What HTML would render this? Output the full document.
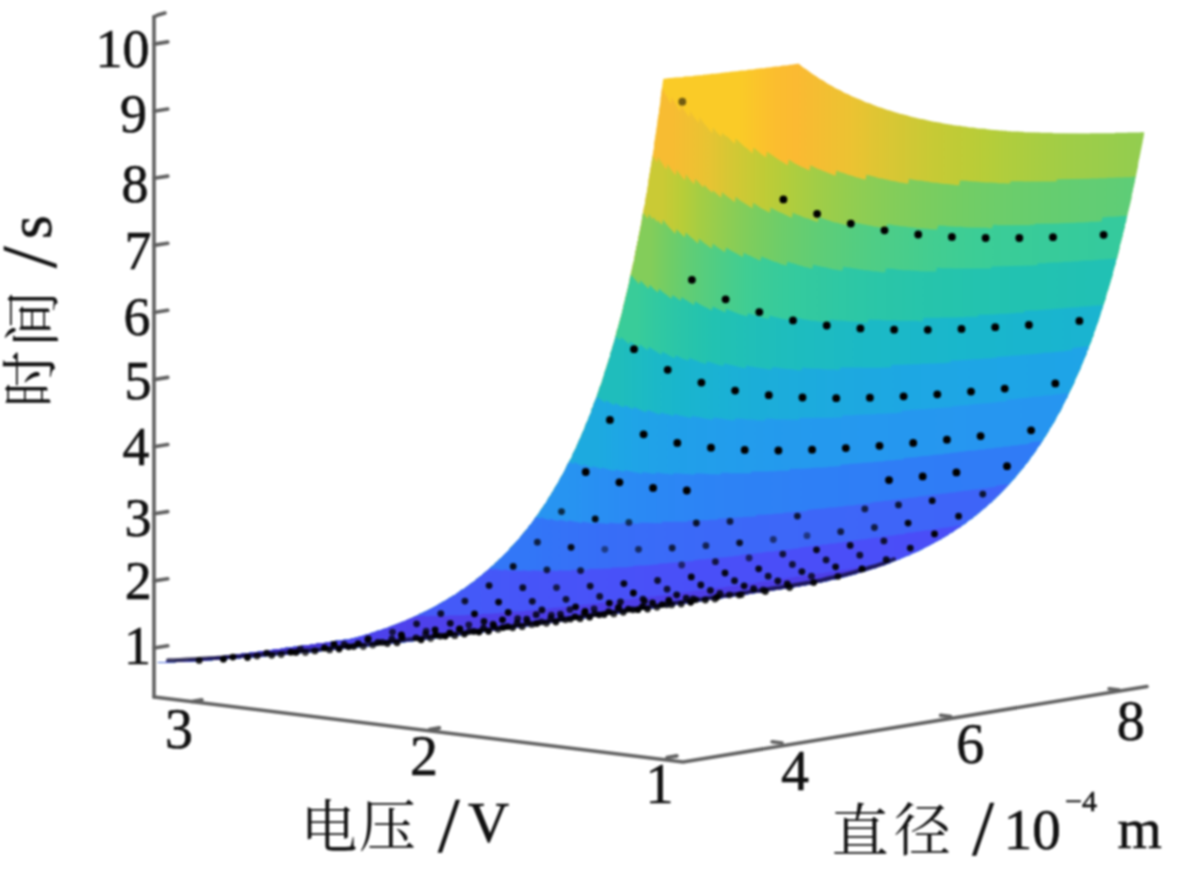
<!DOCTYPE html>
<html><head><meta charset="utf-8"><style>
html,body{margin:0;padding:0;background:#fff;}
svg{display:block;filter:blur(1.3px);}
.l{font-family:"Liberation Serif","Noto Serif CJK SC",serif;stroke:#111;stroke-width:0.6px;}
.c{font-family:"Liberation Serif","Noto Serif CJK SC",serif;}
</style></head><body>
<svg width="1200" height="881" viewBox="0 0 1200 881">
<rect width="1200" height="881" fill="#fff"/>
<g stroke="#606060" stroke-width="3.6" stroke-linecap="round" fill="none"><line x1="154.0" y1="697.0" x2="154.0" y2="16.6"/>
<polyline fill="none" points="154.0,697.0 683.0,762.0 1147.0,686.5"/>
<polyline fill="none" points="154,17 158,15 165,13"/>
<line x1="154.0" y1="648.0" x2="167.8" y2="645.8"/>
<line x1="154.0" y1="580.9" x2="167.8" y2="578.7"/>
<line x1="154.0" y1="513.8" x2="167.8" y2="511.6"/>
<line x1="154.0" y1="446.7" x2="167.8" y2="444.5"/>
<line x1="154.0" y1="379.6" x2="167.8" y2="377.4"/>
<line x1="154.0" y1="312.5" x2="167.8" y2="310.3"/>
<line x1="154.0" y1="245.4" x2="167.8" y2="243.2"/>
<line x1="154.0" y1="178.3" x2="167.8" y2="176.1"/>
<line x1="154.0" y1="111.2" x2="167.8" y2="109.0"/>
<line x1="154.0" y1="44.1" x2="167.8" y2="41.9"/>
<line x1="192.0" y1="701.5" x2="201.9" y2="699.9"/>
<line x1="429.5" y1="729.5" x2="439.4" y2="727.9"/>
<line x1="667.0" y1="757.5" x2="676.9" y2="755.9"/>
<line x1="782.0" y1="743.0" x2="772.1" y2="741.8"/>
<line x1="950.5" y1="716.5" x2="940.6" y2="715.3"/>
<line x1="1119.0" y1="690.0" x2="1109.1" y2="688.8"/></g>
<g stroke-width="0.6" stroke-linejoin="round">
<defs><linearGradient id="g0" gradientUnits="userSpaceOnUse" x1="681.5" y1="0" x2="1139.8" y2="0"><stop offset="0.000" stop-color="#facb27"/><stop offset="0.042" stop-color="#facb27"/><stop offset="0.083" stop-color="#facb27"/><stop offset="0.125" stop-color="#facb27"/><stop offset="0.167" stop-color="#fbc42b"/><stop offset="0.208" stop-color="#fbbd2f"/><stop offset="0.250" stop-color="#fbba32"/><stop offset="0.292" stop-color="#f5bd32"/><stop offset="0.333" stop-color="#f0c032"/><stop offset="0.375" stop-color="#ebc332"/><stop offset="0.417" stop-color="#e1c533"/><stop offset="0.458" stop-color="#d8c734"/><stop offset="0.500" stop-color="#d0c835"/><stop offset="0.542" stop-color="#c8ca35"/><stop offset="0.583" stop-color="#c2cb36"/><stop offset="0.625" stop-color="#bccc37"/><stop offset="0.667" stop-color="#b6cd39"/><stop offset="0.708" stop-color="#b0cd3d"/><stop offset="0.750" stop-color="#abcd40"/><stop offset="0.792" stop-color="#a6cd43"/><stop offset="0.833" stop-color="#a1cd46"/><stop offset="0.875" stop-color="#9dcd49"/><stop offset="0.917" stop-color="#9acd4b"/><stop offset="0.958" stop-color="#96cd4d"/><stop offset="1.000" stop-color="#93cd4f"/></linearGradient>
<linearGradient id="g1" gradientUnits="userSpaceOnUse" x1="672.3" y1="0" x2="1130.7" y2="0"><stop offset="0.000" stop-color="#f7bc32"/><stop offset="0.042" stop-color="#f0c032"/><stop offset="0.083" stop-color="#e6c433"/><stop offset="0.125" stop-color="#d6c734"/><stop offset="0.167" stop-color="#c9ca35"/><stop offset="0.208" stop-color="#bdcc37"/><stop offset="0.250" stop-color="#b2cd3c"/><stop offset="0.292" stop-color="#a7cd43"/><stop offset="0.333" stop-color="#9dcd49"/><stop offset="0.375" stop-color="#95cd4e"/><stop offset="0.417" stop-color="#8ecd53"/><stop offset="0.458" stop-color="#87cd57"/><stop offset="0.500" stop-color="#81cd5b"/><stop offset="0.542" stop-color="#7ccd5e"/><stop offset="0.583" stop-color="#77cd61"/><stop offset="0.625" stop-color="#73cd64"/><stop offset="0.667" stop-color="#70cd67"/><stop offset="0.708" stop-color="#6dcd6a"/><stop offset="0.750" stop-color="#6acd6c"/><stop offset="0.792" stop-color="#68cd6e"/><stop offset="0.833" stop-color="#65cd70"/><stop offset="0.875" stop-color="#63cd72"/><stop offset="0.917" stop-color="#62cd74"/><stop offset="0.958" stop-color="#60cd75"/><stop offset="1.000" stop-color="#5ecd77"/></linearGradient>
<linearGradient id="g2" gradientUnits="userSpaceOnUse" x1="662.8" y1="0" x2="1121.2" y2="0"><stop offset="0.000" stop-color="#caca35"/><stop offset="0.042" stop-color="#b8cd38"/><stop offset="0.083" stop-color="#a4cd44"/><stop offset="0.125" stop-color="#94cd4f"/><stop offset="0.167" stop-color="#85cd58"/><stop offset="0.208" stop-color="#79cd60"/><stop offset="0.250" stop-color="#6fcd68"/><stop offset="0.292" stop-color="#67cd6f"/><stop offset="0.333" stop-color="#60cd75"/><stop offset="0.375" stop-color="#5acd7b"/><stop offset="0.417" stop-color="#54cd80"/><stop offset="0.458" stop-color="#4fcd85"/><stop offset="0.500" stop-color="#4bcd89"/><stop offset="0.542" stop-color="#47cd8c"/><stop offset="0.583" stop-color="#43cd90"/><stop offset="0.625" stop-color="#40cd93"/><stop offset="0.667" stop-color="#3dcd95"/><stop offset="0.708" stop-color="#3bcd97"/><stop offset="0.750" stop-color="#3acc98"/><stop offset="0.792" stop-color="#39cc99"/><stop offset="0.833" stop-color="#38cb9a"/><stop offset="0.875" stop-color="#37cb9b"/><stop offset="0.917" stop-color="#36cb9c"/><stop offset="0.958" stop-color="#35ca9d"/><stop offset="1.000" stop-color="#35ca9d"/></linearGradient>
<linearGradient id="g3" gradientUnits="userSpaceOnUse" x1="651.3" y1="0" x2="1109.6" y2="0"><stop offset="0.000" stop-color="#83cd5a"/><stop offset="0.042" stop-color="#6fcd67"/><stop offset="0.083" stop-color="#60cd75"/><stop offset="0.125" stop-color="#54cd80"/><stop offset="0.167" stop-color="#49cd8a"/><stop offset="0.208" stop-color="#40cd93"/><stop offset="0.250" stop-color="#3acc98"/><stop offset="0.292" stop-color="#36cb9c"/><stop offset="0.333" stop-color="#33ca9f"/><stop offset="0.375" stop-color="#31c8a1"/><stop offset="0.417" stop-color="#2ec8a4"/><stop offset="0.458" stop-color="#2cc7a6"/><stop offset="0.500" stop-color="#2ac6a8"/><stop offset="0.542" stop-color="#29c5a9"/><stop offset="0.583" stop-color="#27c5ab"/><stop offset="0.625" stop-color="#26c4ac"/><stop offset="0.667" stop-color="#25c4ad"/><stop offset="0.708" stop-color="#23c3af"/><stop offset="0.750" stop-color="#23c3b0"/><stop offset="0.792" stop-color="#22c2b1"/><stop offset="0.833" stop-color="#22c2b1"/><stop offset="0.875" stop-color="#22c2b2"/><stop offset="0.917" stop-color="#22c1b3"/><stop offset="0.958" stop-color="#21c1b4"/><stop offset="1.000" stop-color="#21c1b4"/></linearGradient>
<linearGradient id="g4" gradientUnits="userSpaceOnUse" x1="637.2" y1="0" x2="1095.5" y2="0"><stop offset="0.000" stop-color="#39cc99"/><stop offset="0.042" stop-color="#31c9a1"/><stop offset="0.083" stop-color="#2bc6a7"/><stop offset="0.125" stop-color="#26c4ac"/><stop offset="0.167" stop-color="#22c2b1"/><stop offset="0.208" stop-color="#21c1b5"/><stop offset="0.250" stop-color="#20bfb8"/><stop offset="0.292" stop-color="#1fbebb"/><stop offset="0.333" stop-color="#1ebdbe"/><stop offset="0.375" stop-color="#1dbcc0"/><stop offset="0.417" stop-color="#1dbbc2"/><stop offset="0.458" stop-color="#1cbac4"/><stop offset="0.500" stop-color="#1bb9c6"/><stop offset="0.542" stop-color="#1bb9c7"/><stop offset="0.583" stop-color="#1bb8c8"/><stop offset="0.625" stop-color="#1ab7ca"/><stop offset="0.667" stop-color="#1ab7cb"/><stop offset="0.708" stop-color="#19b7cc"/><stop offset="0.750" stop-color="#19b6cc"/><stop offset="0.792" stop-color="#19b6cd"/><stop offset="0.833" stop-color="#19b5ce"/><stop offset="0.875" stop-color="#19b5ce"/><stop offset="0.917" stop-color="#19b5cf"/><stop offset="0.958" stop-color="#1ab4d0"/><stop offset="1.000" stop-color="#1ab4d0"/></linearGradient>
<linearGradient id="g5" gradientUnits="userSpaceOnUse" x1="620.0" y1="0" x2="1078.3" y2="0"><stop offset="0.000" stop-color="#1fbdbc"/><stop offset="0.042" stop-color="#1dbbc2"/><stop offset="0.083" stop-color="#1bb8c8"/><stop offset="0.125" stop-color="#19b6cc"/><stop offset="0.167" stop-color="#1ab4d0"/><stop offset="0.208" stop-color="#1ab2d3"/><stop offset="0.250" stop-color="#1bb0d6"/><stop offset="0.292" stop-color="#1baed8"/><stop offset="0.333" stop-color="#1cadda"/><stop offset="0.375" stop-color="#1cacdc"/><stop offset="0.417" stop-color="#1cabdd"/><stop offset="0.458" stop-color="#1daadf"/><stop offset="0.500" stop-color="#1da9e0"/><stop offset="0.542" stop-color="#1da8e1"/><stop offset="0.583" stop-color="#1da8e2"/><stop offset="0.625" stop-color="#1da7e3"/><stop offset="0.667" stop-color="#1ea7e4"/><stop offset="0.708" stop-color="#1ea6e4"/><stop offset="0.750" stop-color="#1ea6e5"/><stop offset="0.792" stop-color="#1ea5e5"/><stop offset="0.833" stop-color="#1ea5e6"/><stop offset="0.875" stop-color="#1ea5e6"/><stop offset="0.917" stop-color="#1ea4e6"/><stop offset="0.958" stop-color="#1ea4e7"/><stop offset="1.000" stop-color="#1fa4e7"/></linearGradient>
<linearGradient id="g6" gradientUnits="userSpaceOnUse" x1="596.7" y1="0" x2="1055.0" y2="0"><stop offset="0.000" stop-color="#1daadf"/><stop offset="0.042" stop-color="#1ea7e4"/><stop offset="0.083" stop-color="#1fa4e7"/><stop offset="0.125" stop-color="#20a2e8"/><stop offset="0.167" stop-color="#20a0e9"/><stop offset="0.208" stop-color="#219fea"/><stop offset="0.250" stop-color="#229eeb"/><stop offset="0.292" stop-color="#229dec"/><stop offset="0.333" stop-color="#239cec"/><stop offset="0.375" stop-color="#239bed"/><stop offset="0.417" stop-color="#249aed"/><stop offset="0.458" stop-color="#249aee"/><stop offset="0.500" stop-color="#2499ee"/><stop offset="0.542" stop-color="#2599ee"/><stop offset="0.583" stop-color="#2598ef"/><stop offset="0.625" stop-color="#2598ef"/><stop offset="0.667" stop-color="#2597ef"/><stop offset="0.708" stop-color="#2597ef"/><stop offset="0.750" stop-color="#2697ef"/><stop offset="0.792" stop-color="#2697f0"/><stop offset="0.833" stop-color="#2696f0"/><stop offset="0.875" stop-color="#2696f0"/><stop offset="0.917" stop-color="#2696f0"/><stop offset="0.958" stop-color="#2695f0"/><stop offset="1.000" stop-color="#2695f0"/></linearGradient>
<linearGradient id="g7" gradientUnits="userSpaceOnUse" x1="566.5" y1="0" x2="1024.9" y2="0"><stop offset="0.000" stop-color="#2794f1"/><stop offset="0.042" stop-color="#2891f2"/><stop offset="0.083" stop-color="#298ef3"/><stop offset="0.125" stop-color="#2a8bf4"/><stop offset="0.167" stop-color="#2a89f4"/><stop offset="0.208" stop-color="#2b87f4"/><stop offset="0.250" stop-color="#2c86f5"/><stop offset="0.292" stop-color="#2c84f5"/><stop offset="0.333" stop-color="#2d83f5"/><stop offset="0.375" stop-color="#2d82f5"/><stop offset="0.417" stop-color="#2d81f5"/><stop offset="0.458" stop-color="#2e81f5"/><stop offset="0.500" stop-color="#2e80f6"/><stop offset="0.542" stop-color="#2e7ff6"/><stop offset="0.583" stop-color="#2e7ff6"/><stop offset="0.625" stop-color="#2f7ef6"/><stop offset="0.667" stop-color="#2f7ef6"/><stop offset="0.708" stop-color="#2f7df6"/><stop offset="0.750" stop-color="#2f7df6"/><stop offset="0.792" stop-color="#2f7df6"/><stop offset="0.833" stop-color="#2f7cf6"/><stop offset="0.875" stop-color="#307cf6"/><stop offset="0.917" stop-color="#307cf6"/><stop offset="0.958" stop-color="#307cf6"/><stop offset="1.000" stop-color="#307bf6"/></linearGradient>
<linearGradient id="g8" gradientUnits="userSpaceOnUse" x1="526.8" y1="0" x2="985.2" y2="0"><stop offset="0.000" stop-color="#3277f7"/><stop offset="0.042" stop-color="#3374f7"/><stop offset="0.083" stop-color="#3572f7"/><stop offset="0.125" stop-color="#3670f7"/><stop offset="0.167" stop-color="#376ef7"/><stop offset="0.208" stop-color="#386df7"/><stop offset="0.250" stop-color="#396cf8"/><stop offset="0.292" stop-color="#3a6bf8"/><stop offset="0.333" stop-color="#3a6af8"/><stop offset="0.375" stop-color="#3b69f8"/><stop offset="0.417" stop-color="#3b68f8"/><stop offset="0.458" stop-color="#3c68f8"/><stop offset="0.500" stop-color="#3c67f8"/><stop offset="0.542" stop-color="#3d67f8"/><stop offset="0.583" stop-color="#3d67f8"/><stop offset="0.625" stop-color="#3d66f8"/><stop offset="0.667" stop-color="#3d66f8"/><stop offset="0.708" stop-color="#3e66f8"/><stop offset="0.750" stop-color="#3e65f8"/><stop offset="0.792" stop-color="#3e65f8"/><stop offset="0.833" stop-color="#3e65f8"/><stop offset="0.875" stop-color="#3e65f8"/><stop offset="0.917" stop-color="#3e64f8"/><stop offset="0.958" stop-color="#3e64f8"/><stop offset="1.000" stop-color="#3f64f8"/></linearGradient>
<linearGradient id="g9" gradientUnits="userSpaceOnUse" x1="467.6" y1="0" x2="925.9" y2="0"><stop offset="0.000" stop-color="#445af8"/><stop offset="0.042" stop-color="#4558f8"/><stop offset="0.083" stop-color="#4657f8"/><stop offset="0.125" stop-color="#4655f8"/><stop offset="0.167" stop-color="#4754f8"/><stop offset="0.208" stop-color="#4753f8"/><stop offset="0.250" stop-color="#4853f8"/><stop offset="0.292" stop-color="#4852f8"/><stop offset="0.333" stop-color="#4851f8"/><stop offset="0.375" stop-color="#4951f8"/><stop offset="0.417" stop-color="#4950f8"/><stop offset="0.458" stop-color="#4950f8"/><stop offset="0.500" stop-color="#494ff8"/><stop offset="0.542" stop-color="#494ff8"/><stop offset="0.583" stop-color="#4a4ff8"/><stop offset="0.625" stop-color="#4a4ff8"/><stop offset="0.667" stop-color="#4a4ef8"/><stop offset="0.708" stop-color="#4a4ef8"/><stop offset="0.750" stop-color="#4a4ef8"/><stop offset="0.792" stop-color="#4a4ef8"/><stop offset="0.833" stop-color="#4a4ef8"/><stop offset="0.875" stop-color="#4a4ef8"/><stop offset="0.917" stop-color="#4a4ef8"/><stop offset="0.958" stop-color="#4a4df8"/><stop offset="1.000" stop-color="#4a4df7"/></linearGradient>
<linearGradient id="g10" gradientUnits="userSpaceOnUse" x1="362.4" y1="0" x2="820.7" y2="0"><stop offset="0.000" stop-color="#4d43ee"/><stop offset="0.042" stop-color="#4d42ed"/><stop offset="0.083" stop-color="#4e42ed"/><stop offset="0.125" stop-color="#4e41ec"/><stop offset="0.167" stop-color="#4e41eb"/><stop offset="0.208" stop-color="#4e40eb"/><stop offset="0.250" stop-color="#4e40eb"/><stop offset="0.292" stop-color="#4e3fea"/><stop offset="0.333" stop-color="#4e3fea"/><stop offset="0.375" stop-color="#4e3fe9"/><stop offset="0.417" stop-color="#4d3fe9"/><stop offset="0.458" stop-color="#4d3fe9"/><stop offset="0.500" stop-color="#4d3fe9"/><stop offset="0.542" stop-color="#4d3ee8"/><stop offset="0.583" stop-color="#4d3ee8"/><stop offset="0.625" stop-color="#4d3ee8"/><stop offset="0.667" stop-color="#4d3ee8"/><stop offset="0.708" stop-color="#4d3ee8"/><stop offset="0.750" stop-color="#4d3ee8"/><stop offset="0.792" stop-color="#4d3ee8"/><stop offset="0.833" stop-color="#4d3ee8"/><stop offset="0.875" stop-color="#4d3ee7"/><stop offset="0.917" stop-color="#4d3ee7"/><stop offset="0.958" stop-color="#4d3ee7"/><stop offset="1.000" stop-color="#4d3ee7"/></linearGradient>
<linearGradient id="g11" gradientUnits="userSpaceOnUse" x1="225.5" y1="0" x2="683.8" y2="0"><stop offset="0.000" stop-color="#4733d4"/><stop offset="0.042" stop-color="#4732d3"/><stop offset="0.083" stop-color="#4632d3"/><stop offset="0.125" stop-color="#4632d2"/><stop offset="0.167" stop-color="#4631d2"/><stop offset="0.208" stop-color="#4631d1"/><stop offset="0.250" stop-color="#4631d1"/><stop offset="0.292" stop-color="#4531d1"/><stop offset="0.333" stop-color="#4531d0"/><stop offset="0.375" stop-color="#4531d0"/><stop offset="0.417" stop-color="#4531d0"/><stop offset="0.458" stop-color="#4530d0"/><stop offset="0.500" stop-color="#4530d0"/><stop offset="0.542" stop-color="#4530cf"/><stop offset="0.583" stop-color="#4530cf"/><stop offset="0.625" stop-color="#4530cf"/><stop offset="0.667" stop-color="#4530cf"/><stop offset="0.708" stop-color="#4530cf"/><stop offset="0.750" stop-color="#4530cf"/><stop offset="0.792" stop-color="#4530cf"/><stop offset="0.833" stop-color="#4530cf"/><stop offset="0.875" stop-color="#4530cf"/><stop offset="0.917" stop-color="#4530cf"/><stop offset="0.958" stop-color="#4530cf"/><stop offset="1.000" stop-color="#4530cf"/></linearGradient></defs>
<path fill="url(#g0)" fill-rule="evenodd" d="M1144.2 132.2L1140.2 132.2L1139.8 132.5L1127.5 132.5L1127.2 132.8L1115.2 132.8L1114.8 133.2L1090.2 133.2L1089.8 133.5L1052.8 133.2L1052.5 132.8L1040.5 132.8L1040.2 132.5L1023.8 132.2L1023.5 131.8L1019.5 131.8L1019.2 131.5L1011.2 131.5L1010.8 131.2L1007.2 131.2L1006.8 130.8L1002.8 130.8L1002.5 130.5L998.8 130.5L998.5 130.2L990.5 129.8L990.2 129.5L988.2 129.5L987.8 129.2L986.2 129.2L985.8 128.8L977.8 128.5L977.5 128.2L975.8 128.2L975.5 127.8L973.8 127.8L973.5 127.5L969.5 127.5L969.2 127.2L967.5 127.2L967.2 126.8L965.5 126.8L965.2 126.5L963.2 126.5L962.8 126.2L961.2 126.2L960.8 125.8L957.2 125.8L956.8 125.5L954.8 125.5L954.5 125.2L952.8 125.2L952.5 124.8L950.8 124.8L950.5 124.5L948.8 124.5L948.5 124.2L944.5 123.8L944.2 123.5L943.2 123.5L942.8 123.2L941.8 123.2L940.2 122.5L938.2 122.5L937.8 122.2L932.2 121.5L931.8 121.2L929.2 120.8L928.8 120.5L927.8 120.5L927.5 120.2L926.5 120.2L926.2 119.8L925.2 119.8L923.5 119.2L919.5 118.8L919.2 118.5L918.2 118.5L917.8 118.2L916.8 118.2L916.5 117.8L915.5 117.8L913.8 117.2L912.5 117.2L912.2 116.8L911.2 116.8L906.8 115.2L904.2 114.8L903.8 114.5L898.8 113.5L897.5 112.8L896.5 112.8L889.2 110.2L888.2 110.2L880.8 107.5L879.8 107.5L879.5 107.2L877.8 106.8L876.8 106.2L876.2 106.2L875.2 105.5L874.5 105.5L870.2 103.5L865.5 102.2L860.2 99.5L859.5 99.5L858.5 98.8L857.8 98.8L856.8 98.2L856.2 98.2L855.2 97.5L852.8 96.8L847.2 93.8L846.5 93.8L843.8 92.5L840.8 90.5L835.5 88.2L832.5 86.2L827.2 83.5L823.5 80.8L819.5 78.8L816.2 76.2L813.2 74.5L806.5 69.5L803.2 67.5L798.5 63.5L798.2 63.8L793.8 64.2L793.5 64.5L792.2 64.5L791.8 64.8L789.2 64.8L788.8 65.2L786.8 65.2L786.5 65.5L782.5 65.5L782.2 65.8L779.5 66.2L779.2 66.5L774.8 66.5L774.5 66.8L772.5 66.8L772.2 67.2L770.2 67.2L769.8 67.5L767.5 67.5L767.2 67.8L765.2 67.8L764.8 68.2L760.5 68.2L760.2 68.5L758.2 68.5L757.8 68.8L755.5 68.8L755.2 69.2L753.8 69.2L753.5 69.5L747.5 69.8L747.2 70.2L745.8 70.2L745.5 70.5L740.8 70.5L740.5 70.8L738.5 70.8L738.2 71.2L735.2 71.2L734.8 71.5L732.2 71.5L731.8 71.8L729.5 71.8L729.2 72.2L725.8 72.2L725.5 72.5L723.8 72.5L723.5 72.8L720.8 72.8L720.5 73.2L718.2 73.2L717.8 73.5L715.8 73.5L715.5 73.8L710.8 73.8L710.5 74.2L707.8 74.2L707.5 74.5L702.8 74.8L702.5 75.2L698.2 75.2L697.8 75.5L695.2 75.5L694.8 75.8L693.2 75.8L692.8 76.2L684.2 76.5L682.8 77.2L674.2 77.5L673.8 77.8L667.2 78.2L666.8 78.5L665.5 78.5L665.2 78.8L663.5 78.8L663.2 79.5L663.2 80.8L662.8 81.2L662.8 83.5L662.5 83.8L662.2 88.2L661.8 88.5L661.8 90.8L661.5 91.2L661.2 96.2L660.8 96.5L660.5 102.8L660.2 103.2L660.2 105.2L659.8 105.5L659.8 107.5L659.5 107.8L658.8 114.5L658.5 114.8L658.5 116.5L658.2 116.8L658.2 118.5L657.8 118.8L657.8 121.2L657.5 121.5L657.2 126.2L656.8 126.5L656.5 130.5L656.2 130.8L656.2 132.8L655.8 133.2L655.8 134.8L655.5 135.2L655.5 137.2L655.2 137.5L655.2 139.2L654.8 139.5L654.8 141.2L654.5 141.5L653.8 149.8L653.5 150.2L653.5 151.8L653.2 152.2L653.2 153.8L652.8 154.2L652.8 156.2L652.5 156.5L652.5 158.2L652.2 158.5L652.2 160.2L651.8 160.5L651.8 162.5L651.5 162.8L651.5 164.5L651.2 164.8L651.2 166.5L650.8 166.8L650.2 172.5L649.8 172.8L649.5 176.2L649.2 176.5L649.2 178.2L648.8 178.5L648.2 185.8L647.8 186.2L647.5 189.8L647.2 190.2L646.8 193.5L646.5 193.8L646.5 195.2L646.2 195.5L646.2 196.8L645.8 197.2L645.8 198.8L645.5 199.2L645.5 200.8L645.2 201.2L644.8 205.2L644.5 205.5L644.5 206.5L643.8 208.2L643.8 209.8L643.5 210.2L643.5 211.5L643.2 211.8L643.2 213.2L642.8 213.5L642.8 214.8L642.5 215.2L642.5 216.5L642.2 216.8L641.5 223.5L641.2 223.8L641.2 225.2L640.8 225.5L640.8 226.8L640.5 227.2L640.5 228.5L640.2 228.8L640.2 230.2L639.8 230.5L639.8 231.8L639.5 232.2L639.5 233.5L639.2 233.8L639.2 235.2L638.8 235.5L638.2 240.2L637.5 241.8L637.2 244.8L636.5 246.5L636.2 249.5L635.5 251.2L635.5 252.8L635.2 253.2L635.2 255.2L634.8 255.5L634.5 258.8L634.2 259.2L633.8 261.8L633.5 262.2L633.5 263.2L632.8 264.8L632.8 266.2L632.5 266.5L632.5 267.8L631.8 269.5L631.8 270.8L631.5 271.2L631.5 272.2L630.8 273.8L630.8 275.2L630.5 275.5L630.5 276.5L629.8 278.2L629.8 280.5L629.5 280.8L629.2 283.5L628.8 283.8L628.8 284.8L628.2 286.5L628.2 287.8L627.8 288.2L627.8 289.2L627.5 289.5L627.5 290.5L627.2 290.8L627.2 291.8L626.8 292.2L626.8 293.2L626.5 293.5L626.5 294.5L626.2 294.8L626.2 295.8L625.8 296.2L625.8 297.2L625.5 297.5L624.5 302.5L624.2 302.8L623.5 306.2L623.2 306.5L622.8 309.8L622.5 310.2L621.8 313.8L621.2 315.2L621.2 316.2L620.2 318.8L620.2 319.8L619.2 322.5L619.2 323.5L618.2 326.2L618.2 327.2L617.2 329.5L617.2 330.5L616.8 330.8L616.8 331.8L616.2 333.5L616.2 334.8L615.8 335.2L615.2 338.8L614.5 340.2L614.5 341.2L614.2 341.5L614.2 342.2L613.5 343.5L613.5 344.5L612.5 346.8L612.5 347.8L610.5 353.2L610.2 356.2L608.8 359.5L608.8 360.5L608.5 360.8L608.5 361.5L608.2 361.8L608.2 362.5L607.8 362.8L607.8 363.5L607.5 363.8L607.5 364.5L607.2 364.8L607.2 365.5L606.8 365.8L606.8 366.5L604.2 373.8L603.8 376.2L603.5 376.5L601.2 384.2L600.5 385.2L600.5 385.8L599.5 387.8L598.2 392.5L597.5 393.5L597.5 394.5L597.2 394.8L597.2 395.8L596.8 396.2L596.5 397.8L594.8 401.2L594.8 401.8L593.8 403.8L592.8 407.2L591.8 408.8L591.2 412.2L590.2 413.8L590.2 414.5L589.2 416.2L588.2 419.5L585.2 425.8L584.5 428.8L582.5 432.5L582.5 433.2L581.5 434.8L581.5 435.5L578.2 442.2L578.2 442.8L576.8 445.5L576.8 446.2L572.5 454.5L572.2 456.2L570.5 459.5L569.8 460.2L568.5 463.2L567.8 463.8L564.8 470.5L564.2 471.2L562.8 474.2L560.2 478.2L558.2 482.5L554.5 488.2L552.8 491.8L551.8 492.8L550.5 495.5L549.5 496.5L548.5 498.5L547.2 500.2L546.2 502.5L541.2 509.2L538.5 513.8L534.8 518.2L533.8 520.2L530.8 524.2L528.8 526.2L527.8 528.2L522.2 534.5L519.5 538.2L516.5 541.2L514.5 543.8L509.8 548.5L508.8 550.2L506.8 552.2L506.5 552.2L500.2 558.8L499.8 558.8L496.2 562.5L495.8 562.5L493.5 565.2L491.2 566.8L487.8 570.2L487.5 570.2L485.8 571.8L483.5 573.5L481.2 575.8L479.8 576.5L478.2 578.2L476.8 578.8L474.5 581.2L471.2 583.2L469.8 584.5L468.5 585.2L466.8 586.8L464.5 588.2L463.2 589.5L461.8 589.8L454.5 595.2L453.2 595.5L450.8 597.5L449.5 597.8L446.8 599.8L445.5 600.2L444.2 601.5L442.8 601.8L440.5 603.5L439.8 603.5L436.5 605.8L435.2 606.2L433.8 607.2L433.2 607.2L432.2 608.2L431.5 608.2L430.8 608.8L429.5 609.2L428.8 609.8L427.5 610.2L426.8 610.8L425.5 611.5L424.8 611.5L424.2 612.2L422.8 612.5L421.5 613.5L419.8 613.8L418.8 614.8L417.2 615.2L415.8 616.2L414.2 616.5L413.2 617.5L410.5 618.2L409.2 619.2L405.8 620.2L404.5 621.2L400.8 622.2L398.8 623.5L398.2 623.5L397.8 623.8L395.2 624.5L394.2 625.2L390.5 626.2L389.2 627.2L388.5 627.2L387.5 627.8L381.8 629.5L380.8 630.2L380.2 630.2L378.8 630.8L377.2 630.8L375.2 631.8L369.5 633.5L368.5 634.2L366.8 634.2L366.5 634.5L362.8 635.5L361.8 636.2L360.2 636.2L356.8 637.5L355.5 637.5L353.2 638.5L351.5 638.5L348.8 639.5L347.2 639.5L346.8 639.8L343.5 639.8L342.8 640.5L340.8 640.5L340.5 640.8L335.2 640.8L334.5 641.5L332.5 641.5L332.2 641.8L330.5 641.8L330.2 642.2L326.8 642.2L326.2 642.8L320.5 643.2L320.2 643.5L316.5 643.5L315.5 644.2L313.8 644.2L313.5 644.5L310.2 644.5L309.5 645.2L307.5 645.2L307.2 645.5L301.8 645.5L301.2 646.2L299.2 646.2L298.8 646.5L297.2 646.5L296.8 646.8L293.5 646.8L292.8 647.5L290.8 647.5L290.5 647.8L285.2 647.8L284.5 648.5L282.5 648.5L282.2 648.8L280.5 648.8L280.2 649.2L274.8 649.2L273.8 649.8L272.2 649.8L271.8 650.2L268.5 650.2L267.8 650.8L265.8 650.8L265.5 651.2L260.2 651.2L259.5 651.8L257.5 651.8L257.2 652.2L253.5 652.2L253.2 652.5L249.2 652.8L248.8 653.2L247.2 653.2L246.8 653.5L241.5 653.5L240.5 654.2L238.8 654.2L238.5 654.5L233.2 654.5L232.2 655.2L230.5 655.2L230.2 655.5L224.8 655.5L223.8 656.2L222.2 656.2L221.8 656.5L216.5 656.5L215.5 657.2L213.8 657.2L213.5 657.5L208.2 657.5L207.2 658.2L201.8 658.2L201.2 658.8L199.2 658.8L198.8 659.2L191.5 659.2L190.5 659.8L188.8 659.8L188.5 660.2L183.2 660.2L182.2 660.8L174.8 660.8L173.8 661.5L166.5 661.5L165.5 662.2L158.2 662.2L157.5 662.5L166.8 662.5L167.2 662.2L175.5 662.2L175.8 661.8L183.2 661.8L183.5 661.5L196.5 661.2L196.8 660.8L202.2 660.8L202.5 660.5L207.2 660.5L207.5 660.2L217.8 659.8L218.2 659.5L222.8 659.5L223.2 659.2L227.5 659.2L227.8 658.8L232.2 658.8L232.5 658.5L236.8 658.5L237.2 658.2L240.8 658.2L241.2 657.8L245.8 657.8L246.2 657.5L249.8 657.5L250.2 657.2L258.5 656.8L258.8 656.5L262.5 656.5L262.8 656.2L266.5 656.2L266.8 655.8L270.5 655.8L270.8 655.5L274.5 655.5L274.8 655.2L282.5 654.8L282.8 654.5L286.2 654.5L286.5 654.2L289.8 654.2L290.2 653.8L293.5 653.8L293.8 653.5L297.5 653.5L297.8 653.2L304.5 652.8L304.8 652.5L307.5 652.5L307.8 652.2L311.5 652.2L311.8 651.8L314.5 651.8L314.8 651.5L318.5 651.5L318.8 651.2L321.5 651.2L321.8 650.8L325.2 650.8L325.5 650.5L328.2 650.5L328.5 650.2L331.5 650.2L331.8 649.8L334.8 649.8L335.2 649.5L341.5 649.2L341.8 648.8L347.8 648.5L348.2 648.2L350.8 648.2L351.2 647.8L353.8 647.8L354.2 647.5L357.2 647.5L357.5 647.2L359.8 647.2L360.2 646.8L363.5 646.8L363.8 646.5L366.2 646.5L366.5 646.2L369.5 646.2L369.8 645.8L372.2 645.8L372.5 645.5L375.2 645.5L375.5 645.2L378.2 645.2L378.5 644.8L380.8 644.8L381.2 644.5L387.2 644.2L387.5 643.8L392.8 643.5L393.2 643.2L398.5 642.8L398.8 642.5L401.5 642.5L401.8 642.2L405.5 642.2L405.8 641.8L407.2 641.8L407.5 641.5L413.8 641.2L414.2 640.8L417.8 640.5L418.2 640.2L422.2 640.2L423.8 639.5L426.2 639.5L426.5 639.2L430.5 639.2L430.8 638.8L434.2 638.5L434.5 638.2L437.2 638.2L437.5 637.8L439.8 637.8L440.2 637.5L442.5 637.5L442.8 637.2L447.8 636.8L448.2 636.5L450.2 636.5L450.5 636.2L453.5 636.2L453.8 635.8L458.2 635.5L458.5 635.2L460.5 635.2L460.8 634.8L463.5 634.8L463.8 634.5L468.5 634.2L468.8 633.8L471.2 633.8L471.5 633.5L476.2 633.2L476.5 632.8L478.8 632.8L479.2 632.5L483.8 632.2L484.2 631.8L486.2 631.8L486.5 631.5L488.8 631.5L489.2 631.2L491.2 631.2L491.5 630.8L494.2 630.8L494.5 630.5L496.5 630.5L496.8 630.2L498.8 630.2L499.2 629.8L501.5 629.8L501.8 629.5L503.8 629.5L504.2 629.2L506.2 629.2L506.5 628.8L508.8 628.8L509.2 628.5L511.5 628.5L511.8 628.2L513.5 628.2L513.8 627.8L518.8 627.5L519.2 627.2L521.2 627.2L521.5 626.8L523.5 626.8L523.8 626.5L526.2 626.5L526.5 626.2L528.5 626.2L528.8 625.8L530.8 625.8L531.2 625.5L533.2 625.5L533.5 625.2L535.5 625.2L535.8 624.8L538.2 624.8L538.5 624.5L540.5 624.5L540.8 624.2L543.2 624.2L543.5 623.8L547.5 623.5L547.8 623.2L550.2 623.2L550.5 622.8L552.5 622.8L552.8 622.5L554.8 622.5L555.2 622.2L557.5 622.2L557.8 621.8L559.8 621.8L560.2 621.5L564.2 621.2L564.5 620.8L566.8 620.8L567.2 620.5L569.2 620.5L569.5 620.2L571.5 620.2L571.8 619.8L574.2 619.8L574.5 619.5L576.5 619.5L576.8 619.2L578.5 619.2L578.8 618.8L583.5 618.5L583.8 618.2L587.8 617.8L588.2 617.5L590.5 617.5L590.8 617.2L592.5 617.2L592.8 616.8L594.8 616.8L595.2 616.5L597.2 616.5L597.5 616.2L599.5 616.2L599.8 615.8L601.8 615.8L602.2 615.5L604.2 615.5L604.5 615.2L606.5 615.2L606.8 614.8L608.8 614.8L609.2 614.5L611.2 614.5L611.5 614.2L613.5 614.2L613.8 613.8L615.8 613.8L616.2 613.5L618.2 613.5L618.5 613.2L620.5 613.2L620.8 612.8L622.8 612.8L623.2 612.5L625.2 612.5L625.5 612.2L632.2 611.5L632.5 611.2L636.5 610.8L636.8 610.5L639.2 610.5L639.5 610.2L641.2 610.2L641.5 609.8L648.2 609.2L648.5 608.8L650.2 608.8L650.5 608.5L652.5 608.5L652.8 608.2L657.2 607.8L657.5 607.5L659.2 607.5L659.5 607.2L664.2 606.8L664.5 606.5L668.5 606.2L668.8 605.8L670.8 605.8L671.2 605.5L672.8 605.5L673.2 605.2L675.2 605.2L675.5 604.8L682.2 604.2L682.5 603.8L684.2 603.8L684.5 603.5L689.2 603.2L689.5 602.8L690.8 602.8L691.2 602.5L693.2 602.5L693.5 602.2L695.5 602.2L695.8 601.8L697.8 601.8L698.2 601.5L704.8 600.8L705.2 600.5L706.8 600.5L707.2 600.2L708.8 600.2L709.2 599.8L711.2 599.8L711.5 599.5L713.8 599.5L714.2 599.2L718.2 598.8L718.5 598.5L720.2 598.5L720.5 598.2L722.5 598.2L722.8 597.8L724.5 597.8L724.8 597.5L729.2 597.2L729.5 596.8L731.2 596.8L731.5 596.5L733.5 596.5L733.8 596.2L740.5 595.5L740.8 595.2L742.5 595.2L742.8 594.8L747.2 594.5L747.5 594.2L751.5 593.8L751.8 593.5L753.5 593.5L753.8 593.2L760.5 592.5L760.8 592.2L762.5 592.2L762.8 591.8L764.5 591.8L764.8 591.5L766.8 591.5L767.2 591.2L771.5 590.8L771.8 590.5L773.5 590.5L773.8 590.2L780.5 589.5L780.8 589.2L782.2 589.2L782.5 588.8L784.5 588.8L784.8 588.5L786.5 588.5L786.8 588.2L788.2 588.2L788.5 587.8L791.2 587.8L791.5 587.5L793.2 587.5L793.5 587.2L794.8 587.2L795.2 586.8L796.8 586.8L797.2 586.5L800.8 586.2L801.2 585.8L804.5 585.5L804.8 585.2L806.5 585.2L806.8 584.8L808.2 584.8L808.5 584.5L810.2 584.5L810.5 584.2L811.8 584.2L812.2 583.8L813.8 583.8L814.2 583.5L815.5 583.5L817.2 582.8L822.2 582.2L823.5 581.5L827.2 581.2L828.2 580.5L829.8 580.5L831.2 579.8L832.8 579.8L834.2 579.2L835.5 579.2L836.8 578.5L838.5 578.5L838.8 578.2L841.2 577.8L842.5 577.2L844.2 577.2L844.5 576.8L845.2 576.8L846.5 576.2L847.8 576.2L850.2 575.2L851.8 575.2L853.8 574.2L855.5 574.2L858.8 572.8L860.2 572.8L864.5 571.2L865.8 571.2L866.2 570.8L871.8 569.2L873.8 568.2L875.5 568.2L875.8 567.8L877.5 567.5L878.5 566.8L884.2 565.2L885.2 564.5L885.8 564.5L888.2 563.5L889.5 563.5L890.2 562.8L890.8 562.8L891.8 561.8L892.5 561.8L892.8 561.5L896.5 560.5L897.5 559.8L899.2 559.5L900.5 558.5L903.2 557.8L905.2 556.5L908.8 555.5L910.8 554.2L912.5 553.8L913.8 552.8L915.5 552.5L916.5 551.5L918.2 551.2L918.8 550.5L920.2 550.2L920.8 549.5L922.2 549.2L923.5 548.2L924.8 547.8L925.5 547.2L926.8 546.8L927.5 546.2L929.5 545.5L931.2 544.2L932.5 543.8L933.8 542.8L934.5 542.8L935.5 541.8L936.2 541.8L936.8 541.2L938.2 540.8L939.8 539.5L941.2 539.2L942.5 537.8L943.8 537.5L946.5 535.5L947.8 535.2L950.2 533.2L951.5 532.8L957.8 528.2L959.2 527.8L960.2 527.2L961.5 525.8L965.8 523.2L968.2 520.8L972.5 518.2L973.8 516.5L976.2 515.2L977.8 513.5L979.2 512.8L980.5 511.2L981.8 510.5L983.5 508.8L985.8 507.2L987.2 505.5L987.5 505.5L989.2 503.8L991.5 502.2L993.8 499.5L994.2 499.5L997.8 495.8L998.5 495.5L998.5 495.2L1010.8 482.5L1012.5 480.2L1015.5 477.2L1015.5 476.8L1017.5 474.8L1018.2 473.5L1023.8 467.2L1024.8 465.2L1026.8 463.2L1029.8 459.2L1030.5 457.8L1035.5 451.5L1037.5 447.8L1042.8 440.5L1044.2 437.8L1045.8 435.8L1047.2 433.2L1048.5 431.5L1049.8 428.5L1051.5 426.5L1051.8 425.5L1054.5 421.5L1057.5 415.2L1060.2 411.2L1062.5 406.5L1062.5 405.8L1063.2 404.5L1063.8 403.8L1066.2 398.8L1066.8 398.2L1067.8 396.2L1068.2 394.5L1074.2 382.8L1074.8 380.2L1080.8 367.8L1081.5 364.8L1082.5 363.2L1082.5 362.5L1083.5 360.8L1083.5 360.2L1086.5 353.8L1086.8 351.5L1088.2 349.2L1088.5 347.2L1090.2 343.8L1090.2 343.2L1091.2 341.2L1092.2 337.8L1093.2 336.2L1093.2 335.2L1093.5 334.8L1093.5 333.8L1093.8 333.5L1094.2 331.8L1094.8 330.8L1096.2 326.2L1096.8 325.2L1096.8 324.5L1097.8 322.5L1099.2 317.8L1099.8 316.8L1100.5 313.2L1102.5 307.8L1102.8 305.8L1103.5 304.8L1103.5 304.2L1105.5 298.8L1106.5 293.8L1108.5 288.5L1108.5 287.5L1108.8 287.2L1108.8 286.5L1109.5 285.2L1109.5 284.2L1110.5 281.8L1110.5 280.8L1111.5 278.5L1111.5 277.5L1112.2 276.2L1113.5 269.5L1113.8 269.2L1114.2 267.2L1115.2 264.8L1116.2 259.8L1117.2 257.5L1117.5 255.2L1118.2 253.8L1118.2 252.8L1118.5 252.5L1118.5 251.5L1119.2 249.8L1119.5 246.5L1119.8 246.2L1119.8 245.2L1120.8 242.5L1120.8 241.5L1121.2 241.2L1121.2 240.2L1121.5 239.8L1121.5 238.8L1121.8 238.5L1121.8 237.5L1122.2 237.2L1123.2 232.2L1123.5 231.8L1124.2 228.5L1124.5 228.2L1124.8 224.8L1126.2 221.2L1126.2 219.2L1126.5 218.8L1126.5 217.8L1127.2 216.2L1127.2 214.8L1127.5 214.5L1127.5 213.5L1127.8 213.2L1127.8 212.2L1128.2 211.8L1128.2 210.8L1128.5 210.5L1128.5 209.5L1128.8 209.2L1128.8 208.2L1129.2 207.8L1129.2 206.8L1129.5 206.5L1129.5 205.5L1130.2 203.8L1130.2 202.5L1130.5 202.2L1130.5 201.2L1131.2 199.5L1131.8 193.8L1132.2 193.5L1132.2 192.5L1132.8 190.8L1133.2 187.8L1133.5 187.5L1133.8 184.8L1134.2 184.5L1134.2 183.5L1134.8 181.8L1135.2 178.5L1135.5 178.2L1135.5 177.2L1136.2 175.5L1136.2 174.2L1136.8 172.5L1136.8 171.2L1137.2 170.8L1137.2 169.5L1137.8 167.8L1138.5 161.5L1138.8 161.2L1138.8 159.8L1139.5 158.2L1139.5 156.8L1139.8 156.5L1139.8 155.2L1140.2 154.8L1140.2 153.5L1140.5 153.2L1140.5 151.8L1140.8 151.5L1140.8 150.2L1141.2 149.8L1141.2 148.5L1141.5 148.2L1141.5 146.8L1141.8 146.5L1141.8 145.2L1142.2 144.8L1142.2 143.5L1142.5 143.2L1142.5 141.8L1142.8 141.5L1142.8 139.8L1143.2 139.5L1143.2 138.2L1143.5 137.8Z"/>
<path fill="url(#g1)" fill-rule="evenodd" d="M1135.8 176.8L1131.8 176.8L1131.5 177.2L1123.5 177.2L1123.2 177.5L1115.2 177.5L1114.8 177.8L1106.8 177.8L1106.5 178.2L1098.5 178.2L1098.2 178.5L1090.2 178.5L1089.8 178.8L1056.8 179.2L1056.5 181.2L1056.2 181.5L1048.2 181.5L1047.8 181.8L1047.5 181.5L1022.8 181.5L1022.5 181.2L1010.5 181.2L1010.2 183.2L1009.8 183.5L1005.5 183.5L1005.2 183.2L997.2 183.2L996.8 182.8L993.2 182.8L992.8 182.5L984.8 182.5L984.5 182.2L980.5 182.2L980.2 181.8L976.5 181.8L976.2 181.5L972.2 181.5L971.8 181.2L968.2 181.2L967.8 180.8L960.2 180.5L959.8 181.2L959.8 182.5L959.5 182.8L959.5 184.2L958.8 185.5L958.5 185.2L954.8 185.2L954.5 184.8L950.5 184.5L950.2 184.2L942.2 183.8L941.8 183.5L940.2 183.5L939.8 183.2L938.2 183.2L937.8 182.8L933.8 182.8L933.5 182.5L931.8 182.5L931.5 182.2L929.8 182.2L929.5 181.8L927.8 181.8L927.5 181.5L925.5 181.5L925.2 181.2L923.5 181.2L923.2 180.8L921.5 180.8L921.2 180.5L917.2 180.5L916.8 180.2L913.2 179.8L912.8 179.5L910.2 179.2L909.8 178.8L909.2 178.8L908.8 179.5L908.5 182.5L907.8 183.8L907.5 183.5L905.8 183.5L905.5 183.2L903.8 183.2L903.5 182.8L901.8 182.8L901.5 182.5L899.5 182.5L899.2 182.2L898.2 182.2L897.8 181.8L896.8 181.8L895.2 181.2L891.2 180.8L890.8 180.5L889.8 180.5L889.5 180.2L888.5 180.2L888.2 179.8L887.2 179.8L885.5 179.2L884.2 179.2L882.5 178.5L878.8 178.2L876.5 177.2L875.5 177.2L874.2 176.5L873.2 176.5L872.8 176.2L871.8 176.2L871.5 175.8L870.5 175.8L868.8 175.2L867.5 175.2L867.2 174.8L866.5 174.8L866.2 175.5L865.8 178.5L865.2 179.8L864.8 179.5L861.2 178.8L858.8 177.8L857.8 177.8L857.5 177.5L856.8 177.5L850.5 175.2L849.5 175.2L842.2 172.5L841.2 172.5L836.5 170.5L836.2 171.2L836.2 172.5L835.8 172.8L835.8 174.5L835.2 175.8L834.2 175.2L833.5 175.2L832.5 174.5L831.8 174.5L830.8 173.8L830.2 173.8L829.2 173.2L828.5 173.2L827.5 172.5L826.8 172.5L825.8 171.8L825.2 171.8L824.2 171.2L823.5 171.2L822.5 170.5L821.8 170.5L820.8 169.8L818.5 169.2L810.5 165.2L810.2 165.8L810.2 167.2L809.8 167.5L809.8 169.2L809.2 170.5L802.8 167.2L802.2 167.2L794.8 163.5L788.8 159.5L788.5 160.2L788.5 161.8L788.2 162.2L788.2 163.8L787.5 165.2L781.8 161.5L780.2 160.8L767.2 151.8L766.8 151.8L766.8 152.5L766.5 152.8L766.5 155.2L766.2 155.5L766.2 156.8L765.8 157.2L761.8 154.5L753.8 147.8L753.2 148.2L752.8 151.8L752.2 153.2L747.5 148.8L744.2 146.5L735.8 138.5L735.5 138.8L735.2 142.5L734.5 143.8L726.5 135.8L726.5 136.5L726.2 136.8L722.2 132.8L721.8 133.5L721.8 135.2L721.2 136.8L715.8 131.2L713.2 127.5L712.8 127.8L712.5 131.5L711.8 133.2L708.2 128.2L703.8 123.2L699.8 117.5L699.5 117.5L699.2 121.2L698.5 122.8L694.2 117.2L690.5 111.5L690.2 111.8L689.8 115.5L689.2 117.2L684.2 110.2L681.2 104.5L680.8 104.8L680.8 106.8L680.5 107.2L680.5 109.5L679.8 111.2L679.2 110.5L675.8 103.8L675.2 103.2L671.8 97.2L671.5 97.5L671.2 101.8L670.5 103.5L669.8 102.8L666.5 95.8L665.8 95.2L662.2 87.5L662.2 88.2L661.8 88.5L661.8 90.8L661.5 91.2L661.5 93.2L661.2 93.5L661.2 96.2L660.8 96.5L660.5 102.8L660.2 103.2L660.2 105.2L659.8 105.5L659.8 107.5L659.5 107.8L658.8 114.5L658.5 114.8L658.5 116.5L658.2 116.8L658.2 118.5L657.8 118.8L657.5 123.8L657.2 124.2L657.2 126.2L656.8 126.5L656.8 128.2L656.5 128.5L656.5 130.5L656.2 130.8L656.2 132.8L655.8 133.2L655.8 134.8L655.5 135.2L655.5 137.2L655.2 137.5L655.2 139.2L654.8 139.5L654.8 141.2L654.5 141.5L653.8 149.8L653.5 150.2L653.5 151.8L653.2 152.2L653.2 153.8L652.8 154.2L652.8 156.2L652.5 156.5L652.5 158.2L652.2 158.5L652.2 160.2L651.8 160.5L651.8 162.5L651.5 162.8L651.5 164.5L651.2 164.8L651.2 166.5L650.8 166.8L650.2 172.5L649.8 172.8L649.5 176.2L649.2 176.5L649.2 178.2L648.8 178.5L648.2 185.8L647.8 186.2L647.5 189.8L647.2 190.2L646.8 193.5L646.5 193.8L646.5 195.2L646.2 195.5L646.2 196.8L645.8 197.2L645.8 198.8L645.5 199.2L645.5 200.8L645.2 201.2L644.8 205.2L644.5 205.5L644.5 206.5L643.8 208.2L643.8 209.8L643.5 210.2L643.5 211.5L643.2 211.8L643.2 213.2L642.8 213.5L642.8 214.8L642.5 215.2L642.5 216.5L642.2 216.8L641.5 223.5L641.2 223.8L641.2 225.2L640.8 225.5L640.8 226.8L640.5 227.2L640.5 228.5L640.2 228.8L640.2 230.2L639.8 230.5L639.8 231.8L639.5 232.2L639.5 233.5L639.2 233.8L639.2 235.2L638.8 235.5L638.2 240.2L637.5 241.8L637.2 244.8L636.5 246.5L636.2 249.5L635.5 251.2L635.5 252.8L635.2 253.2L635.2 255.2L634.8 255.5L634.5 258.8L634.2 259.2L633.8 261.8L633.5 262.2L633.5 263.2L632.8 264.8L632.8 266.2L632.5 266.5L632.5 267.8L631.8 269.5L631.8 270.8L631.5 271.2L631.5 272.2L630.8 273.8L630.8 275.2L630.5 275.5L630.5 276.5L629.8 278.2L629.8 280.5L629.5 280.8L629.2 283.5L628.8 283.8L628.8 284.8L628.2 286.5L628.2 287.8L627.8 288.2L627.8 289.2L627.5 289.5L627.5 290.5L627.2 290.8L627.2 291.8L626.8 292.2L626.8 293.2L626.5 293.5L626.5 294.5L626.2 294.8L626.2 295.8L625.8 296.2L625.8 297.2L625.5 297.5L624.5 302.5L624.2 302.8L623.5 306.2L623.2 306.5L622.8 309.8L622.5 310.2L621.8 313.8L621.2 315.2L621.2 316.2L620.2 318.8L620.2 319.8L619.2 322.5L619.2 323.5L618.2 326.2L618.2 327.2L617.2 329.5L617.2 330.5L616.8 330.8L616.8 331.8L616.2 333.5L616.2 334.8L615.8 335.2L615.2 338.8L614.5 340.2L614.5 341.2L614.2 341.5L614.2 342.2L613.5 343.5L613.5 344.5L612.5 346.8L612.5 347.8L610.5 353.2L610.2 356.2L608.8 359.5L608.8 360.5L608.5 360.8L608.5 361.5L608.2 361.8L608.2 362.5L607.8 362.8L607.8 363.5L607.5 363.8L607.5 364.5L607.2 364.8L607.2 365.5L606.8 365.8L606.8 366.5L604.2 373.8L603.8 376.2L603.5 376.5L601.2 384.2L600.5 385.2L600.5 385.8L599.5 387.8L598.2 392.5L597.5 393.5L597.5 394.5L597.2 394.8L597.2 395.8L596.8 396.2L596.5 397.8L594.8 401.2L594.8 401.8L593.8 403.8L592.8 407.2L591.8 408.8L591.2 412.2L590.2 413.8L590.2 414.5L589.2 416.2L588.2 419.5L585.2 425.8L584.5 428.8L582.5 432.5L582.5 433.2L581.5 434.8L581.5 435.5L578.2 442.2L578.2 442.8L576.8 445.5L576.8 446.2L572.5 454.5L572.2 456.2L570.5 459.5L569.8 460.2L568.5 463.2L567.8 463.8L564.8 470.5L564.2 471.2L562.8 474.2L560.2 478.2L558.2 482.5L554.5 488.2L552.8 491.8L551.8 492.8L550.5 495.5L549.5 496.5L548.5 498.5L547.2 500.2L546.2 502.5L541.2 509.2L538.5 513.8L534.8 518.2L533.8 520.2L530.8 524.2L528.8 526.2L527.8 528.2L522.2 534.5L519.5 538.2L516.5 541.2L514.5 543.8L509.8 548.5L508.8 550.2L506.8 552.2L506.5 552.2L500.2 558.8L499.8 558.8L496.2 562.5L495.8 562.5L493.5 565.2L491.2 566.8L487.8 570.2L487.5 570.2L485.8 571.8L483.5 573.5L481.2 575.8L479.8 576.5L478.2 578.2L476.8 578.8L474.5 581.2L471.2 583.2L469.8 584.5L468.5 585.2L466.8 586.8L464.5 588.2L463.2 589.5L461.8 589.8L454.5 595.2L453.2 595.5L450.8 597.5L449.5 597.8L446.8 599.8L445.5 600.2L444.2 601.5L442.8 601.8L440.5 603.5L439.8 603.5L436.5 605.8L435.2 606.2L433.8 607.2L433.2 607.2L432.2 608.2L431.5 608.2L430.8 608.8L429.5 609.2L428.8 609.8L427.5 610.2L426.8 610.8L425.5 611.5L424.8 611.5L424.2 612.2L422.8 612.5L421.5 613.5L419.8 613.8L418.8 614.8L417.2 615.2L415.8 616.2L414.2 616.5L413.2 617.5L410.5 618.2L409.2 619.2L405.8 620.2L404.5 621.2L400.8 622.2L398.8 623.5L398.2 623.5L397.8 623.8L395.2 624.5L394.2 625.2L390.5 626.2L389.2 627.2L388.5 627.2L387.5 627.8L381.8 629.5L380.8 630.2L380.2 630.2L378.8 630.8L377.2 630.8L375.2 631.8L369.5 633.5L368.5 634.2L366.8 634.2L366.5 634.5L362.8 635.5L361.8 636.2L360.2 636.2L356.8 637.5L355.5 637.5L353.2 638.5L351.5 638.5L348.8 639.5L347.2 639.5L346.8 639.8L343.5 639.8L342.8 640.5L340.8 640.5L340.5 640.8L335.2 640.8L334.5 641.5L332.5 641.5L332.2 641.8L330.5 641.8L330.2 642.2L326.8 642.2L326.2 642.8L320.5 643.2L320.2 643.5L316.5 643.5L315.5 644.2L313.8 644.2L313.5 644.5L310.2 644.5L309.5 645.2L307.5 645.2L307.2 645.5L301.8 645.5L301.2 646.2L299.2 646.2L298.8 646.5L297.2 646.5L296.8 646.8L293.5 646.8L292.8 647.5L290.8 647.5L290.5 647.8L285.2 647.8L284.5 648.5L282.5 648.5L282.2 648.8L280.5 648.8L280.2 649.2L274.8 649.2L273.8 649.8L272.2 649.8L271.8 650.2L268.5 650.2L267.8 650.8L265.8 650.8L265.5 651.2L260.2 651.2L259.5 651.8L257.5 651.8L257.2 652.2L253.5 652.2L253.2 652.5L249.2 652.8L248.8 653.2L247.2 653.2L246.8 653.5L241.5 653.5L240.5 654.2L238.8 654.2L238.5 654.5L233.2 654.5L232.2 655.2L230.5 655.2L230.2 655.5L224.8 655.5L223.8 656.2L222.2 656.2L221.8 656.5L216.5 656.5L215.5 657.2L213.8 657.2L213.5 657.5L208.2 657.5L207.2 658.2L201.8 658.2L201.2 658.8L199.2 658.8L198.8 659.2L191.5 659.2L190.5 659.8L188.8 659.8L188.5 660.2L183.2 660.2L182.2 660.8L174.8 660.8L173.8 661.5L166.5 661.5L165.5 662.2L158.2 662.2L157.5 662.5L166.8 662.5L167.2 662.2L175.5 662.2L175.8 661.8L183.2 661.8L183.5 661.5L196.5 661.2L196.8 660.8L202.2 660.8L202.5 660.5L207.2 660.5L207.5 660.2L212.5 660.2L212.8 659.8L217.8 659.8L218.2 659.5L222.8 659.5L223.2 659.2L227.5 659.2L227.8 658.8L236.8 658.5L237.2 658.2L240.8 658.2L241.2 657.8L245.8 657.8L246.2 657.5L249.8 657.5L250.2 657.2L254.2 657.2L254.5 656.8L258.5 656.8L258.8 656.5L262.5 656.5L262.8 656.2L266.5 656.2L266.8 655.8L270.5 655.8L270.8 655.5L274.5 655.5L274.8 655.2L282.5 654.8L282.8 654.5L286.2 654.5L286.5 654.2L289.8 654.2L290.2 653.8L293.5 653.8L293.8 653.5L297.5 653.5L297.8 653.2L300.5 653.2L300.8 652.8L304.5 652.8L304.8 652.5L307.5 652.5L307.8 652.2L311.5 652.2L311.8 651.8L314.5 651.8L314.8 651.5L318.5 651.5L318.8 651.2L321.5 651.2L321.8 650.8L325.2 650.8L325.5 650.5L328.2 650.5L328.5 650.2L331.5 650.2L331.8 649.8L334.8 649.8L335.2 649.5L341.5 649.2L341.8 648.8L344.5 648.8L344.8 648.5L347.8 648.5L348.2 648.2L350.8 648.2L351.2 647.8L353.8 647.8L354.2 647.5L357.2 647.5L357.5 647.2L359.8 647.2L360.2 646.8L363.5 646.8L363.8 646.5L366.2 646.5L366.5 646.2L369.5 646.2L369.8 645.8L375.2 645.5L375.5 645.2L378.2 645.2L378.5 644.8L380.8 644.8L381.2 644.5L387.2 644.2L387.5 643.8L392.8 643.5L393.2 643.2L395.5 643.2L395.8 642.8L398.5 642.8L398.8 642.5L401.5 642.5L401.8 642.2L405.5 642.2L405.8 641.8L409.8 641.5L410.2 641.2L413.8 641.2L414.2 640.8L417.8 640.5L418.2 640.2L422.2 640.2L423.8 639.5L426.2 639.5L426.5 639.2L430.5 639.2L430.8 638.8L434.2 638.5L434.5 638.2L437.2 638.2L437.5 637.8L439.8 637.8L440.2 637.5L442.5 637.5L442.8 637.2L447.8 636.8L448.2 636.5L450.2 636.5L450.5 636.2L453.5 636.2L453.8 635.8L458.2 635.5L458.5 635.2L460.5 635.2L460.8 634.8L463.5 634.8L463.8 634.5L468.5 634.2L468.8 633.8L471.2 633.8L471.5 633.5L476.2 633.2L476.5 632.8L478.8 632.8L479.2 632.5L483.8 632.2L484.2 631.8L486.2 631.8L486.5 631.5L488.8 631.5L489.2 631.2L491.2 631.2L491.5 630.8L494.2 630.8L494.5 630.5L496.5 630.5L496.8 630.2L498.8 630.2L499.2 629.8L501.5 629.8L501.8 629.5L503.8 629.5L504.2 629.2L506.2 629.2L506.5 628.8L508.8 628.8L509.2 628.5L511.5 628.5L511.8 628.2L513.5 628.2L513.8 627.8L518.8 627.5L519.2 627.2L521.2 627.2L521.5 626.8L523.5 626.8L523.8 626.5L526.2 626.5L526.5 626.2L528.5 626.2L528.8 625.8L530.8 625.8L531.2 625.5L533.2 625.5L533.5 625.2L535.5 625.2L535.8 624.8L538.2 624.8L538.5 624.5L540.5 624.5L540.8 624.2L543.2 624.2L543.5 623.8L547.5 623.5L547.8 623.2L550.2 623.2L550.5 622.8L552.5 622.8L552.8 622.5L554.8 622.5L555.2 622.2L557.5 622.2L557.8 621.8L559.8 621.8L560.2 621.5L564.2 621.2L564.5 620.8L566.8 620.8L567.2 620.5L569.2 620.5L569.5 620.2L571.5 620.2L571.8 619.8L574.2 619.8L574.5 619.5L576.5 619.5L576.8 619.2L578.5 619.2L578.8 618.8L583.5 618.5L583.8 618.2L587.8 617.8L588.2 617.5L590.5 617.5L590.8 617.2L592.5 617.2L592.8 616.8L594.8 616.8L595.2 616.5L597.2 616.5L597.5 616.2L599.5 616.2L599.8 615.8L601.8 615.8L602.2 615.5L604.2 615.5L604.5 615.2L606.5 615.2L606.8 614.8L608.8 614.8L609.2 614.5L611.2 614.5L611.5 614.2L613.5 614.2L613.8 613.8L615.8 613.8L616.2 613.5L618.2 613.5L618.5 613.2L620.5 613.2L620.8 612.8L622.8 612.8L623.2 612.5L625.2 612.5L625.5 612.2L632.2 611.5L632.5 611.2L636.5 610.8L636.8 610.5L639.2 610.5L639.5 610.2L641.2 610.2L641.5 609.8L648.2 609.2L648.5 608.8L650.2 608.8L650.5 608.5L652.5 608.5L652.8 608.2L657.2 607.8L657.5 607.5L659.2 607.5L659.5 607.2L664.2 606.8L664.5 606.5L668.5 606.2L668.8 605.8L670.8 605.8L671.2 605.5L672.8 605.5L673.2 605.2L675.2 605.2L675.5 604.8L682.2 604.2L682.5 603.8L684.2 603.8L684.5 603.5L689.2 603.2L689.5 602.8L690.8 602.8L691.2 602.5L693.2 602.5L693.5 602.2L695.5 602.2L695.8 601.8L697.8 601.8L698.2 601.5L704.8 600.8L705.2 600.5L706.8 600.5L707.2 600.2L708.8 600.2L709.2 599.8L711.2 599.8L711.5 599.5L713.8 599.5L714.2 599.2L718.2 598.8L718.5 598.5L720.2 598.5L720.5 598.2L722.5 598.2L722.8 597.8L724.5 597.8L724.8 597.5L729.2 597.2L729.5 596.8L731.2 596.8L731.5 596.5L733.5 596.5L733.8 596.2L740.5 595.5L740.8 595.2L742.5 595.2L742.8 594.8L747.2 594.5L747.5 594.2L751.5 593.8L751.8 593.5L753.5 593.5L753.8 593.2L760.5 592.5L760.8 592.2L762.5 592.2L762.8 591.8L764.5 591.8L764.8 591.5L766.8 591.5L767.2 591.2L771.5 590.8L771.8 590.5L773.5 590.5L773.8 590.2L780.5 589.5L780.8 589.2L782.2 589.2L782.5 588.8L784.5 588.8L784.8 588.5L786.5 588.5L786.8 588.2L788.2 588.2L788.5 587.8L791.2 587.8L791.5 587.5L793.2 587.5L793.5 587.2L794.8 587.2L795.2 586.8L796.8 586.8L797.2 586.5L800.8 586.2L801.2 585.8L804.5 585.5L804.8 585.2L806.5 585.2L806.8 584.8L808.2 584.8L808.5 584.5L810.2 584.5L810.5 584.2L811.8 584.2L812.2 583.8L813.8 583.8L814.2 583.5L815.5 583.5L817.2 582.8L822.2 582.2L823.5 581.5L827.2 581.2L828.2 580.5L829.8 580.5L831.2 579.8L832.8 579.8L833.2 579.5L835.5 579.2L836.8 578.5L838.5 578.5L838.8 578.2L841.2 577.8L842.5 577.2L844.2 577.2L844.5 576.8L845.2 576.8L846.5 576.2L847.8 576.2L850.2 575.2L851.8 575.2L853.8 574.2L855.5 574.2L855.8 573.8L856.5 573.8L858.8 572.8L860.2 572.8L864.5 571.2L865.8 571.2L866.2 570.8L871.8 569.2L873.8 568.2L875.5 568.2L875.8 567.8L877.5 567.5L878.5 566.8L884.2 565.2L885.2 564.5L885.8 564.5L888.2 563.5L889.5 563.5L890.2 562.8L890.8 562.8L891.8 561.8L892.5 561.8L892.8 561.5L896.5 560.5L897.5 559.8L899.2 559.5L900.5 558.5L903.2 557.8L905.2 556.5L908.8 555.5L910.8 554.2L912.5 553.8L913.8 552.8L915.5 552.5L916.5 551.5L918.2 551.2L918.8 550.5L920.2 550.2L920.8 549.5L922.2 549.2L923.5 548.2L924.8 547.8L925.5 547.2L926.8 546.8L927.5 546.2L929.5 545.5L931.2 544.2L932.5 543.8L933.8 542.8L934.5 542.8L935.5 541.8L936.2 541.8L936.8 541.2L938.2 540.8L939.8 539.5L941.2 539.2L942.5 537.8L943.8 537.5L946.5 535.5L947.8 535.2L950.2 533.2L951.5 532.8L957.8 528.2L959.2 527.8L961.5 525.8L965.8 523.2L968.2 520.8L972.5 518.2L973.8 516.5L976.2 515.2L977.8 513.5L979.2 512.8L980.5 511.2L981.8 510.5L983.5 508.8L985.8 507.2L987.2 505.5L987.5 505.5L989.2 503.8L991.5 502.2L993.8 499.5L994.2 499.5L997.8 495.8L998.5 495.5L998.5 495.2L1010.8 482.5L1012.5 480.2L1015.5 477.2L1015.5 476.8L1017.5 474.8L1018.2 473.5L1023.8 467.2L1024.8 465.2L1026.8 463.2L1029.8 459.2L1030.5 457.8L1035.5 451.5L1037.5 447.8L1040.2 444.5L1041.2 442.5L1042.8 440.5L1044.2 437.8L1045.8 435.8L1047.2 433.2L1048.5 431.5L1049.8 428.5L1051.5 426.5L1051.8 425.5L1054.5 421.5L1057.5 415.2L1060.2 411.2L1062.5 406.5L1062.5 405.8L1063.2 404.5L1063.8 403.8L1066.2 398.8L1066.8 398.2L1067.8 396.2L1068.2 394.5L1074.2 382.8L1074.8 380.2L1080.8 367.8L1081.5 364.8L1082.5 363.2L1082.5 362.5L1083.5 360.8L1083.5 360.2L1086.5 353.8L1086.8 351.5L1088.2 349.2L1088.5 347.2L1090.2 343.8L1090.2 343.2L1091.2 341.2L1092.2 337.8L1093.2 336.2L1093.2 335.2L1093.5 334.8L1093.5 333.8L1093.8 333.5L1094.2 331.8L1094.8 330.8L1096.2 326.2L1096.8 325.2L1096.8 324.5L1097.8 322.5L1099.2 317.8L1099.8 316.8L1100.5 313.2L1102.5 307.8L1102.8 305.8L1103.5 304.8L1103.5 304.2L1105.5 298.8L1106.5 293.8L1108.5 288.5L1108.5 287.5L1108.8 287.2L1108.8 286.5L1109.5 285.2L1109.5 284.2L1110.5 281.8L1110.5 280.8L1111.5 278.5L1111.5 277.5L1112.2 276.2L1113.5 269.5L1113.8 269.2L1114.2 267.2L1115.2 264.8L1116.2 259.8L1116.5 259.5L1116.5 258.8L1117.2 257.5L1117.2 256.5L1117.5 256.2L1117.5 255.2L1118.2 253.8L1118.2 252.8L1118.5 252.5L1118.5 251.5L1119.2 249.8L1119.5 246.5L1119.8 246.2L1119.8 245.2L1120.8 242.5L1120.8 241.5L1121.2 241.2L1121.2 240.2L1121.5 239.8L1121.5 238.8L1121.8 238.5L1121.8 237.5L1122.2 237.2L1123.2 232.2L1123.5 231.8L1124.2 228.5L1124.5 228.2L1124.8 224.8L1126.2 221.2L1126.2 219.2L1126.5 218.8L1126.5 217.8L1127.2 216.2L1127.2 214.8L1127.5 214.5L1127.5 213.5L1127.8 213.2L1127.8 212.2L1128.2 211.8L1128.2 210.8L1128.5 210.5L1128.5 209.5L1128.8 209.2L1128.8 208.2L1129.2 207.8L1129.2 206.8L1129.5 206.5L1129.5 205.5L1130.2 203.8L1130.2 202.5L1130.5 202.2L1130.5 201.2L1131.2 199.5L1131.8 193.8L1132.2 193.5L1132.2 192.5L1132.8 190.8L1133.2 187.8L1133.8 186.2L1133.8 184.8L1134.2 184.5L1134.2 183.5L1134.8 181.8L1135.2 178.5Z"/>
<path fill="url(#g2)" fill-rule="evenodd" d="M1127.2 215.8L1119.2 216.2L1118.8 216.5L1115.2 216.5L1114.8 216.8L1106.8 216.8L1106.5 217.2L1102.5 217.2L1102.2 218.8L1101.8 219.2L1101.8 220.2L1101.2 221.5L1097.5 221.5L1097.2 221.8L1089.2 221.8L1088.8 222.2L1084.8 222.2L1084.5 222.5L1076.5 222.5L1076.2 222.8L1059.8 223.2L1059.5 223.5L1034.8 223.8L1034.8 224.5L1034.5 224.8L1030.5 224.8L1030.2 225.2L996.8 225.2L996.5 224.8L993.2 224.8L992.5 226.2L992.5 227.2L991.8 228.2L987.8 228.2L987.5 227.8L966.8 227.5L966.5 227.2L962.8 227.2L962.5 226.8L954.5 226.8L954.2 226.5L950.2 226.5L949.8 226.2L946.2 226.2L945.8 225.8L938.2 225.5L937.8 227.2L937.5 227.5L937.5 228.5L936.8 229.8L936.5 229.5L932.8 229.5L932.5 229.2L928.5 229.2L928.2 228.8L924.5 228.8L924.2 228.5L916.2 228.2L915.8 227.8L911.8 227.5L911.5 227.2L907.8 227.2L907.5 226.8L903.5 226.5L903.2 226.2L899.5 226.2L899.2 225.8L895.2 225.5L894.8 225.2L893.2 225.2L892.8 224.8L891.2 224.8L890.8 224.5L889.2 224.5L888.8 224.2L887.2 224.2L886.8 225.8L886.5 226.2L886.5 227.2L885.8 228.5L885.5 228.2L883.8 228.2L883.5 227.8L881.8 227.8L881.5 227.5L879.8 227.5L879.5 227.2L877.5 227.2L877.2 226.8L873.5 226.5L871.8 225.8L870.5 225.8L870.2 225.5L867.2 225.2L866.8 224.8L865.2 224.8L864.8 224.5L862.2 224.2L860.5 223.5L856.8 223.2L856.5 222.8L853.8 222.5L853.5 222.2L852.5 222.2L852.2 221.8L851.2 221.8L849.5 221.2L848.8 221.2L848.5 221.8L848.2 224.5L847.5 225.8L847.2 225.5L846.5 225.5L845.2 224.8L844.2 224.8L842.8 224.2L841.8 224.2L841.5 223.8L840.5 223.8L840.2 223.5L839.2 223.5L837.5 222.8L834.8 222.5L834.5 222.2L833.8 222.2L828.5 220.2L827.5 220.2L827.2 219.8L826.5 219.8L820.2 217.5L819.2 217.5L818.8 217.2L818.5 217.2L818.5 217.8L818.2 218.2L818.2 220.5L817.5 222.2L815.2 221.2L813.2 220.8L808.8 218.8L804.8 217.8L803.8 217.2L803.2 217.2L802.2 216.5L801.5 216.5L800.5 215.8L799.8 215.8L798.8 215.2L796.5 214.5L792.8 212.5L792.5 213.2L792.5 214.5L792.2 214.8L792.2 216.5L791.5 217.8L780.8 212.5L780.2 212.5L772.8 208.8L770.8 207.5L770.5 208.2L770.5 209.5L770.2 209.8L770.2 211.5L769.5 212.8L768.2 211.8L766.5 211.2L765.8 210.5L761.2 208.2L753.2 202.8L753.2 203.5L752.8 203.8L752.8 206.2L752.5 206.5L752.5 207.8L752.2 208.2L739.8 200.2L735.8 196.8L735.5 197.2L735.2 200.8L734.5 202.2L729.2 197.8L728.8 197.8L722.2 192.2L721.8 192.5L721.5 196.2L720.8 197.5L712.8 190.2L712.5 192.5L712.2 192.8L709.8 190.5L709.5 190.5L704.2 184.8L703.2 187.5L699.8 183.8L699.8 183.5L695.2 178.8L695.2 179.5L694.8 179.8L694.8 182.2L694.5 182.5L694.5 183.8L694.2 184.2L689.2 178.8L686.2 174.5L685.8 174.8L685.5 178.5L684.8 180.2L680.8 175.5L676.8 169.8L676.5 169.8L676.2 173.5L675.5 175.2L670.5 168.8L667.5 164.2L667.2 164.2L666.8 167.8L666.2 169.5L664.8 167.8L664.5 166.8L663.2 165.2L662.8 164.2L660.2 160.5L658.5 157.5L657.8 157.2L657.5 160.8L656.8 162.5L656.2 161.8L652.8 155.5L652.8 156.2L652.5 156.5L652.5 158.2L652.2 158.5L652.2 160.2L651.8 160.5L651.5 164.5L651.2 164.8L651.2 166.5L650.8 166.8L650.8 168.5L650.5 168.8L650.5 170.5L650.2 170.8L650.2 172.5L649.8 172.8L649.5 176.2L649.2 176.5L649.2 178.2L648.8 178.5L648.5 183.5L648.2 183.8L648.2 185.8L647.8 186.2L647.5 189.8L647.2 190.2L646.8 193.5L646.5 193.8L646.5 195.2L646.2 195.5L646.2 196.8L645.8 197.2L645.8 198.8L645.5 199.2L645.5 200.8L645.2 201.2L644.8 205.2L644.5 205.5L644.5 206.5L643.8 208.2L643.8 209.8L643.5 210.2L643.5 211.5L643.2 211.8L643.2 213.2L642.8 213.5L642.8 214.8L642.5 215.2L642.5 216.5L642.2 216.8L641.5 223.5L641.2 223.8L641.2 225.2L640.8 225.5L640.8 226.8L640.5 227.2L640.5 228.5L640.2 228.8L640.2 230.2L639.8 230.5L639.8 231.8L639.5 232.2L639.5 233.5L639.2 233.8L639.2 235.2L638.8 235.5L638.2 240.2L637.5 241.8L637.2 244.8L636.5 246.5L636.2 249.5L635.5 251.2L635.5 252.8L635.2 253.2L635.2 255.2L634.8 255.5L634.5 258.8L634.2 259.2L633.8 261.8L633.5 262.2L633.5 263.2L632.8 264.8L632.8 266.2L632.5 266.5L632.5 267.8L631.8 269.5L631.8 270.8L631.5 271.2L631.5 272.2L630.8 273.8L630.8 275.2L630.5 275.5L630.5 276.5L629.8 278.2L629.8 280.5L629.5 280.8L629.2 283.5L628.8 283.8L628.8 284.8L628.2 286.5L628.2 287.8L627.8 288.2L627.8 289.2L627.5 289.5L627.5 290.5L627.2 290.8L627.2 291.8L626.8 292.2L626.8 293.2L626.5 293.5L626.5 294.5L626.2 294.8L626.2 295.8L625.8 296.2L625.8 297.2L625.5 297.5L624.5 302.5L624.2 302.8L623.5 306.2L623.2 306.5L622.8 309.8L622.5 310.2L621.8 313.8L621.2 315.2L621.2 316.2L620.2 318.8L620.2 319.8L619.2 322.5L619.2 323.5L618.2 326.2L618.2 327.2L617.2 329.5L617.2 330.5L616.8 330.8L616.8 331.8L616.2 333.5L616.2 334.8L615.8 335.2L615.2 338.8L614.5 340.2L614.5 341.2L614.2 341.5L614.2 342.2L613.5 343.5L613.5 344.5L612.5 346.8L612.5 347.8L610.5 353.2L610.2 356.2L608.8 359.5L608.8 360.5L608.5 360.8L608.5 361.5L608.2 361.8L608.2 362.5L607.8 362.8L607.8 363.5L607.5 363.8L607.5 364.5L607.2 364.8L607.2 365.5L606.8 365.8L606.8 366.5L604.2 373.8L603.8 376.2L603.5 376.5L601.2 384.2L600.5 385.2L600.5 385.8L599.5 387.8L598.2 392.5L597.5 393.5L597.5 394.5L597.2 394.8L597.2 395.8L596.8 396.2L596.5 397.8L594.8 401.2L594.8 401.8L593.8 403.8L592.8 407.2L591.8 408.8L591.2 412.2L590.2 413.8L590.2 414.5L589.2 416.2L588.2 419.5L585.2 425.8L584.5 428.8L582.5 432.5L582.5 433.2L581.5 434.8L581.5 435.5L578.2 442.2L578.2 442.8L576.8 445.5L576.8 446.2L572.5 454.5L572.2 456.2L570.5 459.5L569.8 460.2L568.5 463.2L567.8 463.8L565.8 467.8L565.8 468.5L564.8 470.5L564.2 471.2L562.8 474.2L560.2 478.2L558.2 482.5L554.5 488.2L552.8 491.8L551.8 492.8L550.5 495.5L548.8 497.5L548.5 498.5L547.2 500.2L546.2 502.5L544.2 504.8L543.2 506.8L540.5 510.2L538.5 513.8L534.8 518.2L534.5 519.2L530.8 524.2L528.8 526.2L527.8 528.2L522.2 534.5L519.5 538.2L514.5 543.5L514.5 543.8L509.8 548.5L508.8 550.2L506.8 552.2L506.5 552.2L500.2 558.8L499.8 558.8L496.2 562.5L495.8 562.5L493.5 565.2L491.2 566.8L487.8 570.2L487.5 570.2L485.8 571.8L483.5 573.5L481.2 575.8L479.8 576.5L478.2 578.2L476.8 578.8L474.5 581.2L471.2 583.2L469.8 584.5L468.5 585.2L466.8 586.8L464.5 588.2L463.2 589.5L461.8 589.8L454.5 595.2L453.2 595.5L450.8 597.5L449.5 597.8L446.8 599.8L445.5 600.2L444.2 601.5L442.8 601.8L440.5 603.5L439.8 603.5L436.5 605.8L435.2 606.2L433.8 607.2L433.2 607.2L432.2 608.2L431.5 608.2L430.8 608.8L429.5 609.2L428.8 609.8L427.5 610.2L426.8 610.8L425.5 611.5L424.8 611.5L424.2 612.2L422.8 612.5L421.5 613.5L419.8 613.8L418.8 614.8L417.2 615.2L415.8 616.2L414.2 616.5L413.2 617.5L410.5 618.2L409.8 618.8L407.5 619.5L406.5 620.2L405.8 620.2L404.5 621.2L400.8 622.2L398.8 623.5L398.2 623.5L397.8 623.8L395.2 624.5L394.2 625.2L390.5 626.2L389.8 626.8L388.5 627.2L387.5 627.8L381.8 629.5L380.8 630.2L380.2 630.2L378.8 630.8L377.2 630.8L375.2 631.8L369.5 633.5L368.5 634.2L366.8 634.2L366.5 634.5L362.8 635.5L361.8 636.2L360.2 636.2L356.8 637.5L355.5 637.5L353.2 638.5L351.5 638.5L348.8 639.5L347.2 639.5L346.8 639.8L343.5 639.8L342.8 640.5L340.8 640.5L340.5 640.8L335.2 640.8L334.5 641.5L332.5 641.5L332.2 641.8L330.5 641.8L330.2 642.2L326.8 642.2L326.2 642.8L324.2 642.8L323.8 643.2L316.5 643.5L315.5 644.2L313.8 644.2L313.5 644.5L310.2 644.5L309.5 645.2L307.5 645.2L307.2 645.5L301.8 645.5L301.2 646.2L299.2 646.2L298.8 646.5L297.2 646.5L296.8 646.8L293.5 646.8L292.8 647.5L290.8 647.5L290.5 647.8L285.2 647.8L284.5 648.5L282.5 648.5L282.2 648.8L280.5 648.8L280.2 649.2L274.8 649.2L273.8 649.8L272.2 649.8L271.8 650.2L268.5 650.2L267.8 650.8L265.8 650.8L265.5 651.2L260.2 651.2L259.5 651.8L257.5 651.8L257.2 652.2L253.5 652.2L253.2 652.5L249.2 652.8L248.8 653.2L247.2 653.2L246.8 653.5L241.5 653.5L240.5 654.2L238.8 654.2L238.5 654.5L233.2 654.5L232.2 655.2L230.5 655.2L230.2 655.5L224.8 655.5L223.8 656.2L222.2 656.2L221.8 656.5L216.5 656.5L215.5 657.2L213.8 657.2L213.5 657.5L208.2 657.5L207.2 658.2L201.8 658.2L201.2 658.8L199.2 658.8L198.8 659.2L191.5 659.2L190.5 659.8L188.8 659.8L188.5 660.2L183.2 660.2L182.2 660.8L174.8 660.8L173.8 661.5L166.5 661.5L165.5 662.2L158.2 662.2L157.5 662.5L166.8 662.5L167.2 662.2L175.5 662.2L175.8 661.8L183.2 661.8L183.5 661.5L196.5 661.2L196.8 660.8L202.2 660.8L202.5 660.5L207.2 660.5L207.5 660.2L212.5 660.2L212.8 659.8L217.8 659.8L218.2 659.5L222.8 659.5L223.2 659.2L227.5 659.2L227.8 658.8L236.8 658.5L237.2 658.2L240.8 658.2L241.2 657.8L245.8 657.8L246.2 657.5L249.8 657.5L250.2 657.2L254.2 657.2L254.5 656.8L258.5 656.8L258.8 656.5L262.5 656.5L262.8 656.2L266.5 656.2L266.8 655.8L270.5 655.8L270.8 655.5L274.5 655.5L274.8 655.2L282.5 654.8L282.8 654.5L286.2 654.5L286.5 654.2L289.8 654.2L290.2 653.8L293.5 653.8L293.8 653.5L297.5 653.5L297.8 653.2L300.5 653.2L300.8 652.8L304.5 652.8L304.8 652.5L307.5 652.5L307.8 652.2L311.5 652.2L311.8 651.8L314.5 651.8L314.8 651.5L318.5 651.5L318.8 651.2L321.5 651.2L321.8 650.8L325.2 650.8L325.5 650.5L328.2 650.5L328.5 650.2L331.5 650.2L331.8 649.8L334.8 649.8L335.2 649.5L341.5 649.2L341.8 648.8L344.5 648.8L344.8 648.5L347.8 648.5L348.2 648.2L350.8 648.2L351.2 647.8L353.8 647.8L354.2 647.5L357.2 647.5L357.5 647.2L359.8 647.2L360.2 646.8L363.5 646.8L363.8 646.5L366.2 646.5L366.5 646.2L369.5 646.2L369.8 645.8L375.2 645.5L375.5 645.2L378.2 645.2L378.5 644.8L380.8 644.8L381.2 644.5L387.2 644.2L387.5 643.8L392.8 643.5L393.2 643.2L395.5 643.2L395.8 642.8L398.5 642.8L398.8 642.5L401.5 642.5L401.8 642.2L405.5 642.2L405.8 641.8L409.8 641.5L410.2 641.2L413.8 641.2L414.2 640.8L417.8 640.5L418.2 640.2L422.2 640.2L423.8 639.5L426.2 639.5L426.5 639.2L430.5 639.2L430.8 638.8L434.2 638.5L434.5 638.2L437.2 638.2L437.5 637.8L439.8 637.8L440.2 637.5L442.5 637.5L442.8 637.2L447.8 636.8L448.2 636.5L450.2 636.5L450.5 636.2L453.5 636.2L453.8 635.8L458.2 635.5L458.5 635.2L460.5 635.2L460.8 634.8L463.5 634.8L463.8 634.5L468.5 634.2L468.8 633.8L471.2 633.8L471.5 633.5L476.2 633.2L476.5 632.8L478.8 632.8L479.2 632.5L483.8 632.2L484.2 631.8L486.2 631.8L486.5 631.5L488.8 631.5L489.2 631.2L491.2 631.2L491.5 630.8L494.2 630.8L494.5 630.5L496.5 630.5L496.8 630.2L498.8 630.2L499.2 629.8L501.5 629.8L501.8 629.5L503.8 629.5L504.2 629.2L506.2 629.2L506.5 628.8L508.8 628.8L509.2 628.5L511.5 628.5L511.8 628.2L513.5 628.2L513.8 627.8L518.8 627.5L519.2 627.2L521.2 627.2L521.5 626.8L523.5 626.8L523.8 626.5L526.2 626.5L526.5 626.2L528.5 626.2L528.8 625.8L530.8 625.8L531.2 625.5L533.2 625.5L533.5 625.2L535.5 625.2L535.8 624.8L538.2 624.8L538.5 624.5L540.5 624.5L540.8 624.2L543.2 624.2L543.5 623.8L547.5 623.5L547.8 623.2L550.2 623.2L550.5 622.8L552.5 622.8L552.8 622.5L554.8 622.5L555.2 622.2L557.5 622.2L557.8 621.8L559.8 621.8L560.2 621.5L564.2 621.2L564.5 620.8L566.8 620.8L567.2 620.5L569.2 620.5L569.5 620.2L571.5 620.2L571.8 619.8L574.2 619.8L574.5 619.5L576.5 619.5L576.8 619.2L578.5 619.2L578.8 618.8L583.5 618.5L583.8 618.2L587.8 617.8L588.2 617.5L590.5 617.5L590.8 617.2L592.5 617.2L592.8 616.8L594.8 616.8L595.2 616.5L597.2 616.5L597.5 616.2L599.5 616.2L599.8 615.8L601.8 615.8L602.2 615.5L604.2 615.5L604.5 615.2L606.5 615.2L606.8 614.8L608.8 614.8L609.2 614.5L611.2 614.5L611.5 614.2L613.5 614.2L613.8 613.8L615.8 613.8L616.2 613.5L618.2 613.5L618.5 613.2L620.5 613.2L620.8 612.8L622.8 612.8L623.2 612.5L625.2 612.5L625.5 612.2L632.2 611.5L632.5 611.2L636.5 610.8L636.8 610.5L639.2 610.5L639.5 610.2L641.2 610.2L641.5 609.8L648.2 609.2L648.5 608.8L650.2 608.8L650.5 608.5L652.5 608.5L652.8 608.2L657.2 607.8L657.5 607.5L659.2 607.5L659.5 607.2L664.2 606.8L664.5 606.5L668.5 606.2L668.8 605.8L670.8 605.8L671.2 605.5L672.8 605.5L673.2 605.2L675.2 605.2L675.5 604.8L682.2 604.2L682.5 603.8L684.2 603.8L684.5 603.5L689.2 603.2L689.5 602.8L690.8 602.8L691.2 602.5L693.2 602.5L693.5 602.2L695.5 602.2L695.8 601.8L697.8 601.8L698.2 601.5L704.8 600.8L705.2 600.5L706.8 600.5L707.2 600.2L708.8 600.2L709.2 599.8L711.2 599.8L711.5 599.5L713.8 599.5L714.2 599.2L718.2 598.8L718.5 598.5L720.2 598.5L720.5 598.2L722.5 598.2L722.8 597.8L724.5 597.8L724.8 597.5L729.2 597.2L729.5 596.8L731.2 596.8L731.5 596.5L733.5 596.5L733.8 596.2L740.5 595.5L740.8 595.2L742.5 595.2L742.8 594.8L747.2 594.5L747.5 594.2L751.5 593.8L751.8 593.5L753.5 593.5L753.8 593.2L760.5 592.5L760.8 592.2L762.5 592.2L762.8 591.8L764.5 591.8L764.8 591.5L766.8 591.5L767.2 591.2L771.5 590.8L771.8 590.5L773.5 590.5L773.8 590.2L780.5 589.5L780.8 589.2L782.2 589.2L782.5 588.8L784.5 588.8L784.8 588.5L786.5 588.5L786.8 588.2L788.2 588.2L788.5 587.8L791.2 587.8L791.5 587.5L793.2 587.5L793.5 587.2L794.8 587.2L795.2 586.8L796.8 586.8L797.2 586.5L800.8 586.2L801.2 585.8L804.5 585.5L804.8 585.2L806.5 585.2L806.8 584.8L808.2 584.8L808.5 584.5L810.2 584.5L810.5 584.2L811.8 584.2L812.2 583.8L813.8 583.8L814.2 583.5L815.5 583.5L817.2 582.8L822.2 582.2L823.5 581.5L827.2 581.2L828.2 580.5L829.8 580.5L831.2 579.8L832.8 579.8L833.2 579.5L835.5 579.2L836.8 578.5L838.5 578.5L838.8 578.2L841.2 577.8L842.5 577.2L844.2 577.2L844.5 576.8L845.2 576.8L846.5 576.2L847.8 576.2L850.2 575.2L851.8 575.2L853.8 574.2L855.5 574.2L855.8 573.8L856.5 573.8L858.8 572.8L860.2 572.8L864.5 571.2L865.8 571.2L866.2 570.8L871.8 569.2L873.8 568.2L875.5 568.2L875.8 567.8L877.5 567.5L878.5 566.8L884.2 565.2L885.2 564.5L885.8 564.5L888.2 563.5L889.5 563.5L890.2 562.8L890.8 562.8L891.8 561.8L892.5 561.8L892.8 561.5L896.5 560.5L897.5 559.8L899.2 559.5L900.5 558.5L903.2 557.8L905.2 556.5L908.8 555.5L910.8 554.2L912.5 553.8L913.8 552.8L915.5 552.5L916.5 551.5L918.2 551.2L918.8 550.5L920.2 550.2L920.8 549.5L922.2 549.2L923.5 548.2L924.8 547.8L925.5 547.2L926.8 546.8L927.5 546.2L929.5 545.5L931.2 544.2L932.5 543.8L933.8 542.8L934.5 542.8L935.5 541.8L936.2 541.8L936.8 541.2L938.2 540.8L939.8 539.5L941.2 539.2L942.5 537.8L943.8 537.5L946.5 535.5L947.8 535.2L950.2 533.2L951.5 532.8L957.8 528.2L959.2 527.8L961.5 525.8L965.8 523.2L968.2 520.8L972.5 518.2L973.8 516.5L976.2 515.2L977.8 513.5L979.2 512.8L980.5 511.2L981.8 510.5L983.5 508.8L985.8 507.2L987.2 505.5L987.5 505.5L989.2 503.8L991.5 502.2L993.8 499.5L994.2 499.5L997.8 495.8L998.5 495.5L998.5 495.2L1010.8 482.5L1012.5 480.2L1015.5 477.2L1015.5 476.8L1017.5 474.8L1018.2 473.5L1023.8 467.2L1024.8 465.2L1026.8 463.2L1029.8 459.2L1030.5 457.8L1035.5 451.5L1037.5 447.8L1040.2 444.5L1041.2 442.5L1042.8 440.5L1044.2 437.8L1045.8 435.8L1047.2 433.2L1048.5 431.5L1049.8 428.5L1051.5 426.5L1051.8 425.5L1054.5 421.5L1057.5 415.2L1060.2 411.2L1062.5 406.5L1062.5 405.8L1063.8 403.8L1066.2 398.8L1066.8 398.2L1067.8 396.2L1068.2 394.5L1074.2 382.8L1074.8 380.2L1080.8 367.8L1081.5 364.8L1082.5 363.2L1082.5 362.5L1083.5 360.8L1083.5 360.2L1086.5 353.8L1086.8 351.5L1088.2 349.2L1088.5 347.2L1090.2 343.8L1090.2 343.2L1091.2 341.2L1092.2 337.8L1093.2 336.2L1093.2 335.2L1093.5 334.8L1093.5 333.8L1093.8 333.5L1094.2 331.8L1094.8 330.8L1096.2 326.2L1096.8 325.2L1096.8 324.5L1097.8 322.5L1099.2 317.8L1099.8 316.8L1100.5 313.2L1102.5 307.8L1102.8 305.8L1103.5 304.8L1103.5 304.2L1105.5 298.8L1106.5 293.8L1108.5 288.5L1108.5 287.5L1109.5 285.2L1109.5 284.2L1109.8 283.8L1109.8 283.2L1110.5 281.8L1110.5 280.8L1111.5 278.5L1111.5 277.5L1112.2 276.2L1113.5 269.5L1113.8 269.2L1114.2 267.2L1115.2 264.8L1116.2 259.8L1117.2 257.5L1117.5 255.2L1118.2 253.8L1118.2 252.8L1118.5 252.5L1118.5 251.5L1119.2 249.8L1119.5 246.5L1119.8 246.2L1120.2 243.8L1120.8 242.5L1120.8 241.5L1121.2 241.2L1121.2 240.2L1121.5 239.8L1121.5 238.8L1121.8 238.5L1121.8 237.5L1122.2 237.2L1123.2 232.2L1123.8 230.8L1123.8 229.8L1124.5 228.2L1124.5 226.8L1124.8 226.5L1124.8 224.8L1126.2 221.2L1126.2 219.2L1126.5 218.8L1126.5 217.8L1126.8 217.5Z"/>
<path fill="url(#g3)" fill-rule="evenodd" d="M1116.8 258.5L1112.8 258.5L1112.5 258.8L1104.5 259.2L1104.2 259.5L1100.5 259.5L1100.2 259.8L1096.2 259.8L1095.8 260.2L1092.2 260.2L1091.8 260.5L1083.8 260.5L1083.5 260.8L1079.5 260.8L1079.2 261.2L1071.2 261.5L1070.8 261.8L1062.8 261.8L1062.5 262.2L1058.8 262.2L1058.5 262.5L1050.5 262.5L1050.2 262.8L1046.2 262.8L1045.8 263.2L1037.8 263.2L1037.8 263.8L1037.2 265.2L1033.2 265.2L1032.8 265.5L991.5 266.5L991.2 268.2L990.8 268.5L953.2 268.5L952.8 268.2L940.8 268.2L940.5 267.8L936.8 267.8L936.5 268.5L936.5 270.2L935.8 271.8L935.5 271.5L919.2 271.2L918.8 270.8L914.8 270.8L914.5 270.5L910.8 270.5L910.5 270.2L902.5 270.2L902.2 269.8L898.2 269.8L897.8 269.5L896.2 269.5L895.8 269.2L894.2 269.2L893.8 268.8L886.2 268.5L885.8 268.8L885.5 271.2L884.8 272.5L884.5 272.2L880.5 272.2L880.2 271.8L878.5 271.8L878.2 271.5L876.5 271.5L876.2 271.2L872.2 271.2L871.8 270.8L870.2 270.8L869.8 270.5L868.2 270.5L867.8 270.2L863.8 270.2L863.5 269.8L861.8 269.8L861.5 269.5L859.8 269.5L859.5 269.2L857.8 269.2L857.5 268.8L855.5 268.8L855.2 268.5L853.5 268.5L853.2 268.2L851.5 268.2L851.2 267.8L849.5 267.8L849.2 267.5L847.2 267.5L846.8 267.2L845.2 267.2L844.8 266.8L843.5 266.8L843.2 267.2L842.8 269.5L842.2 270.8L841.8 270.5L840.2 270.5L839.8 270.2L837.8 270.2L837.5 269.8L833.8 269.5L833.5 269.2L830.8 268.8L830.5 268.5L829.5 268.5L829.2 268.2L828.2 268.2L827.8 267.8L826.8 267.8L825.2 267.2L821.2 266.8L820.8 266.5L817.2 265.8L813.2 264.5L813.2 265.2L812.8 265.5L812.8 267.2L812.2 268.8L810.5 268.2L809.2 268.2L808.8 267.8L803.8 266.8L801.5 265.8L800.5 265.8L800.2 265.5L799.5 265.5L793.2 263.2L792.2 263.2L787.5 261.5L787.2 262.2L786.8 264.5L786.2 265.8L783.8 264.8L781.8 264.5L777.5 262.5L773.5 261.5L772.5 260.8L771.8 260.8L770.8 260.2L770.2 260.2L769.2 259.5L768.5 259.5L767.5 258.8L765.2 258.2L761.5 256.2L761.2 257.8L760.8 258.2L760.8 259.5L760.2 260.8L749.5 255.5L748.8 255.5L746.8 254.5L743.8 252.5L743.5 254.2L743.2 254.5L743.2 255.8L742.5 257.2L741.2 256.2L739.5 255.5L738.8 254.8L731.2 250.8L726.2 247.5L725.8 249.2L725.5 249.5L725.5 250.8L724.8 252.2L716.8 246.8L713.2 243.8L712.5 244.2L712.2 247.2L711.5 248.5L703.5 242.5L699.2 238.8L698.8 239.2L698.5 242.2L697.8 243.5L692.8 238.8L690.2 236.8L685.8 232.5L685.5 232.8L685.2 235.8L684.5 237.2L676.5 229.2L676.2 229.5L675.8 232.5L675.2 233.8L667.5 225.5L667.5 225.2L665.8 223.5L663.2 219.8L662.8 220.2L662.8 221.5L662.5 221.8L662.5 223.5L661.8 224.8L657.8 220.2L657.8 219.8L657.5 220.5L657.5 221.8L657.2 222.2L653.5 217.2L653.2 217.2L653.2 218.2L652.5 219.2L648.8 214.2L648.5 214.2L648.2 217.5L647.5 218.8L643.2 212.8L642.8 213.5L642.8 214.8L642.5 215.2L642.5 216.5L642.2 216.8L641.5 223.5L641.2 223.8L641.2 225.2L640.8 225.5L640.8 226.8L640.5 227.2L640.5 228.5L640.2 228.8L640.2 230.2L639.8 230.5L639.8 231.8L639.5 232.2L639.5 233.5L639.2 233.8L639.2 235.2L638.8 235.5L638.2 240.2L637.5 241.8L637.2 244.8L636.5 246.5L636.2 249.5L635.5 251.2L635.5 252.8L635.2 253.2L635.2 255.2L634.8 255.5L634.5 258.8L634.2 259.2L633.8 261.8L633.5 262.2L633.5 263.2L632.8 264.8L632.8 266.2L632.5 266.5L632.5 267.8L631.8 269.5L631.8 270.8L631.5 271.2L631.5 272.2L630.8 273.8L630.8 275.2L630.5 275.5L630.5 276.5L629.8 278.2L629.8 280.5L629.2 282.2L629.2 283.5L628.8 283.8L628.8 284.8L628.2 286.5L628.2 287.8L627.8 288.2L627.8 289.2L627.5 289.5L627.5 290.5L627.2 290.8L627.2 291.8L626.8 292.2L626.8 293.2L626.5 293.5L626.5 294.5L626.2 294.8L626.2 295.8L625.8 296.2L625.8 297.2L625.5 297.5L624.5 302.5L624.2 302.8L623.5 306.2L623.2 306.5L622.8 309.8L622.5 310.2L621.8 313.8L621.2 315.2L621.2 316.2L620.2 318.8L620.2 319.8L619.2 322.5L619.2 323.5L618.2 326.2L618.2 327.2L617.2 329.5L617.2 330.5L616.8 330.8L616.8 331.8L616.2 333.5L616.2 334.8L615.8 335.2L615.2 338.8L614.8 339.2L614.5 341.2L613.5 343.5L613.5 344.5L612.5 346.8L612.5 347.8L610.5 353.2L610.2 356.2L608.8 359.5L608.8 360.5L608.5 360.8L608.5 361.5L608.2 361.8L608.2 362.5L607.8 362.8L607.8 363.5L607.5 363.8L607.5 364.5L607.2 364.8L607.2 365.5L606.8 365.8L606.8 366.5L604.2 373.8L603.8 376.2L603.5 376.5L601.2 384.2L600.5 385.2L600.5 385.8L599.5 387.8L598.2 392.5L597.5 393.5L597.5 394.5L597.2 394.8L597.2 395.8L596.8 396.2L596.5 397.8L594.8 401.2L594.8 401.8L593.8 403.8L592.8 407.2L591.8 408.8L591.2 412.2L590.2 413.8L590.2 414.5L589.2 416.2L588.2 419.5L585.2 425.8L584.5 428.8L582.5 432.5L582.5 433.2L581.5 434.8L581.5 435.5L578.2 442.2L578.2 442.8L576.8 445.5L576.8 446.2L572.5 454.5L572.2 456.2L570.5 459.5L569.8 460.2L568.5 463.2L567.8 463.8L564.8 470.5L564.2 471.2L562.8 474.2L560.2 478.2L558.2 482.5L554.5 488.2L552.8 491.8L551.8 492.8L550.5 495.5L548.8 497.5L548.5 498.5L547.2 500.2L546.2 502.5L541.2 509.2L538.5 513.8L534.8 518.2L533.8 520.2L530.8 524.2L528.8 526.2L527.8 528.2L522.2 534.5L519.5 538.2L516.5 541.2L514.5 543.8L509.8 548.5L508.8 550.2L506.8 552.2L506.5 552.2L500.2 558.8L499.8 558.8L496.2 562.5L495.8 562.5L493.5 565.2L491.2 566.8L487.8 570.2L487.5 570.2L485.8 571.8L483.5 573.5L481.2 575.8L479.8 576.5L478.2 578.2L476.8 578.8L474.5 581.2L471.2 583.2L469.8 584.5L468.5 585.2L466.8 586.8L464.5 588.2L463.2 589.5L461.8 589.8L454.5 595.2L453.2 595.5L452.2 596.2L450.8 597.5L449.5 597.8L446.8 599.8L445.5 600.2L444.2 601.5L442.8 601.8L440.5 603.5L439.8 603.5L436.5 605.8L435.2 606.2L433.8 607.2L433.2 607.2L432.2 608.2L431.5 608.2L430.8 608.8L429.5 609.2L428.8 609.8L427.5 610.2L426.8 610.8L425.5 611.5L424.8 611.5L424.2 612.2L422.8 612.5L421.5 613.5L419.8 613.8L418.8 614.8L417.2 615.2L415.8 616.2L414.2 616.5L413.2 617.5L410.5 618.2L409.8 618.8L407.5 619.5L406.5 620.2L405.8 620.2L404.5 621.2L400.8 622.2L398.8 623.5L398.2 623.5L397.8 623.8L395.2 624.5L394.2 625.2L390.5 626.2L389.2 627.2L388.5 627.2L387.5 627.8L381.8 629.5L380.8 630.2L380.2 630.2L378.8 630.8L377.2 630.8L375.2 631.8L369.5 633.5L368.5 634.2L366.8 634.2L366.5 634.5L362.8 635.5L361.8 636.2L360.2 636.2L356.8 637.5L355.5 637.5L353.2 638.5L351.5 638.5L348.8 639.5L347.2 639.5L346.8 639.8L343.5 639.8L342.8 640.5L340.8 640.5L340.5 640.8L335.2 640.8L334.5 641.5L332.5 641.5L332.2 641.8L330.5 641.8L330.2 642.2L326.8 642.2L326.2 642.8L320.5 643.2L320.2 643.5L316.5 643.5L315.5 644.2L313.8 644.2L313.5 644.5L310.2 644.5L309.5 645.2L307.5 645.2L307.2 645.5L301.8 645.5L301.2 646.2L299.2 646.2L298.8 646.5L297.2 646.5L296.8 646.8L293.5 646.8L292.8 647.5L290.8 647.5L290.5 647.8L285.2 647.8L284.5 648.5L282.5 648.5L282.2 648.8L280.5 648.8L280.2 649.2L274.8 649.2L273.8 649.8L272.2 649.8L271.8 650.2L268.5 650.2L267.8 650.8L265.8 650.8L265.5 651.2L260.2 651.2L259.5 651.8L257.5 651.8L257.2 652.2L253.5 652.2L253.2 652.5L249.2 652.8L248.8 653.2L247.2 653.2L246.8 653.5L241.5 653.5L240.5 654.2L238.8 654.2L238.5 654.5L233.2 654.5L232.2 655.2L230.5 655.2L230.2 655.5L224.8 655.5L223.8 656.2L222.2 656.2L221.8 656.5L216.5 656.5L215.5 657.2L213.8 657.2L213.5 657.5L208.2 657.5L207.2 658.2L201.8 658.2L201.2 658.8L199.2 658.8L198.8 659.2L191.5 659.2L190.5 659.8L188.8 659.8L188.5 660.2L183.2 660.2L182.2 660.8L174.8 660.8L173.8 661.5L166.5 661.5L165.5 662.2L158.2 662.2L157.5 662.5L166.8 662.5L167.2 662.2L175.5 662.2L175.8 661.8L183.2 661.8L183.5 661.5L196.5 661.2L196.8 660.8L202.2 660.8L202.5 660.5L207.2 660.5L207.5 660.2L212.5 660.2L212.8 659.8L217.8 659.8L218.2 659.5L222.8 659.5L223.2 659.2L227.5 659.2L227.8 658.8L236.8 658.5L237.2 658.2L240.8 658.2L241.2 657.8L245.8 657.8L246.2 657.5L249.8 657.5L250.2 657.2L254.2 657.2L254.5 656.8L258.5 656.8L258.8 656.5L262.5 656.5L262.8 656.2L266.5 656.2L266.8 655.8L270.5 655.8L270.8 655.5L274.5 655.5L274.8 655.2L282.5 654.8L282.8 654.5L286.2 654.5L286.5 654.2L289.8 654.2L290.2 653.8L293.5 653.8L293.8 653.5L297.5 653.5L297.8 653.2L300.5 653.2L300.8 652.8L304.5 652.8L304.8 652.5L307.5 652.5L307.8 652.2L311.5 652.2L311.8 651.8L314.5 651.8L314.8 651.5L318.5 651.5L318.8 651.2L321.5 651.2L321.8 650.8L325.2 650.8L325.5 650.5L328.2 650.5L328.5 650.2L331.5 650.2L331.8 649.8L334.8 649.8L335.2 649.5L341.5 649.2L341.8 648.8L344.5 648.8L344.8 648.5L347.8 648.5L348.2 648.2L350.8 648.2L351.2 647.8L353.8 647.8L354.2 647.5L357.2 647.5L357.5 647.2L359.8 647.2L360.2 646.8L363.5 646.8L363.8 646.5L366.2 646.5L366.5 646.2L369.5 646.2L369.8 645.8L372.2 645.8L372.5 645.5L378.2 645.2L378.5 644.8L380.8 644.8L381.2 644.5L387.2 644.2L387.5 643.8L392.8 643.5L393.2 643.2L398.5 642.8L398.8 642.5L401.5 642.5L401.8 642.2L405.5 642.2L405.8 641.8L407.2 641.8L407.5 641.5L413.8 641.2L414.2 640.8L417.8 640.5L418.2 640.2L422.2 640.2L423.8 639.5L426.2 639.5L426.5 639.2L430.5 639.2L430.8 638.8L434.2 638.5L434.5 638.2L437.2 638.2L437.5 637.8L439.8 637.8L440.2 637.5L442.5 637.5L442.8 637.2L447.8 636.8L448.2 636.5L450.2 636.5L450.5 636.2L453.5 636.2L453.8 635.8L458.2 635.5L458.5 635.2L460.5 635.2L460.8 634.8L463.5 634.8L463.8 634.5L468.5 634.2L468.8 633.8L471.2 633.8L471.5 633.5L476.2 633.2L476.5 632.8L478.8 632.8L479.2 632.5L483.8 632.2L484.2 631.8L486.2 631.8L486.5 631.5L488.8 631.5L489.2 631.2L491.2 631.2L491.5 630.8L494.2 630.8L494.5 630.5L496.5 630.5L496.8 630.2L498.8 630.2L499.2 629.8L501.5 629.8L501.8 629.5L503.8 629.5L504.2 629.2L506.2 629.2L506.5 628.8L508.8 628.8L509.2 628.5L511.5 628.5L511.8 628.2L513.5 628.2L513.8 627.8L518.8 627.5L519.2 627.2L521.2 627.2L521.5 626.8L523.5 626.8L523.8 626.5L526.2 626.5L526.5 626.2L528.5 626.2L528.8 625.8L530.8 625.8L531.2 625.5L533.2 625.5L533.5 625.2L535.5 625.2L535.8 624.8L538.2 624.8L538.5 624.5L540.5 624.5L540.8 624.2L543.2 624.2L543.5 623.8L547.5 623.5L547.8 623.2L550.2 623.2L550.5 622.8L552.5 622.8L552.8 622.5L554.8 622.5L555.2 622.2L557.5 622.2L557.8 621.8L559.8 621.8L560.2 621.5L564.2 621.2L564.5 620.8L566.8 620.8L567.2 620.5L569.2 620.5L569.5 620.2L571.5 620.2L571.8 619.8L574.2 619.8L574.5 619.5L576.5 619.5L576.8 619.2L578.5 619.2L578.8 618.8L583.5 618.5L583.8 618.2L587.8 617.8L588.2 617.5L590.5 617.5L590.8 617.2L592.5 617.2L592.8 616.8L594.8 616.8L595.2 616.5L597.2 616.5L597.5 616.2L599.5 616.2L599.8 615.8L601.8 615.8L602.2 615.5L604.2 615.5L604.5 615.2L606.5 615.2L606.8 614.8L608.8 614.8L609.2 614.5L611.2 614.5L611.5 614.2L613.5 614.2L613.8 613.8L615.8 613.8L616.2 613.5L618.2 613.5L618.5 613.2L620.5 613.2L620.8 612.8L622.8 612.8L623.2 612.5L625.2 612.5L625.5 612.2L632.2 611.5L632.5 611.2L636.5 610.8L636.8 610.5L639.2 610.5L639.5 610.2L641.2 610.2L641.5 609.8L648.2 609.2L648.5 608.8L650.2 608.8L650.5 608.5L652.5 608.5L652.8 608.2L657.2 607.8L657.5 607.5L659.2 607.5L659.5 607.2L664.2 606.8L664.5 606.5L668.5 606.2L668.8 605.8L670.8 605.8L671.2 605.5L672.8 605.5L673.2 605.2L675.2 605.2L675.5 604.8L682.2 604.2L682.5 603.8L684.2 603.8L684.5 603.5L689.2 603.2L689.5 602.8L690.8 602.8L691.2 602.5L693.2 602.5L693.5 602.2L695.5 602.2L695.8 601.8L697.8 601.8L698.2 601.5L704.8 600.8L705.2 600.5L706.8 600.5L707.2 600.2L708.8 600.2L709.2 599.8L711.2 599.8L711.5 599.5L713.8 599.5L714.2 599.2L718.2 598.8L718.5 598.5L720.2 598.5L720.5 598.2L722.5 598.2L722.8 597.8L724.5 597.8L724.8 597.5L729.2 597.2L729.5 596.8L731.2 596.8L731.5 596.5L733.5 596.5L733.8 596.2L740.5 595.5L740.8 595.2L742.5 595.2L742.8 594.8L747.2 594.5L747.5 594.2L751.5 593.8L751.8 593.5L753.5 593.5L753.8 593.2L760.5 592.5L760.8 592.2L762.5 592.2L762.8 591.8L764.5 591.8L764.8 591.5L766.8 591.5L767.2 591.2L771.5 590.8L771.8 590.5L773.5 590.5L773.8 590.2L780.5 589.5L780.8 589.2L782.2 589.2L782.5 588.8L784.5 588.8L784.8 588.5L786.5 588.5L786.8 588.2L788.2 588.2L788.5 587.8L791.2 587.8L791.5 587.5L793.2 587.5L793.5 587.2L794.8 587.2L795.2 586.8L796.8 586.8L797.2 586.5L800.8 586.2L801.2 585.8L804.5 585.5L804.8 585.2L806.5 585.2L806.8 584.8L808.2 584.8L808.5 584.5L810.2 584.5L810.5 584.2L811.8 584.2L812.2 583.8L813.8 583.8L814.2 583.5L815.5 583.5L817.2 582.8L822.2 582.2L823.5 581.5L827.2 581.2L828.2 580.5L829.8 580.5L831.2 579.8L832.8 579.8L834.2 579.2L835.5 579.2L836.8 578.5L838.5 578.5L838.8 578.2L841.2 577.8L842.5 577.2L844.2 577.2L844.5 576.8L845.2 576.8L846.5 576.2L847.8 576.2L850.2 575.2L851.8 575.2L853.8 574.2L855.5 574.2L858.8 572.8L860.2 572.8L864.5 571.2L865.8 571.2L866.2 570.8L871.8 569.2L873.8 568.2L875.5 568.2L875.8 567.8L877.5 567.5L878.5 566.8L884.2 565.2L885.2 564.5L885.8 564.5L888.2 563.5L889.5 563.5L890.2 562.8L890.8 562.8L891.8 561.8L896.5 560.5L897.5 559.8L899.2 559.5L900.5 558.5L903.2 557.8L905.2 556.5L908.8 555.5L910.8 554.2L912.5 553.8L913.8 552.8L915.5 552.5L916.5 551.5L918.2 551.2L918.8 550.5L920.2 550.2L920.8 549.5L922.2 549.2L923.5 548.2L924.8 547.8L925.5 547.2L926.8 546.8L927.5 546.2L929.5 545.5L931.2 544.2L932.5 543.8L933.2 543.2L934.5 542.8L935.5 541.8L936.2 541.8L936.8 541.2L938.2 540.8L939.8 539.5L941.2 539.2L942.5 537.8L943.8 537.5L946.5 535.5L947.8 535.2L949.2 533.8L950.8 532.8L951.5 532.8L953.5 531.5L954.8 530.2L957.8 528.2L959.2 527.8L961.5 525.8L965.8 523.2L968.2 520.8L972.5 518.2L973.8 516.5L976.2 515.2L977.8 513.5L979.2 512.8L980.5 511.2L981.8 510.5L983.5 508.8L985.8 507.2L987.2 505.5L987.5 505.5L989.2 503.8L991.5 502.2L993.8 499.5L994.2 499.5L997.8 495.8L998.2 495.8L998.5 495.2L1010.8 482.5L1012.5 480.2L1015.5 477.2L1015.5 476.8L1017.5 474.8L1018.2 473.5L1023.8 467.2L1024.8 465.2L1026.8 463.2L1029.8 459.2L1030.5 457.8L1035.5 451.5L1037.5 447.8L1040.2 444.5L1041.2 442.5L1042.2 441.5L1044.2 437.8L1045.8 435.8L1047.2 433.2L1048.5 431.5L1049.8 428.5L1051.5 426.5L1051.8 425.5L1054.5 421.5L1057.5 415.2L1060.2 411.2L1062.5 406.5L1062.5 405.8L1063.2 404.5L1063.8 403.8L1066.2 398.8L1066.8 398.2L1067.8 396.2L1068.2 394.5L1074.2 382.8L1074.8 380.2L1080.8 367.8L1081.5 364.8L1082.5 363.2L1082.5 362.5L1083.5 360.8L1083.5 360.2L1086.5 353.8L1086.8 351.5L1088.2 349.2L1088.5 347.2L1090.2 343.8L1090.2 343.2L1091.2 341.2L1092.2 337.8L1093.2 336.2L1093.2 335.2L1093.5 334.8L1093.5 333.8L1093.8 333.5L1094.2 331.8L1094.8 330.8L1096.2 326.2L1096.8 325.2L1096.8 324.5L1097.8 322.5L1099.2 317.8L1099.8 316.8L1100.5 313.2L1102.5 307.8L1102.8 305.8L1103.5 304.8L1103.5 304.2L1105.5 298.8L1106.5 293.8L1108.5 288.5L1108.5 287.5L1108.8 287.2L1108.8 286.5L1109.5 285.2L1109.5 284.2L1110.5 281.8L1110.5 280.8L1111.5 278.5L1111.5 277.5L1112.2 276.2L1113.5 269.5L1114.2 268.2L1114.2 267.2L1115.2 264.8L1116.2 259.8Z"/>
<path fill="url(#g4)" fill-rule="evenodd" d="M1103.5 304.8L1101.5 304.8L1101.2 305.2L1099.5 305.2L1099.2 305.5L1095.5 305.5L1095.2 305.8L1091.2 305.8L1090.8 306.2L1087.2 306.2L1086.8 306.5L1082.8 306.5L1082.5 306.8L1078.8 306.8L1078.5 307.2L1074.5 307.2L1074.2 307.5L1070.5 307.5L1070.2 307.8L1066.2 307.8L1065.8 308.2L1062.2 308.2L1061.8 308.5L1057.8 308.5L1057.5 308.8L1053.8 308.8L1053.5 309.2L1049.5 309.2L1049.2 309.5L1045.5 309.5L1045.2 309.8L1037.2 310.2L1036.8 310.5L1028.8 310.5L1028.5 310.8L1024.5 310.8L1024.5 311.5L1023.8 312.8L1015.8 312.8L1015.5 313.2L1011.5 313.2L1011.2 313.5L1007.5 313.5L1007.2 313.8L999.2 313.8L998.8 314.2L994.8 314.2L994.5 314.5L978.2 314.8L978.2 315.5L977.5 316.8L965.5 316.8L965.2 317.2L957.2 317.2L956.8 317.5L940.5 317.5L940.2 317.8L923.8 317.8L923.2 319.2L923.2 320.2L922.5 321.2L918.2 321.2L917.8 320.8L897.5 320.8L897.2 320.5L884.8 320.5L884.5 320.2L880.8 320.2L880.5 319.8L872.5 319.8L872.2 319.5L868.5 319.5L867.8 320.8L867.8 321.8L867.2 322.8L866.8 322.5L863.2 322.5L862.8 322.2L858.8 322.2L858.5 321.8L854.8 321.8L854.5 321.5L850.5 321.5L850.2 321.2L846.5 321.2L846.2 320.8L842.2 320.8L841.8 320.5L838.2 320.5L837.8 320.2L833.8 320.2L833.5 319.8L830.2 319.5L829.5 320.8L829.5 321.8L828.8 322.8L828.5 322.5L824.8 322.5L824.5 322.2L822.8 322.2L822.5 321.8L820.5 321.8L820.2 321.5L818.5 321.5L818.2 321.2L816.5 321.2L816.2 320.8L812.2 320.8L811.8 320.5L810.2 320.5L809.8 320.2L808.2 320.2L807.8 319.8L806.2 319.8L805.8 319.5L803.8 319.5L803.5 319.2L802.5 319.2L802.2 318.8L801.2 318.8L799.5 318.2L797.8 318.2L797.5 317.8L795.8 317.8L795.5 318.2L795.2 320.2L794.5 321.2L794.2 320.8L792.5 320.8L792.2 320.5L790.5 320.5L788.8 319.8L787.5 319.8L785.8 319.2L784.2 319.2L783.8 318.8L782.2 318.8L780.5 318.2L779.2 318.2L778.8 317.8L773.8 316.8L770.2 315.5L769.5 315.8L769.2 318.2L768.5 319.2L768.2 318.8L764.5 318.2L762.2 317.2L761.2 317.2L759.8 316.5L756.2 315.8L755.8 315.5L755.2 315.5L753.8 314.8L752.8 314.8L748.5 313.2L747.8 313.5L747.5 315.5L746.8 316.5L744.5 315.5L743.5 315.5L743.2 315.2L737.5 313.5L736.5 312.8L735.8 312.8L734.8 312.2L734.2 312.2L733.2 311.5L732.5 311.5L731.5 310.8L730.8 310.8L726.2 308.8L725.8 309.5L725.8 311.2L725.2 312.5L712.8 306.5L712.5 306.8L712.2 309.2L711.5 310.5L710.2 309.5L708.5 308.8L707.8 308.2L702.5 305.8L701.8 305.2L700.2 304.5L695.2 301.2L694.8 301.5L694.5 303.8L693.8 305.2L690.2 302.5L689.2 302.2L687.5 300.8L684.5 299.2L682.2 297.2L681.5 297.2L681.2 299.5L680.5 300.8L675.8 297.2L672.8 295.2L672.2 295.2L671.8 297.5L671.2 298.8L664.8 293.5L663.2 292.5L659.2 288.8L658.8 288.8L658.5 291.2L657.8 292.5L654.5 289.5L654.2 289.5L649.8 284.8L649.5 285.2L649.2 287.5L648.5 288.8L640.5 280.5L640.2 280.5L639.8 282.8L639.2 284.2L630.8 274.8L630.5 276.5L630.2 276.8L630.2 277.8L629.8 278.2L629.8 280.5L629.5 280.8L629.2 283.5L628.8 283.8L628.8 284.8L628.2 286.5L628.2 287.8L627.8 288.2L627.8 289.2L627.5 289.5L627.5 290.5L627.2 290.8L627.2 291.8L626.8 292.2L626.8 293.2L626.5 293.5L626.5 294.5L626.2 294.8L626.2 295.8L625.8 296.2L625.8 297.2L625.5 297.5L624.5 302.5L624.2 302.8L623.5 306.2L623.2 306.5L622.8 309.8L622.5 310.2L621.8 313.8L621.2 315.2L621.2 316.2L620.2 318.8L620.2 319.8L619.2 322.5L619.2 323.5L618.2 326.2L618.2 327.2L617.2 329.5L617.2 330.5L616.8 330.8L616.8 331.8L616.2 333.5L616.2 334.8L615.8 335.2L615.2 338.8L614.5 340.2L614.5 341.2L614.2 341.5L614.2 342.2L613.5 343.5L613.5 344.5L612.5 346.8L612.5 347.8L610.5 353.2L610.2 356.2L608.8 359.5L608.8 360.5L608.5 360.8L608.5 361.5L608.2 361.8L608.2 362.5L607.8 362.8L607.8 363.5L607.5 363.8L607.5 364.5L607.2 364.8L607.2 365.5L606.8 365.8L606.8 366.5L604.2 373.8L603.8 376.2L603.5 376.5L601.2 384.2L599.5 387.8L598.2 392.5L597.5 393.5L597.5 394.5L597.2 394.8L597.2 395.8L596.8 396.2L596.5 397.8L594.8 401.2L594.8 401.8L593.8 403.8L592.8 407.2L591.8 408.8L591.2 412.2L590.2 413.8L590.2 414.5L589.2 416.2L588.2 419.5L585.2 425.8L584.5 428.8L582.5 432.5L582.5 433.2L581.5 434.8L581.5 435.5L578.2 442.2L578.2 442.8L576.8 445.5L576.8 446.2L572.5 454.5L572.2 456.2L570.5 459.5L569.8 460.2L568.5 463.2L567.8 463.8L564.8 470.5L564.2 471.2L562.8 474.2L560.2 478.2L558.2 482.5L554.5 488.2L552.8 491.8L551.8 492.8L550.5 495.5L548.8 497.5L548.5 498.5L547.2 500.2L546.2 502.5L544.2 504.8L543.2 506.8L540.5 510.2L538.5 513.8L534.8 518.2L534.5 519.2L530.8 524.2L528.8 526.2L527.8 528.2L522.2 534.5L519.5 538.2L514.5 543.5L514.5 543.8L509.8 548.5L508.8 550.2L506.8 552.2L506.5 552.2L500.2 558.8L499.8 558.8L496.2 562.5L495.8 562.5L493.5 565.2L491.2 566.8L487.8 570.2L487.5 570.2L485.8 571.8L483.5 573.5L481.2 575.8L479.8 576.5L478.2 578.2L476.8 578.8L474.5 581.2L471.2 583.2L469.8 584.5L468.5 585.2L466.8 586.8L464.5 588.2L463.2 589.5L461.8 589.8L454.5 595.2L453.2 595.5L452.2 596.2L450.8 597.5L449.5 597.8L446.8 599.8L445.5 600.2L444.2 601.5L442.8 601.8L440.5 603.5L439.8 603.5L436.5 605.8L435.2 606.2L433.8 607.2L433.2 607.2L432.2 608.2L431.5 608.2L430.8 608.8L429.5 609.2L428.8 609.8L427.5 610.2L426.8 610.8L425.5 611.5L424.8 611.5L424.2 612.2L422.8 612.5L421.5 613.5L419.8 613.8L418.8 614.8L417.2 615.2L415.8 616.2L414.2 616.5L413.2 617.5L410.5 618.2L409.2 619.2L405.8 620.2L404.5 621.2L400.8 622.2L398.8 623.5L398.2 623.5L397.8 623.8L395.2 624.5L394.2 625.2L390.5 626.2L389.8 626.8L388.5 627.2L387.5 627.8L381.8 629.5L380.8 630.2L380.2 630.2L378.8 630.8L377.2 630.8L375.2 631.8L369.5 633.5L368.5 634.2L366.8 634.2L366.5 634.5L362.8 635.5L361.8 636.2L360.2 636.2L359.8 636.5L359.2 636.5L356.8 637.5L355.5 637.5L353.2 638.5L351.5 638.5L350.2 639.2L347.2 639.5L346.8 639.8L343.5 639.8L342.8 640.5L340.8 640.5L340.5 640.8L335.2 640.8L334.5 641.5L332.5 641.5L332.2 641.8L330.5 641.8L330.2 642.2L326.8 642.2L326.2 642.8L320.5 643.2L320.2 643.5L316.5 643.5L315.5 644.2L313.8 644.2L313.5 644.5L310.2 644.5L309.5 645.2L307.5 645.2L307.2 645.5L301.8 645.5L301.2 646.2L299.2 646.2L298.8 646.5L297.2 646.5L296.8 646.8L293.5 646.8L292.8 647.5L290.8 647.5L290.5 647.8L285.2 647.8L284.5 648.5L282.5 648.5L282.2 648.8L280.5 648.8L280.2 649.2L274.8 649.2L273.8 649.8L272.2 649.8L271.8 650.2L268.5 650.2L267.8 650.8L265.8 650.8L265.5 651.2L260.2 651.2L259.5 651.8L257.5 651.8L257.2 652.2L253.5 652.2L253.2 652.5L249.2 652.8L248.8 653.2L247.2 653.2L246.8 653.5L241.5 653.5L240.5 654.2L238.8 654.2L238.5 654.5L233.2 654.5L232.2 655.2L230.5 655.2L230.2 655.5L224.8 655.5L223.8 656.2L222.2 656.2L221.8 656.5L216.5 656.5L215.5 657.2L213.8 657.2L213.5 657.5L208.2 657.5L207.2 658.2L201.8 658.2L201.2 658.8L199.2 658.8L198.8 659.2L191.5 659.2L190.5 659.8L188.8 659.8L188.5 660.2L183.2 660.2L182.2 660.8L174.8 660.8L173.8 661.5L166.5 661.5L165.5 662.2L158.2 662.2L157.5 662.5L166.8 662.5L167.2 662.2L183.2 661.8L183.5 661.5L196.5 661.2L196.8 660.8L202.2 660.8L202.5 660.5L207.2 660.5L207.5 660.2L212.5 660.2L212.8 659.8L222.8 659.5L223.2 659.2L227.5 659.2L227.8 658.8L236.8 658.5L237.2 658.2L240.8 658.2L241.2 657.8L245.8 657.8L246.2 657.5L249.8 657.5L250.2 657.2L254.2 657.2L254.5 656.8L258.5 656.8L258.8 656.5L262.5 656.5L262.8 656.2L266.5 656.2L266.8 655.8L270.5 655.8L270.8 655.5L274.5 655.5L274.8 655.2L282.5 654.8L282.8 654.5L286.2 654.5L286.5 654.2L289.8 654.2L290.2 653.8L293.5 653.8L293.8 653.5L297.5 653.5L297.8 653.2L300.5 653.2L300.8 652.8L304.5 652.8L304.8 652.5L307.5 652.5L307.8 652.2L311.5 652.2L311.8 651.8L314.5 651.8L314.8 651.5L318.5 651.5L318.8 651.2L321.5 651.2L321.8 650.8L325.2 650.8L325.5 650.5L328.2 650.5L328.5 650.2L331.5 650.2L331.8 649.8L334.8 649.8L335.2 649.5L341.5 649.2L341.8 648.8L347.8 648.5L348.2 648.2L350.8 648.2L351.2 647.8L353.8 647.8L354.2 647.5L357.2 647.5L357.5 647.2L359.8 647.2L360.2 646.8L363.5 646.8L363.8 646.5L366.2 646.5L366.5 646.2L369.5 646.2L369.8 645.8L372.2 645.8L372.5 645.5L375.2 645.5L375.5 645.2L378.2 645.2L378.5 644.8L380.8 644.8L381.2 644.5L387.2 644.2L387.5 643.8L392.8 643.5L393.2 643.2L398.5 642.8L398.8 642.5L401.5 642.5L401.8 642.2L405.5 642.2L405.8 641.8L407.2 641.8L407.5 641.5L413.8 641.2L414.2 640.8L417.8 640.5L418.2 640.2L422.2 640.2L423.8 639.5L426.2 639.5L426.5 639.2L430.5 639.2L430.8 638.8L434.2 638.5L434.5 638.2L437.2 638.2L437.5 637.8L439.8 637.8L440.2 637.5L442.5 637.5L442.8 637.2L447.8 636.8L448.2 636.5L450.2 636.5L450.5 636.2L453.5 636.2L453.8 635.8L458.2 635.5L458.5 635.2L460.5 635.2L460.8 634.8L463.5 634.8L463.8 634.5L465.8 634.5L466.2 634.2L468.5 634.2L468.8 633.8L471.2 633.8L471.5 633.5L473.5 633.5L473.8 633.2L478.8 632.8L479.2 632.5L483.8 632.2L484.2 631.8L486.2 631.8L486.5 631.5L488.8 631.5L489.2 631.2L491.2 631.2L491.5 630.8L494.2 630.8L494.5 630.5L496.5 630.5L496.8 630.2L498.8 630.2L499.2 629.8L501.5 629.8L501.8 629.5L503.8 629.5L504.2 629.2L506.2 629.2L506.5 628.8L511.5 628.5L511.8 628.2L513.5 628.2L513.8 627.8L516.2 627.8L516.5 627.5L518.8 627.5L519.2 627.2L521.2 627.2L521.5 626.8L523.5 626.8L523.8 626.5L526.2 626.5L526.5 626.2L528.5 626.2L528.8 625.8L530.8 625.8L531.2 625.5L533.2 625.5L533.5 625.2L535.5 625.2L535.8 624.8L538.2 624.8L538.5 624.5L540.5 624.5L540.8 624.2L543.2 624.2L543.5 623.8L547.5 623.5L547.8 623.2L550.2 623.2L550.5 622.8L552.5 622.8L552.8 622.5L554.8 622.5L555.2 622.2L557.5 622.2L557.8 621.8L559.8 621.8L560.2 621.5L561.8 621.5L562.2 621.2L566.8 620.8L567.2 620.5L569.2 620.5L569.5 620.2L571.5 620.2L571.8 619.8L574.2 619.8L574.5 619.5L576.5 619.5L576.8 619.2L578.5 619.2L578.8 618.8L583.5 618.5L583.8 618.2L585.5 618.2L585.8 617.8L590.5 617.5L590.8 617.2L592.5 617.2L592.8 616.8L594.8 616.8L595.2 616.5L597.2 616.5L597.5 616.2L599.5 616.2L599.8 615.8L601.8 615.8L602.2 615.5L604.2 615.5L604.5 615.2L606.5 615.2L606.8 614.8L608.8 614.8L609.2 614.5L611.2 614.5L611.5 614.2L613.5 614.2L613.8 613.8L615.8 613.8L616.2 613.5L618.2 613.5L618.5 613.2L620.5 613.2L620.8 612.8L622.8 612.8L623.2 612.5L625.2 612.5L625.5 612.2L632.2 611.5L632.5 611.2L634.2 611.2L634.5 610.8L639.2 610.5L639.5 610.2L641.2 610.2L641.5 609.8L648.2 609.2L648.5 608.8L650.2 608.8L650.5 608.5L652.5 608.5L652.8 608.2L657.2 607.8L657.5 607.5L659.2 607.5L659.5 607.2L664.2 606.8L664.5 606.5L668.5 606.2L668.8 605.8L670.8 605.8L671.2 605.5L672.8 605.5L673.2 605.2L675.2 605.2L675.5 604.8L682.2 604.2L682.5 603.8L684.2 603.8L684.5 603.5L689.2 603.2L689.5 602.8L690.8 602.8L691.2 602.5L693.2 602.5L693.5 602.2L695.5 602.2L695.8 601.8L697.8 601.8L698.2 601.5L704.8 600.8L705.2 600.5L706.8 600.5L707.2 600.2L708.8 600.2L709.2 599.8L711.2 599.8L711.5 599.5L713.8 599.5L714.2 599.2L718.2 598.8L718.5 598.5L720.2 598.5L720.5 598.2L722.5 598.2L722.8 597.8L724.5 597.8L724.8 597.5L729.2 597.2L729.5 596.8L731.2 596.8L731.5 596.5L733.5 596.5L733.8 596.2L740.5 595.5L740.8 595.2L742.5 595.2L742.8 594.8L747.2 594.5L747.5 594.2L751.5 593.8L751.8 593.5L753.5 593.5L753.8 593.2L760.5 592.5L760.8 592.2L762.5 592.2L762.8 591.8L764.5 591.8L764.8 591.5L766.8 591.5L767.2 591.2L771.5 590.8L771.8 590.5L773.5 590.5L773.8 590.2L780.5 589.5L780.8 589.2L786.5 588.5L786.8 588.2L788.2 588.2L788.5 587.8L793.2 587.5L793.5 587.2L794.8 587.2L795.2 586.8L796.8 586.8L797.2 586.5L800.8 586.2L801.2 585.8L804.5 585.5L804.8 585.2L806.5 585.2L806.8 584.8L808.2 584.8L808.5 584.5L810.2 584.5L810.5 584.2L811.8 584.2L812.2 583.8L813.8 583.8L814.2 583.5L815.5 583.5L817.2 582.8L822.2 582.2L823.5 581.5L827.2 581.2L828.2 580.5L829.8 580.5L831.2 579.8L832.8 579.8L834.2 579.2L835.5 579.2L836.8 578.5L838.5 578.5L838.8 578.2L841.2 577.8L842.5 577.2L844.2 577.2L844.5 576.8L845.2 576.8L846.5 576.2L847.8 576.2L850.2 575.2L851.8 575.2L853.8 574.2L855.5 574.2L858.8 572.8L860.2 572.8L864.5 571.2L865.8 571.2L866.2 570.8L871.8 569.2L873.8 568.2L875.5 568.2L875.8 567.8L877.5 567.5L878.5 566.8L884.2 565.2L885.2 564.5L885.8 564.5L888.2 563.5L889.5 563.5L890.2 562.8L890.8 562.8L891.8 561.8L896.5 560.5L897.5 559.8L899.2 559.5L900.5 558.5L903.2 557.8L905.2 556.5L908.8 555.5L910.8 554.2L912.5 553.8L913.8 552.8L915.5 552.5L916.5 551.5L918.2 551.2L918.8 550.5L920.2 550.2L920.8 549.5L922.2 549.2L923.5 548.2L924.8 547.8L925.5 547.2L926.8 546.8L927.5 546.2L929.5 545.5L931.2 544.2L932.5 543.8L933.2 543.2L934.5 542.8L935.5 541.8L936.2 541.8L936.8 541.2L938.2 540.8L939.8 539.5L941.2 539.2L942.5 537.8L943.8 537.5L946.5 535.5L947.8 535.2L949.2 533.8L950.8 532.8L951.5 532.8L957.8 528.2L959.2 527.8L960.2 527.2L961.5 525.8L965.8 523.2L968.2 520.8L972.5 518.2L973.8 516.5L976.2 515.2L977.8 513.5L979.2 512.8L980.5 511.2L981.8 510.5L983.5 508.8L985.8 507.2L987.2 505.5L987.5 505.5L989.2 503.8L991.5 502.2L991.8 501.5L997.8 495.8L998.2 495.8L998.5 495.2L1005.2 488.5L1005.2 488.2L1010.8 482.5L1012.5 480.2L1017.5 474.8L1018.2 473.5L1023.8 467.2L1024.8 465.2L1026.8 463.2L1029.8 459.2L1030.5 457.8L1035.5 451.5L1037.5 447.8L1042.8 440.5L1044.2 437.8L1045.8 435.8L1047.2 433.2L1048.5 431.5L1049.8 428.5L1051.5 426.5L1051.8 425.5L1054.5 421.5L1057.5 415.2L1060.2 411.2L1062.5 406.5L1062.5 405.8L1063.2 404.5L1063.8 403.8L1066.2 398.8L1066.8 398.2L1067.8 396.2L1068.2 394.5L1074.2 382.8L1074.8 380.2L1080.8 367.8L1081.5 364.8L1082.5 363.2L1082.5 362.5L1083.5 360.8L1083.5 360.2L1086.5 353.8L1086.8 351.5L1088.2 349.2L1088.5 347.2L1090.2 343.8L1090.2 343.2L1091.2 341.2L1092.2 337.8L1093.2 336.2L1093.5 333.8L1093.8 333.5L1094.2 331.8L1094.8 330.8L1094.8 330.2L1095.2 329.8L1096.2 326.2L1096.8 325.2L1097.2 323.5L1097.8 322.5L1099.2 317.8L1099.8 316.8L1100.5 313.2L1102.5 307.8L1102.8 305.8Z"/>
<path fill="url(#g5)" fill-rule="evenodd" d="M1089.2 346.2L1087.5 346.2L1087.2 346.5L1085.5 346.5L1085.2 346.8L1081.2 346.8L1080.8 347.2L1077.2 347.2L1076.8 347.5L1072.8 347.8L1071.5 350.5L1067.8 350.5L1067.5 350.8L1065.5 350.8L1065.2 351.2L1063.5 351.2L1063.2 351.5L1059.5 351.5L1059.2 351.8L1055.2 351.8L1054.8 352.2L1051.2 352.2L1050.8 352.5L1042.8 352.8L1042.5 353.2L1040.5 353.2L1040.2 353.5L1038.5 353.5L1038.2 353.8L1034.5 353.8L1034.2 354.2L1030.2 354.2L1029.8 354.5L1026.2 354.5L1025.8 354.8L1021.8 354.8L1021.5 355.2L1017.8 355.2L1017.5 355.5L1013.5 355.5L1013.2 355.8L1009.5 355.8L1009.2 356.2L1005.2 356.2L1004.8 356.5L1001.2 356.5L1000.8 356.8L996.8 356.8L996.8 357.5L996.5 357.8L992.5 357.8L992.2 358.2L984.2 358.5L983.8 358.8L980.2 358.8L979.8 359.2L971.8 359.2L971.5 359.5L967.5 359.5L967.2 359.8L959.2 360.2L958.8 360.5L950.8 360.5L950.5 361.8L949.8 362.8L945.8 362.8L945.5 363.2L937.5 363.2L937.2 363.5L929.2 363.5L928.8 363.8L920.8 363.8L920.5 364.2L912.5 364.2L912.2 364.5L904.2 364.5L903.8 364.8L891.8 364.8L890.5 367.5L882.5 367.5L882.2 367.8L861.5 367.8L861.2 367.5L844.8 367.5L844.5 367.2L840.8 367.2L839.5 369.8L835.5 369.8L835.2 369.5L827.2 369.5L826.8 369.2L822.8 369.2L822.5 368.8L818.8 368.8L818.5 368.5L810.5 368.5L810.2 368.2L806.2 368.2L805.8 367.8L802.5 367.5L802.2 367.8L801.8 369.5L801.2 370.5L800.8 370.2L796.8 370.2L796.5 369.8L794.8 369.8L794.5 369.5L792.8 369.5L792.5 369.2L784.5 368.8L784.2 368.5L780.2 368.2L779.8 367.8L778.2 367.8L777.8 367.5L776.2 367.5L775.8 367.2L772.2 367.2L771.2 369.8L770.8 369.5L766.8 369.2L766.5 368.8L764.8 368.8L764.5 368.5L762.8 368.5L762.5 368.2L760.8 368.2L760.5 367.8L758.5 367.8L758.2 367.5L756.5 367.5L756.2 367.2L754.5 367.2L754.2 366.8L752.5 366.8L752.2 366.5L750.2 366.5L749.8 366.2L748.8 366.2L747.2 365.5L746.5 365.5L746.2 365.8L745.8 367.5L745.2 368.5L743.5 367.8L742.2 367.8L741.8 367.5L740.8 367.5L740.5 367.2L739.5 367.2L739.2 366.8L738.2 366.8L737.8 366.5L736.8 366.5L735.2 365.8L733.8 365.8L733.5 365.5L728.5 364.5L724.8 363.2L724.2 363.5L723.8 365.2L723.2 366.2L722.8 365.8L719.2 365.2L716.8 364.2L715.8 364.2L715.5 363.8L714.8 363.8L708.5 361.5L707.5 361.5L707.2 361.2L706.8 361.2L706.5 361.8L706.5 362.8L705.8 364.2L703.5 363.2L701.5 362.8L700.5 362.2L699.8 362.2L698.8 361.5L698.2 361.5L697.2 360.8L696.5 360.8L695.5 360.2L694.8 360.2L693.8 359.5L693.2 359.5L689.5 357.8L689.2 358.2L688.8 359.8L688.2 360.8L684.5 359.2L683.8 359.2L675.8 355.2L675.5 355.5L675.2 357.2L674.5 358.2L668.5 355.2L667.8 354.5L665.5 353.5L662.5 351.5L661.8 352.8L661.8 353.8L661.2 354.8L648.8 346.8L648.5 347.5L648.5 348.8L647.8 350.2L643.8 347.5L640.2 344.5L639.5 344.5L639.2 346.5L638.5 347.5L633.2 343.2L632.8 343.2L631.2 341.5L630.2 341.2L629.8 343.2L629.2 344.2L621.2 337.2L620.8 337.2L620.5 339.2L619.8 340.2L615.8 336.2L615.5 336.5L615.2 338.8L614.5 340.2L614.5 341.2L613.5 343.5L613.5 344.5L612.5 346.8L612.5 347.8L610.5 353.2L610.2 356.2L609.8 356.5L609.8 357.2L608.8 359.5L608.8 360.5L608.5 360.8L608.5 361.5L608.2 361.8L608.2 362.5L607.8 362.8L607.8 363.5L607.5 363.8L607.5 364.5L607.2 364.8L607.2 365.5L606.8 365.8L606.8 366.5L604.2 373.8L603.8 376.2L603.5 376.5L601.2 384.2L600.5 385.2L600.5 385.8L599.5 387.8L598.2 392.5L597.5 393.5L597.5 394.5L597.2 394.8L597.2 395.8L596.8 396.2L596.5 397.8L594.8 401.2L594.8 401.8L593.8 403.8L592.8 407.2L591.8 408.8L591.2 412.2L590.2 413.8L590.2 414.5L589.2 416.2L588.2 419.5L585.2 425.8L584.5 428.8L582.5 432.5L582.5 433.2L581.5 434.8L581.5 435.5L578.2 442.2L578.2 442.8L576.8 445.5L576.8 446.2L572.5 454.5L572.2 456.2L570.5 459.5L569.8 460.2L568.5 463.2L567.8 463.8L565.8 467.8L565.8 468.5L564.8 470.5L564.2 471.2L562.8 474.2L560.2 478.2L558.2 482.5L554.5 488.2L552.8 491.8L551.8 492.8L550.5 495.5L548.8 497.5L548.5 498.5L547.2 500.2L546.2 502.5L544.2 504.8L543.2 506.8L540.5 510.2L538.5 513.8L534.8 518.2L534.5 519.2L530.8 524.2L528.8 526.2L527.8 528.2L522.2 534.5L519.5 538.2L514.5 543.5L514.5 543.8L509.8 548.5L508.8 550.2L506.8 552.2L506.5 552.2L500.2 558.8L499.8 558.8L496.2 562.5L495.8 562.5L493.5 565.2L491.2 566.8L487.8 570.2L487.5 570.2L485.8 571.8L483.5 573.5L481.2 575.8L479.8 576.5L478.2 578.2L476.8 578.8L474.5 581.2L471.2 583.2L469.8 584.5L468.5 585.2L466.8 586.8L464.5 588.2L463.2 589.5L461.8 589.8L454.5 595.2L453.2 595.5L452.2 596.2L450.8 597.5L449.5 597.8L446.8 599.8L445.5 600.2L444.2 601.5L442.8 601.8L440.5 603.5L439.8 603.5L436.5 605.8L435.2 606.2L433.8 607.2L433.2 607.2L432.2 608.2L431.5 608.2L430.8 608.8L429.5 609.2L428.8 609.8L427.5 610.2L426.8 610.8L425.5 611.5L424.8 611.5L424.2 612.2L422.8 612.5L421.5 613.5L419.8 613.8L418.8 614.8L417.2 615.2L415.8 616.2L414.2 616.5L413.2 617.5L410.5 618.2L409.8 618.8L407.5 619.5L406.5 620.2L405.8 620.2L404.5 621.2L400.8 622.2L398.8 623.5L398.2 623.5L397.8 623.8L395.2 624.5L394.2 625.2L390.5 626.2L389.8 626.8L388.5 627.2L387.5 627.8L381.8 629.5L380.8 630.2L380.2 630.2L378.8 630.8L377.2 630.8L375.2 631.8L369.5 633.5L368.5 634.2L366.8 634.2L366.5 634.5L362.8 635.5L361.8 636.2L360.2 636.2L359.8 636.5L359.2 636.5L356.8 637.5L355.5 637.5L353.2 638.5L351.5 638.5L350.2 639.2L347.2 639.5L346.8 639.8L343.5 639.8L342.8 640.5L340.8 640.5L340.5 640.8L335.2 640.8L334.5 641.5L332.5 641.5L332.2 641.8L330.5 641.8L330.2 642.2L326.8 642.2L326.2 642.8L320.5 643.2L320.2 643.5L316.5 643.5L315.5 644.2L313.8 644.2L313.5 644.5L310.2 644.5L309.5 645.2L307.5 645.2L307.2 645.5L301.8 645.5L301.2 646.2L299.2 646.2L298.8 646.5L297.2 646.5L296.8 646.8L293.5 646.8L292.8 647.5L290.8 647.5L290.5 647.8L285.2 647.8L284.5 648.5L282.5 648.5L282.2 648.8L280.5 648.8L280.2 649.2L274.8 649.2L273.8 649.8L272.2 649.8L271.8 650.2L268.5 650.2L267.8 650.8L265.8 650.8L265.5 651.2L260.2 651.2L259.5 651.8L257.5 651.8L257.2 652.2L253.5 652.2L253.2 652.5L249.2 652.8L248.8 653.2L247.2 653.2L246.8 653.5L241.5 653.5L240.5 654.2L238.8 654.2L238.5 654.5L233.2 654.5L232.2 655.2L230.5 655.2L230.2 655.5L224.8 655.5L223.8 656.2L222.2 656.2L221.8 656.5L216.5 656.5L215.5 657.2L213.8 657.2L213.5 657.5L208.2 657.5L207.2 658.2L201.8 658.2L201.2 658.8L199.2 658.8L198.8 659.2L191.5 659.2L190.5 659.8L188.8 659.8L188.5 660.2L183.2 660.2L182.2 660.8L174.8 660.8L173.8 661.5L166.5 661.5L165.5 662.2L158.2 662.2L157.5 662.5L166.8 662.5L167.2 662.2L183.2 661.8L183.5 661.5L196.5 661.2L196.8 660.8L202.2 660.8L202.5 660.5L207.2 660.5L207.5 660.2L212.5 660.2L212.8 659.8L222.8 659.5L223.2 659.2L227.5 659.2L227.8 658.8L236.8 658.5L237.2 658.2L240.8 658.2L241.2 657.8L245.8 657.8L246.2 657.5L249.8 657.5L250.2 657.2L254.2 657.2L254.5 656.8L258.5 656.8L258.8 656.5L262.5 656.5L262.8 656.2L266.5 656.2L266.8 655.8L270.5 655.8L270.8 655.5L274.5 655.5L274.8 655.2L282.5 654.8L282.8 654.5L286.2 654.5L286.5 654.2L289.8 654.2L290.2 653.8L293.5 653.8L293.8 653.5L297.5 653.5L297.8 653.2L300.5 653.2L300.8 652.8L304.5 652.8L304.8 652.5L307.5 652.5L307.8 652.2L311.5 652.2L311.8 651.8L314.5 651.8L314.8 651.5L318.5 651.5L318.8 651.2L321.5 651.2L321.8 650.8L325.2 650.8L325.5 650.5L328.2 650.5L328.5 650.2L331.5 650.2L331.8 649.8L334.8 649.8L335.2 649.5L341.5 649.2L341.8 648.8L347.8 648.5L348.2 648.2L350.8 648.2L351.2 647.8L353.8 647.8L354.2 647.5L357.2 647.5L357.5 647.2L359.8 647.2L360.2 646.8L363.5 646.8L363.8 646.5L366.2 646.5L366.5 646.2L369.5 646.2L369.8 645.8L372.2 645.8L372.5 645.5L375.2 645.5L375.5 645.2L378.2 645.2L378.5 644.8L380.8 644.8L381.2 644.5L387.2 644.2L387.5 643.8L392.8 643.5L393.2 643.2L398.5 642.8L398.8 642.5L401.5 642.5L401.8 642.2L405.5 642.2L405.8 641.8L407.2 641.8L407.5 641.5L413.8 641.2L414.2 640.8L417.8 640.5L418.2 640.2L422.2 640.2L423.8 639.5L426.2 639.5L426.5 639.2L430.5 639.2L430.8 638.8L434.2 638.5L434.5 638.2L437.2 638.2L437.5 637.8L439.8 637.8L440.2 637.5L442.5 637.5L442.8 637.2L447.8 636.8L448.2 636.5L450.2 636.5L450.5 636.2L453.5 636.2L453.8 635.8L458.2 635.5L458.5 635.2L460.5 635.2L460.8 634.8L463.5 634.8L463.8 634.5L465.8 634.5L466.2 634.2L468.5 634.2L468.8 633.8L471.2 633.8L471.5 633.5L473.5 633.5L473.8 633.2L478.8 632.8L479.2 632.5L483.8 632.2L484.2 631.8L486.2 631.8L486.5 631.5L488.8 631.5L489.2 631.2L491.2 631.2L491.5 630.8L494.2 630.8L494.5 630.5L496.5 630.5L496.8 630.2L498.8 630.2L499.2 629.8L501.5 629.8L501.8 629.5L503.8 629.5L504.2 629.2L506.2 629.2L506.5 628.8L511.5 628.5L511.8 628.2L513.5 628.2L513.8 627.8L516.2 627.8L516.5 627.5L518.8 627.5L519.2 627.2L521.2 627.2L521.5 626.8L523.5 626.8L523.8 626.5L526.2 626.5L526.5 626.2L528.5 626.2L528.8 625.8L530.8 625.8L531.2 625.5L533.2 625.5L533.5 625.2L535.5 625.2L535.8 624.8L538.2 624.8L538.5 624.5L540.5 624.5L540.8 624.2L543.2 624.2L543.5 623.8L547.5 623.5L547.8 623.2L550.2 623.2L550.5 622.8L552.5 622.8L552.8 622.5L554.8 622.5L555.2 622.2L557.5 622.2L557.8 621.8L559.8 621.8L560.2 621.5L561.8 621.5L562.2 621.2L566.8 620.8L567.2 620.5L569.2 620.5L569.5 620.2L571.5 620.2L571.8 619.8L574.2 619.8L574.5 619.5L576.5 619.5L576.8 619.2L578.5 619.2L578.8 618.8L583.5 618.5L583.8 618.2L585.5 618.2L585.8 617.8L590.5 617.5L590.8 617.2L592.5 617.2L592.8 616.8L594.8 616.8L595.2 616.5L597.2 616.5L597.5 616.2L599.5 616.2L599.8 615.8L601.8 615.8L602.2 615.5L604.2 615.5L604.5 615.2L606.5 615.2L606.8 614.8L608.8 614.8L609.2 614.5L611.2 614.5L611.5 614.2L613.5 614.2L613.8 613.8L615.8 613.8L616.2 613.5L618.2 613.5L618.5 613.2L620.5 613.2L620.8 612.8L622.8 612.8L623.2 612.5L625.2 612.5L625.5 612.2L632.2 611.5L632.5 611.2L634.2 611.2L634.5 610.8L639.2 610.5L639.5 610.2L641.2 610.2L641.5 609.8L648.2 609.2L648.5 608.8L650.2 608.8L650.5 608.5L652.5 608.5L652.8 608.2L657.2 607.8L657.5 607.5L659.2 607.5L659.5 607.2L664.2 606.8L664.5 606.5L668.5 606.2L668.8 605.8L670.8 605.8L671.2 605.5L672.8 605.5L673.2 605.2L675.2 605.2L675.5 604.8L682.2 604.2L682.5 603.8L684.2 603.8L684.5 603.5L689.2 603.2L689.5 602.8L690.8 602.8L691.2 602.5L693.2 602.5L693.5 602.2L695.5 602.2L695.8 601.8L697.8 601.8L698.2 601.5L704.8 600.8L705.2 600.5L706.8 600.5L707.2 600.2L708.8 600.2L709.2 599.8L711.2 599.8L711.5 599.5L713.8 599.5L714.2 599.2L718.2 598.8L718.5 598.5L720.2 598.5L720.5 598.2L722.5 598.2L722.8 597.8L724.5 597.8L724.8 597.5L729.2 597.2L729.5 596.8L731.2 596.8L731.5 596.5L733.5 596.5L733.8 596.2L740.5 595.5L740.8 595.2L742.5 595.2L742.8 594.8L747.2 594.5L747.5 594.2L751.5 593.8L751.8 593.5L753.5 593.5L753.8 593.2L760.5 592.5L760.8 592.2L762.5 592.2L762.8 591.8L764.5 591.8L764.8 591.5L766.8 591.5L767.2 591.2L771.5 590.8L771.8 590.5L773.5 590.5L773.8 590.2L780.5 589.5L780.8 589.2L786.5 588.5L786.8 588.2L788.2 588.2L788.5 587.8L793.2 587.5L793.5 587.2L794.8 587.2L795.2 586.8L796.8 586.8L797.2 586.5L800.8 586.2L801.2 585.8L804.5 585.5L804.8 585.2L806.5 585.2L806.8 584.8L808.2 584.8L808.5 584.5L810.2 584.5L810.5 584.2L811.8 584.2L812.2 583.8L813.8 583.8L814.2 583.5L815.5 583.5L817.2 582.8L822.2 582.2L823.5 581.5L827.2 581.2L828.2 580.5L829.8 580.5L831.2 579.8L832.8 579.8L834.2 579.2L835.5 579.2L836.8 578.5L838.5 578.5L838.8 578.2L841.2 577.8L842.5 577.2L844.2 577.2L844.5 576.8L845.2 576.8L846.5 576.2L847.8 576.2L850.2 575.2L851.8 575.2L853.8 574.2L855.5 574.2L858.8 572.8L860.2 572.8L864.5 571.2L865.8 571.2L866.2 570.8L871.8 569.2L873.8 568.2L875.5 568.2L875.8 567.8L877.5 567.5L878.5 566.8L884.2 565.2L885.2 564.5L885.8 564.5L888.2 563.5L889.5 563.5L890.2 562.8L890.8 562.8L891.8 561.8L896.5 560.5L897.5 559.8L899.2 559.5L900.5 558.5L903.2 557.8L905.2 556.5L908.8 555.5L910.8 554.2L912.5 553.8L913.8 552.8L915.5 552.5L916.5 551.5L918.2 551.2L918.8 550.5L920.2 550.2L920.8 549.5L922.2 549.2L923.5 548.2L924.8 547.8L925.5 547.2L926.8 546.8L927.5 546.2L929.5 545.5L931.2 544.2L932.5 543.8L933.2 543.2L934.5 542.8L935.5 541.8L936.2 541.8L936.8 541.2L938.2 540.8L939.8 539.5L941.2 539.2L942.5 537.8L943.8 537.5L946.5 535.5L947.8 535.2L949.2 533.8L950.8 532.8L951.5 532.8L957.8 528.2L959.2 527.8L960.2 527.2L961.5 525.8L965.8 523.2L968.2 520.8L972.5 518.2L973.8 516.5L976.2 515.2L977.8 513.5L979.2 512.8L980.5 511.2L981.8 510.5L983.5 508.8L985.8 507.2L987.2 505.5L987.5 505.5L989.2 503.8L991.5 502.2L993.8 499.5L994.2 499.5L997.8 495.8L998.2 495.8L998.5 495.2L1010.8 482.5L1012.5 480.2L1015.5 477.2L1015.5 476.8L1017.5 474.8L1018.2 473.5L1023.8 467.2L1024.8 465.2L1026.8 463.2L1029.8 459.2L1030.5 457.8L1035.5 451.5L1037.5 447.8L1040.2 444.5L1041.2 442.5L1042.8 440.5L1044.2 437.8L1045.8 435.8L1047.2 433.2L1048.5 431.5L1049.8 428.5L1051.5 426.5L1051.8 425.5L1054.5 421.5L1057.5 415.2L1060.2 411.2L1062.5 406.5L1062.5 405.8L1063.2 404.5L1063.8 403.8L1066.2 398.8L1066.8 398.2L1067.8 396.2L1068.2 394.5L1074.2 382.8L1074.8 380.2L1080.8 367.8L1081.5 364.8L1082.5 363.2L1082.5 362.5L1083.5 360.8L1083.5 360.2L1086.5 353.8L1086.8 351.5L1088.2 349.2L1088.2 348.2Z"/>
<path fill="url(#g6)" fill-rule="evenodd" d="M1068.8 393.2L1065.5 393.2L1065.2 393.5L1063.2 393.5L1062.8 393.8L1061.2 393.8L1060.8 394.2L1057.2 394.2L1056.8 394.5L1054.8 394.5L1054.5 394.8L1052.8 394.8L1052.5 395.2L1044.5 395.5L1044.2 395.8L1042.5 395.8L1042.2 396.2L1040.5 396.2L1040.2 396.5L1032.2 396.8L1031.8 397.2L1029.8 397.2L1029.5 397.5L1027.8 397.5L1027.5 397.8L1019.5 398.2L1019.2 398.5L1017.5 398.5L1017.2 398.8L1015.5 398.8L1015.2 399.2L1007.2 399.5L1006.2 401.5L998.2 401.8L997.8 402.2L995.8 402.2L995.5 402.5L993.8 402.5L993.5 402.8L989.8 402.8L989.5 403.2L985.5 403.2L985.2 403.5L981.5 403.5L981.2 403.8L973.2 404.2L972.8 404.5L970.8 404.5L970.5 404.8L968.8 404.8L968.5 405.2L964.8 405.2L964.5 405.5L960.5 405.5L960.2 405.8L956.5 405.8L956.2 406.2L952.2 406.2L951.5 407.2L943.5 407.5L943.2 407.8L935.2 408.2L934.8 408.5L926.8 408.8L926.5 409.2L918.5 409.2L918.2 409.5L914.5 409.5L914.2 409.8L910.2 409.8L909.8 410.2L906.2 410.2L905.8 410.5L901.8 410.5L901.5 411.8L900.8 412.8L896.8 412.8L896.5 413.2L888.5 413.2L888.2 413.5L884.5 413.5L884.2 413.8L876.2 413.8L875.8 414.2L871.8 414.2L871.5 414.5L863.5 414.5L863.2 414.8L855.2 414.8L854.8 415.2L842.8 415.2L841.5 417.5L833.5 417.5L833.2 417.8L799.8 417.8L798.8 419.8L790.5 419.8L790.2 419.5L773.8 419.2L773.5 418.8L765.8 418.5L764.5 420.8L764.2 420.5L760.5 420.5L760.2 420.2L756.2 420.2L755.8 419.8L752.2 419.8L751.8 419.5L747.8 419.5L747.5 419.2L743.8 419.2L743.5 418.8L739.5 418.8L739.2 418.5L737.5 418.5L737.2 418.2L735.8 418.2L734.5 420.5L734.2 420.2L730.2 420.2L729.8 419.8L728.2 419.8L727.8 419.5L726.2 419.5L725.8 419.2L724.2 419.2L723.8 418.8L721.8 418.8L721.5 418.5L719.8 418.5L719.5 418.2L717.8 418.2L717.5 417.8L715.8 417.8L715.5 417.5L713.8 417.5L712.5 419.8L712.2 419.5L710.5 419.5L710.2 419.2L708.5 419.2L708.2 418.8L706.5 418.8L706.2 418.5L704.2 418.5L703.8 418.2L702.8 418.2L702.5 417.8L701.5 417.8L699.8 417.2L695.8 416.8L695.5 416.5L694.5 416.5L692.8 415.8L692.2 415.8L690.8 418.2L690.5 417.8L689.5 417.8L689.2 417.5L688.2 417.5L687.8 417.2L686.8 417.2L685.2 416.5L683.8 416.5L683.5 416.2L678.5 415.2L674.8 413.8L674.2 414.2L673.2 416.2L668.8 414.5L664.8 413.8L661.2 412.2L659.8 414.8L656.2 413.2L655.5 413.2L654.5 412.5L653.8 412.5L652.8 411.8L652.2 411.8L651.2 411.2L650.5 411.2L649.5 410.5L648.8 410.5L647.8 409.8L647.2 410.2L646.8 411.5L646.2 412.5L645.2 411.8L642.8 411.2L639.8 409.5L639.2 409.5L634.2 406.8L632.8 409.5L631.5 408.5L629.8 407.8L629.2 407.2L624.8 405.2L623.5 407.5L618.8 405.2L615.5 402.8L614.2 405.5L606.2 400.2L605.2 402.8L596.8 396.8L595.8 398.8L595.8 399.5L594.8 401.2L594.8 401.8L593.8 403.8L592.8 407.2L591.8 408.8L591.2 412.2L590.2 413.8L590.2 414.5L589.2 416.2L588.2 419.5L585.2 425.8L584.5 428.8L582.5 432.5L582.5 433.2L581.5 434.8L581.5 435.5L578.2 442.2L578.2 442.8L576.8 445.5L576.8 446.2L572.5 454.5L572.2 456.2L570.5 459.5L569.8 460.2L568.5 463.2L567.8 463.8L564.8 470.5L564.2 471.2L562.8 474.2L560.2 478.2L558.2 482.5L554.5 488.2L552.8 491.8L551.8 492.8L550.5 495.5L548.8 497.5L548.5 498.5L547.2 500.2L546.2 502.5L544.2 504.8L543.2 506.8L540.5 510.2L538.5 513.8L534.8 518.2L534.5 519.2L530.8 524.2L528.8 526.2L527.8 528.2L522.2 534.5L519.5 538.2L516.5 541.2L514.5 543.8L509.8 548.5L508.8 550.2L506.8 552.2L506.5 552.2L500.2 558.8L499.8 558.8L496.2 562.5L495.8 562.5L493.5 565.2L491.2 566.8L487.8 570.2L487.5 570.2L485.8 571.8L483.5 573.5L481.2 575.8L479.8 576.5L478.2 578.2L476.8 578.8L474.5 581.2L471.2 583.2L469.8 584.5L468.5 585.2L466.8 586.8L464.5 588.2L463.2 589.5L461.8 589.8L454.5 595.2L453.2 595.5L452.2 596.2L450.8 597.5L449.5 597.8L446.8 599.8L445.5 600.2L444.2 601.5L442.8 601.8L440.5 603.5L439.8 603.5L436.5 605.8L435.2 606.2L433.8 607.2L433.2 607.2L432.2 608.2L431.5 608.2L430.8 608.8L429.5 609.2L428.8 609.8L427.5 610.2L426.8 610.8L425.5 611.5L424.8 611.5L424.2 612.2L422.8 612.5L421.5 613.5L419.8 613.8L418.8 614.8L417.2 615.2L415.8 616.2L414.2 616.5L413.2 617.5L410.5 618.2L409.8 618.8L407.5 619.5L406.5 620.2L405.8 620.2L404.5 621.2L400.8 622.2L398.8 623.5L398.2 623.5L397.8 623.8L395.2 624.5L394.2 625.2L390.5 626.2L389.2 627.2L388.5 627.2L387.5 627.8L381.8 629.5L380.8 630.2L380.2 630.2L378.8 630.8L377.2 630.8L375.2 631.8L369.5 633.5L368.5 634.2L366.8 634.2L366.5 634.5L362.8 635.5L361.8 636.2L360.2 636.2L356.8 637.5L355.5 637.5L353.2 638.5L351.5 638.5L348.8 639.5L347.2 639.5L346.8 639.8L343.5 639.8L342.8 640.5L340.8 640.5L340.5 640.8L335.2 640.8L334.5 641.5L332.5 641.5L332.2 641.8L330.5 641.8L330.2 642.2L326.8 642.2L326.2 642.8L320.5 643.2L320.2 643.5L316.5 643.5L315.5 644.2L313.8 644.2L313.5 644.5L310.2 644.5L309.5 645.2L307.5 645.2L307.2 645.5L301.8 645.5L301.2 646.2L299.2 646.2L298.8 646.5L297.2 646.5L296.8 646.8L293.5 646.8L292.8 647.5L290.8 647.5L290.5 647.8L285.2 647.8L284.5 648.5L282.5 648.5L282.2 648.8L280.5 648.8L280.2 649.2L274.8 649.2L273.8 649.8L272.2 649.8L271.8 650.2L268.5 650.2L267.8 650.8L265.8 650.8L265.5 651.2L260.2 651.2L259.5 651.8L257.5 651.8L257.2 652.2L253.5 652.2L253.2 652.5L249.2 652.8L248.8 653.2L247.2 653.2L246.8 653.5L241.5 653.5L240.5 654.2L238.8 654.2L238.5 654.5L233.2 654.5L232.2 655.2L230.5 655.2L230.2 655.5L224.8 655.5L223.8 656.2L222.2 656.2L221.8 656.5L216.5 656.5L215.5 657.2L213.8 657.2L213.5 657.5L208.2 657.5L207.2 658.2L201.8 658.2L201.2 658.8L199.2 658.8L198.8 659.2L191.5 659.2L190.5 659.8L188.8 659.8L188.5 660.2L183.2 660.2L182.2 660.8L174.8 660.8L173.8 661.5L166.5 661.5L165.5 662.2L158.2 662.2L157.5 662.5L166.8 662.5L167.2 662.2L175.5 662.2L175.8 661.8L183.2 661.8L183.5 661.5L189.8 661.5L190.2 661.2L202.2 660.8L202.5 660.5L207.2 660.5L207.5 660.2L212.5 660.2L212.8 659.8L222.8 659.5L223.2 659.2L227.5 659.2L227.8 658.8L236.8 658.5L237.2 658.2L240.8 658.2L241.2 657.8L245.8 657.8L246.2 657.5L249.8 657.5L250.2 657.2L254.2 657.2L254.5 656.8L258.5 656.8L258.8 656.5L262.5 656.5L262.8 656.2L266.5 656.2L266.8 655.8L270.5 655.8L270.8 655.5L274.5 655.5L274.8 655.2L282.5 654.8L282.8 654.5L286.2 654.5L286.5 654.2L289.8 654.2L290.2 653.8L293.5 653.8L293.8 653.5L297.5 653.5L297.8 653.2L300.5 653.2L300.8 652.8L304.5 652.8L304.8 652.5L307.5 652.5L307.8 652.2L311.5 652.2L311.8 651.8L314.5 651.8L314.8 651.5L318.5 651.5L318.8 651.2L321.5 651.2L321.8 650.8L325.2 650.8L325.5 650.5L328.2 650.5L328.5 650.2L331.5 650.2L331.8 649.8L334.8 649.8L335.2 649.5L341.5 649.2L341.8 648.8L344.5 648.8L344.8 648.5L347.8 648.5L348.2 648.2L350.8 648.2L351.2 647.8L353.8 647.8L354.2 647.5L357.2 647.5L357.5 647.2L359.8 647.2L360.2 646.8L363.5 646.8L363.8 646.5L366.2 646.5L366.5 646.2L369.5 646.2L369.8 645.8L372.2 645.8L372.5 645.5L375.2 645.5L375.5 645.2L378.2 645.2L378.5 644.8L380.8 644.8L381.2 644.5L387.2 644.2L387.5 643.8L392.8 643.5L393.2 643.2L398.5 642.8L398.8 642.5L401.5 642.5L401.8 642.2L405.5 642.2L405.8 641.8L407.2 641.8L407.5 641.5L413.8 641.2L414.2 640.8L417.8 640.5L418.2 640.2L422.2 640.2L423.8 639.5L426.2 639.5L426.5 639.2L430.5 639.2L430.8 638.8L434.2 638.5L434.5 638.2L437.2 638.2L437.5 637.8L439.8 637.8L440.2 637.5L442.5 637.5L442.8 637.2L447.8 636.8L448.2 636.5L450.2 636.5L450.5 636.2L453.5 636.2L453.8 635.8L458.2 635.5L458.5 635.2L460.5 635.2L460.8 634.8L463.5 634.8L463.8 634.5L468.5 634.2L468.8 633.8L471.2 633.8L471.5 633.5L476.2 633.2L476.5 632.8L478.8 632.8L479.2 632.5L483.8 632.2L484.2 631.8L486.2 631.8L486.5 631.5L488.8 631.5L489.2 631.2L491.2 631.2L491.5 630.8L494.2 630.8L494.5 630.5L496.5 630.5L496.8 630.2L498.8 630.2L499.2 629.8L501.5 629.8L501.8 629.5L503.8 629.5L504.2 629.2L506.2 629.2L506.5 628.8L508.8 628.8L509.2 628.5L511.5 628.5L511.8 628.2L513.5 628.2L513.8 627.8L518.8 627.5L519.2 627.2L521.2 627.2L521.5 626.8L523.5 626.8L523.8 626.5L526.2 626.5L526.5 626.2L528.5 626.2L528.8 625.8L530.8 625.8L531.2 625.5L533.2 625.5L533.5 625.2L535.5 625.2L535.8 624.8L538.2 624.8L538.5 624.5L540.5 624.5L540.8 624.2L543.2 624.2L543.5 623.8L547.5 623.5L547.8 623.2L550.2 623.2L550.5 622.8L552.5 622.8L552.8 622.5L554.8 622.5L555.2 622.2L557.5 622.2L557.8 621.8L559.8 621.8L560.2 621.5L564.2 621.2L564.5 620.8L566.8 620.8L567.2 620.5L569.2 620.5L569.5 620.2L571.5 620.2L571.8 619.8L574.2 619.8L574.5 619.5L576.5 619.5L576.8 619.2L578.5 619.2L578.8 618.8L583.5 618.5L583.8 618.2L587.8 617.8L588.2 617.5L590.5 617.5L590.8 617.2L592.5 617.2L592.8 616.8L594.8 616.8L595.2 616.5L597.2 616.5L597.5 616.2L599.5 616.2L599.8 615.8L601.8 615.8L602.2 615.5L604.2 615.5L604.5 615.2L606.5 615.2L606.8 614.8L608.8 614.8L609.2 614.5L611.2 614.5L611.5 614.2L613.5 614.2L613.8 613.8L615.8 613.8L616.2 613.5L618.2 613.5L618.5 613.2L620.5 613.2L620.8 612.8L622.8 612.8L623.2 612.5L625.2 612.5L625.5 612.2L632.2 611.5L632.5 611.2L636.5 610.8L636.8 610.5L639.2 610.5L639.5 610.2L641.2 610.2L641.5 609.8L648.2 609.2L648.5 608.8L650.2 608.8L650.5 608.5L652.5 608.5L652.8 608.2L657.2 607.8L657.5 607.5L659.2 607.5L659.5 607.2L664.2 606.8L664.5 606.5L668.5 606.2L668.8 605.8L670.8 605.8L671.2 605.5L672.8 605.5L673.2 605.2L675.2 605.2L675.5 604.8L682.2 604.2L682.5 603.8L684.2 603.8L684.5 603.5L689.2 603.2L689.5 602.8L690.8 602.8L691.2 602.5L693.2 602.5L693.5 602.2L695.5 602.2L695.8 601.8L697.8 601.8L698.2 601.5L704.8 600.8L705.2 600.5L706.8 600.5L707.2 600.2L708.8 600.2L709.2 599.8L711.2 599.8L711.5 599.5L713.8 599.5L714.2 599.2L718.2 598.8L718.5 598.5L720.2 598.5L720.5 598.2L722.5 598.2L722.8 597.8L724.5 597.8L724.8 597.5L729.2 597.2L729.5 596.8L731.2 596.8L731.5 596.5L733.5 596.5L733.8 596.2L740.5 595.5L740.8 595.2L742.5 595.2L742.8 594.8L747.2 594.5L747.5 594.2L751.5 593.8L751.8 593.5L753.5 593.5L753.8 593.2L760.5 592.5L760.8 592.2L762.5 592.2L762.8 591.8L764.5 591.8L764.8 591.5L766.8 591.5L767.2 591.2L771.5 590.8L771.8 590.5L773.5 590.5L773.8 590.2L780.5 589.5L780.8 589.2L782.2 589.2L782.5 588.8L784.5 588.8L784.8 588.5L786.5 588.5L786.8 588.2L788.2 588.2L788.5 587.8L791.2 587.8L791.5 587.5L793.2 587.5L793.5 587.2L794.8 587.2L795.2 586.8L796.8 586.8L797.2 586.5L800.8 586.2L801.2 585.8L804.5 585.5L804.8 585.2L806.5 585.2L806.8 584.8L808.2 584.8L808.5 584.5L810.2 584.5L810.5 584.2L811.8 584.2L812.2 583.8L813.8 583.8L814.2 583.5L815.5 583.5L817.2 582.8L822.2 582.2L823.5 581.5L827.2 581.2L828.2 580.5L829.8 580.5L831.2 579.8L832.8 579.8L834.2 579.2L835.5 579.2L836.8 578.5L838.5 578.5L838.8 578.2L841.2 577.8L842.5 577.2L844.2 577.2L844.5 576.8L845.2 576.8L846.5 576.2L847.8 576.2L850.2 575.2L851.8 575.2L853.8 574.2L855.5 574.2L858.8 572.8L860.2 572.8L864.5 571.2L865.8 571.2L866.2 570.8L871.8 569.2L873.8 568.2L875.5 568.2L875.8 567.8L877.5 567.5L878.5 566.8L884.2 565.2L885.2 564.5L885.8 564.5L888.2 563.5L889.5 563.5L890.2 562.8L890.8 562.8L891.8 561.8L896.5 560.5L897.5 559.8L899.2 559.5L900.5 558.5L903.2 557.8L905.2 556.5L908.8 555.5L910.8 554.2L912.5 553.8L913.8 552.8L915.5 552.5L916.5 551.5L918.2 551.2L918.8 550.5L920.2 550.2L920.8 549.5L922.2 549.2L923.5 548.2L924.8 547.8L925.5 547.2L926.8 546.8L927.5 546.2L929.5 545.5L931.2 544.2L932.5 543.8L933.2 543.2L934.5 542.8L935.5 541.8L936.2 541.8L936.8 541.2L938.2 540.8L939.8 539.5L941.2 539.2L942.5 537.8L943.8 537.5L946.5 535.5L947.8 535.2L949.2 533.8L950.8 532.8L951.5 532.8L957.8 528.2L959.2 527.8L960.2 527.2L961.5 525.8L965.8 523.2L968.2 520.8L972.5 518.2L973.8 516.5L976.2 515.2L977.8 513.5L979.2 512.8L980.5 511.2L981.8 510.5L983.5 508.8L985.8 507.2L987.2 505.5L987.5 505.5L989.2 503.8L991.5 502.2L993.8 499.5L994.2 499.5L997.8 495.8L998.2 495.8L998.5 495.2L1010.8 482.5L1012.5 480.2L1015.5 477.2L1015.5 476.8L1017.5 474.8L1018.2 473.5L1023.8 467.2L1024.8 465.2L1026.8 463.2L1029.8 459.2L1030.5 457.8L1035.5 451.5L1037.5 447.8L1040.2 444.5L1041.2 442.5L1042.8 440.5L1044.2 437.8L1045.8 435.8L1047.2 433.2L1048.5 431.5L1049.8 428.5L1051.5 426.5L1051.8 425.5L1054.5 421.5L1057.5 415.2L1060.2 411.2L1062.5 406.5L1062.5 405.8L1063.2 404.5L1063.8 403.8L1066.2 398.8L1066.8 398.2Z"/>
<path fill="url(#g7)" fill-rule="evenodd" d="M1042.5 440.8L1040.8 440.8L1040.5 441.2L1038.8 441.2L1038.5 441.5L1034.8 441.5L1034.5 441.8L1030.5 442.2L1029.2 443.8L1027.5 443.8L1027.2 444.2L1025.5 444.2L1025.2 444.5L1021.2 444.5L1020.8 444.8L1019.2 444.8L1018.8 445.2L1017.2 445.2L1016.8 445.5L1012.8 445.5L1012.5 445.8L1010.8 445.8L1010.5 446.2L1008.8 446.2L1008.5 446.5L1004.5 446.5L1004.2 446.8L1002.5 446.8L1002.2 447.2L1000.5 447.2L1000.2 447.5L996.2 447.5L995.8 447.8L994.2 447.8L993.8 448.2L992.2 448.2L991.8 448.5L987.8 448.5L987.5 448.8L985.8 448.8L985.5 449.2L983.8 449.2L983.5 449.5L979.5 449.5L979.2 449.8L977.5 449.8L977.2 450.2L975.5 450.2L975.2 450.5L967.2 450.8L966.8 451.2L964.8 451.2L964.5 451.5L962.8 451.5L962.5 451.8L958.8 451.8L958.5 452.2L956.5 452.2L956.2 452.5L954.5 452.5L954.2 452.8L950.5 452.8L949.8 453.5L945.8 453.5L945.5 453.8L943.8 453.8L943.5 454.2L941.8 454.2L941.5 454.5L937.5 454.5L937.2 454.8L933.5 454.8L933.2 455.2L931.2 455.2L930.8 455.5L929.2 455.5L928.8 455.8L920.8 456.2L920.5 456.5L918.8 456.5L918.5 456.8L916.8 456.8L916.5 457.2L912.5 457.2L912.2 457.5L908.5 457.5L908.2 457.8L904.2 457.8L903.2 459.5L895.2 459.8L894.8 460.2L891.2 460.2L890.8 460.5L886.8 460.5L886.5 460.8L884.8 460.8L884.5 461.2L882.8 461.2L882.5 461.5L878.5 461.5L878.2 461.8L874.5 461.8L874.2 462.2L870.2 462.2L869.8 462.5L866.2 462.5L865.8 462.8L861.8 462.8L861.5 463.2L857.8 463.2L857.5 463.5L853.5 463.5L853.2 463.8L849.5 463.8L849.2 464.2L841.2 464.5L839.8 466.2L835.8 466.2L835.5 466.5L827.5 466.8L827.2 467.2L823.5 467.2L823.2 467.5L815.2 467.5L814.8 467.8L810.8 467.8L810.5 468.2L806.8 468.2L806.5 468.5L790.2 468.8L788.8 470.8L776.8 470.8L776.5 471.2L768.5 471.2L768.2 471.5L751.5 471.5L751.2 472.5L750.5 473.2L729.5 473.2L729.2 472.8L721.2 472.8L720.8 473.8L720.2 474.5L716.2 474.5L715.8 474.2L707.8 474.2L707.5 473.8L703.5 473.8L703.2 473.5L695.5 473.2L694.5 474.8L694.2 474.5L690.2 474.5L689.8 474.2L681.8 473.8L681.5 473.5L677.8 473.5L677.5 473.2L673.5 473.2L673.2 474.2L672.5 474.8L672.2 474.5L670.5 474.5L670.2 474.2L668.5 474.2L668.2 473.8L664.2 473.8L663.8 473.5L662.2 473.5L661.8 473.2L660.2 473.2L659.8 472.8L658.2 472.8L657.8 472.5L655.8 472.5L655.5 473.5L654.8 474.2L654.5 473.8L652.8 473.8L652.5 473.5L650.8 473.5L650.5 473.2L648.8 473.2L648.5 472.8L646.5 472.8L646.2 472.5L642.5 472.2L642.2 473.2L641.5 473.8L641.2 473.5L640.2 473.5L639.8 473.2L638.8 473.2L637.2 472.5L633.2 472.2L632.8 471.8L631.8 471.8L631.5 471.5L630.5 471.5L630.2 471.2L629.2 471.2L627.5 470.5L626.2 470.5L625.8 470.2L624.8 470.2L624.5 471.2L623.8 471.8L623.5 471.5L622.5 471.5L622.2 471.2L621.2 471.2L617.5 469.8L615.5 469.5L615.2 470.5L614.5 471.2L614.2 470.8L610.5 470.2L608.2 469.2L607.2 469.2L602.2 467.2L601.2 469.2L597.5 467.5L596.8 467.5L593.5 466.2L592.8 466.2L592.5 467.2L591.8 467.8L590.8 467.2L590.2 467.2L589.2 466.5L588.5 466.5L584.2 464.5L583.5 464.5L583.2 465.5L582.5 466.2L574.5 462.2L574.2 462.2L573.2 464.2L569.2 461.8L567.8 463.8L564.8 470.5L564.2 471.2L562.8 474.2L560.2 478.2L558.2 482.5L554.5 488.2L552.8 491.8L551.8 492.8L550.5 495.5L548.8 497.5L548.5 498.5L547.2 500.2L546.2 502.5L544.2 504.8L543.2 506.8L540.5 510.2L538.5 513.8L534.8 518.2L534.5 519.2L530.8 524.2L528.8 526.2L527.8 528.2L522.2 534.5L519.5 538.2L514.5 543.5L514.5 543.8L509.8 548.5L508.8 550.2L506.8 552.2L506.5 552.2L500.2 558.8L499.8 558.8L496.2 562.5L495.8 562.5L493.5 565.2L491.2 566.8L487.8 570.2L487.5 570.2L485.8 571.8L483.5 573.5L481.2 575.8L479.8 576.5L478.2 578.2L476.8 578.8L474.5 581.2L471.2 583.2L469.8 584.5L468.5 585.2L466.8 586.8L464.5 588.2L463.2 589.5L461.8 589.8L454.5 595.2L453.2 595.5L450.8 597.5L449.5 597.8L446.8 599.8L445.5 600.2L444.2 601.5L442.8 601.8L440.5 603.5L439.8 603.5L436.5 605.8L435.2 606.2L433.8 607.2L433.2 607.2L432.2 608.2L431.5 608.2L430.8 608.8L429.5 609.2L428.8 609.8L427.5 610.2L426.8 610.8L425.5 611.5L424.8 611.5L424.2 612.2L422.8 612.5L421.5 613.5L419.8 613.8L418.8 614.8L417.2 615.2L415.8 616.2L414.2 616.5L413.2 617.5L410.5 618.2L409.2 619.2L405.8 620.2L404.5 621.2L400.8 622.2L398.8 623.5L398.2 623.5L397.8 623.8L395.2 624.5L394.2 625.2L390.5 626.2L389.8 626.8L388.5 627.2L387.5 627.8L381.8 629.5L380.8 630.2L380.2 630.2L378.8 630.8L377.2 630.8L375.2 631.8L369.5 633.5L368.5 634.2L366.8 634.2L366.5 634.5L362.8 635.5L361.8 636.2L360.2 636.2L356.8 637.5L355.5 637.5L353.2 638.5L351.5 638.5L348.8 639.5L347.2 639.5L346.8 639.8L343.5 639.8L342.8 640.5L340.8 640.5L340.5 640.8L335.2 640.8L334.5 641.5L332.5 641.5L332.2 641.8L330.5 641.8L330.2 642.2L326.8 642.2L326.2 642.8L320.5 643.2L320.2 643.5L316.5 643.5L315.5 644.2L313.8 644.2L313.5 644.5L310.2 644.5L309.5 645.2L307.5 645.2L307.2 645.5L301.8 645.5L301.2 646.2L299.2 646.2L298.8 646.5L297.2 646.5L296.8 646.8L293.5 646.8L292.8 647.5L290.8 647.5L290.5 647.8L285.2 647.8L284.5 648.5L282.5 648.5L282.2 648.8L280.5 648.8L280.2 649.2L274.8 649.2L273.8 649.8L272.2 649.8L271.8 650.2L268.5 650.2L267.8 650.8L265.8 650.8L265.5 651.2L260.2 651.2L259.5 651.8L257.5 651.8L257.2 652.2L253.5 652.2L253.2 652.5L249.2 652.8L248.8 653.2L247.2 653.2L246.8 653.5L241.5 653.5L240.5 654.2L238.8 654.2L238.5 654.5L233.2 654.5L232.2 655.2L230.5 655.2L230.2 655.5L224.8 655.5L223.8 656.2L222.2 656.2L221.8 656.5L216.5 656.5L215.5 657.2L213.8 657.2L213.5 657.5L208.2 657.5L207.2 658.2L201.8 658.2L201.2 658.8L199.2 658.8L198.8 659.2L191.5 659.2L190.5 659.8L188.8 659.8L188.5 660.2L183.2 660.2L182.2 660.8L174.8 660.8L173.8 661.5L166.5 661.5L165.5 662.2L158.2 662.2L157.5 662.5L166.8 662.5L167.2 662.2L175.5 662.2L175.8 661.8L183.2 661.8L183.5 661.5L189.8 661.5L190.2 661.2L202.2 660.8L202.5 660.5L207.2 660.5L207.5 660.2L212.5 660.2L212.8 659.8L222.8 659.5L223.2 659.2L227.5 659.2L227.8 658.8L236.8 658.5L237.2 658.2L240.8 658.2L241.2 657.8L245.8 657.8L246.2 657.5L249.8 657.5L250.2 657.2L254.2 657.2L254.5 656.8L258.5 656.8L258.8 656.5L262.5 656.5L262.8 656.2L266.5 656.2L266.8 655.8L270.5 655.8L270.8 655.5L274.5 655.5L274.8 655.2L282.5 654.8L282.8 654.5L286.2 654.5L286.5 654.2L289.8 654.2L290.2 653.8L293.5 653.8L293.8 653.5L297.5 653.5L297.8 653.2L300.5 653.2L300.8 652.8L304.5 652.8L304.8 652.5L307.5 652.5L307.8 652.2L311.5 652.2L311.8 651.8L314.5 651.8L314.8 651.5L318.5 651.5L318.8 651.2L321.5 651.2L321.8 650.8L325.2 650.8L325.5 650.5L328.2 650.5L328.5 650.2L331.5 650.2L331.8 649.8L334.8 649.8L335.2 649.5L341.5 649.2L341.8 648.8L344.5 648.8L344.8 648.5L347.8 648.5L348.2 648.2L350.8 648.2L351.2 647.8L353.8 647.8L354.2 647.5L357.2 647.5L357.5 647.2L359.8 647.2L360.2 646.8L363.5 646.8L363.8 646.5L366.2 646.5L366.5 646.2L369.5 646.2L369.8 645.8L372.2 645.8L372.5 645.5L375.2 645.5L375.5 645.2L378.2 645.2L378.5 644.8L380.8 644.8L381.2 644.5L387.2 644.2L387.5 643.8L392.8 643.5L393.2 643.2L398.5 642.8L398.8 642.5L401.5 642.5L401.8 642.2L405.5 642.2L405.8 641.8L407.2 641.8L407.5 641.5L413.8 641.2L414.2 640.8L417.8 640.5L418.2 640.2L422.2 640.2L423.8 639.5L426.2 639.5L426.5 639.2L430.5 639.2L430.8 638.8L434.2 638.5L434.5 638.2L437.2 638.2L437.5 637.8L439.8 637.8L440.2 637.5L442.5 637.5L442.8 637.2L447.8 636.8L448.2 636.5L450.2 636.5L450.5 636.2L453.5 636.2L453.8 635.8L455.5 635.8L455.8 635.5L458.2 635.5L458.5 635.2L460.5 635.2L460.8 634.8L463.5 634.8L463.8 634.5L465.8 634.5L466.2 634.2L468.5 634.2L468.8 633.8L471.2 633.8L471.5 633.5L473.5 633.5L473.8 633.2L478.8 632.8L479.2 632.5L483.8 632.2L484.2 631.8L486.2 631.8L486.5 631.5L488.8 631.5L489.2 631.2L491.2 631.2L491.5 630.8L494.2 630.8L494.5 630.5L496.5 630.5L496.8 630.2L498.8 630.2L499.2 629.8L501.5 629.8L501.8 629.5L503.8 629.5L504.2 629.2L506.2 629.2L506.5 628.8L508.8 628.8L509.2 628.5L511.5 628.5L511.8 628.2L513.5 628.2L513.8 627.8L518.8 627.5L519.2 627.2L521.2 627.2L521.5 626.8L523.5 626.8L523.8 626.5L526.2 626.5L526.5 626.2L528.5 626.2L528.8 625.8L530.8 625.8L531.2 625.5L533.2 625.5L533.5 625.2L535.5 625.2L535.8 624.8L538.2 624.8L538.5 624.5L540.5 624.5L540.8 624.2L543.2 624.2L543.5 623.8L547.5 623.5L547.8 623.2L550.2 623.2L550.5 622.8L552.5 622.8L552.8 622.5L554.8 622.5L555.2 622.2L557.5 622.2L557.8 621.8L559.8 621.8L560.2 621.5L561.8 621.5L562.2 621.2L566.8 620.8L567.2 620.5L569.2 620.5L569.5 620.2L571.5 620.2L571.8 619.8L574.2 619.8L574.5 619.5L576.5 619.5L576.8 619.2L578.5 619.2L578.8 618.8L583.5 618.5L583.8 618.2L585.5 618.2L585.8 617.8L590.5 617.5L590.8 617.2L592.5 617.2L592.8 616.8L594.8 616.8L595.2 616.5L597.2 616.5L597.5 616.2L599.5 616.2L599.8 615.8L601.8 615.8L602.2 615.5L604.2 615.5L604.5 615.2L606.5 615.2L606.8 614.8L608.8 614.8L609.2 614.5L611.2 614.5L611.5 614.2L613.5 614.2L613.8 613.8L615.8 613.8L616.2 613.5L618.2 613.5L618.5 613.2L620.5 613.2L620.8 612.8L622.8 612.8L623.2 612.5L625.2 612.5L625.5 612.2L632.2 611.5L632.5 611.2L634.2 611.2L634.5 610.8L639.2 610.5L639.5 610.2L641.2 610.2L641.5 609.8L648.2 609.2L648.5 608.8L652.5 608.5L652.8 608.2L654.8 608.2L655.2 607.8L657.2 607.8L657.5 607.5L659.2 607.5L659.5 607.2L664.2 606.8L664.5 606.5L666.2 606.5L666.5 606.2L668.5 606.2L668.8 605.8L670.8 605.8L671.2 605.5L672.8 605.5L673.2 605.2L675.2 605.2L675.5 604.8L682.2 604.2L682.5 603.8L684.2 603.8L684.5 603.5L689.2 603.2L689.5 602.8L690.8 602.8L691.2 602.5L693.2 602.5L693.5 602.2L695.5 602.2L695.8 601.8L697.8 601.8L698.2 601.5L704.8 600.8L705.2 600.5L706.8 600.5L707.2 600.2L708.8 600.2L709.2 599.8L713.8 599.5L714.2 599.2L718.2 598.8L718.5 598.5L720.2 598.5L720.5 598.2L722.5 598.2L722.8 597.8L724.5 597.8L724.8 597.5L726.8 597.5L727.2 597.2L729.2 597.2L729.5 596.8L731.2 596.8L731.5 596.5L733.5 596.5L733.8 596.2L740.5 595.5L740.8 595.2L742.5 595.2L742.8 594.8L744.8 594.8L745.2 594.5L747.2 594.5L747.5 594.2L751.5 593.8L751.8 593.5L753.5 593.5L753.8 593.2L760.5 592.5L760.8 592.2L762.5 592.2L762.8 591.8L764.5 591.8L764.8 591.5L766.8 591.5L767.2 591.2L769.2 591.2L769.5 590.8L771.5 590.8L771.8 590.5L773.5 590.5L773.8 590.2L780.5 589.5L780.8 589.2L786.5 588.5L786.8 588.2L788.2 588.2L788.5 587.8L793.2 587.5L793.5 587.2L794.8 587.2L795.2 586.8L796.8 586.8L797.2 586.5L800.8 586.2L801.2 585.8L804.5 585.5L804.8 585.2L806.5 585.2L806.8 584.8L808.2 584.8L808.5 584.5L810.2 584.5L810.5 584.2L811.8 584.2L812.2 583.8L813.8 583.8L814.2 583.5L815.5 583.5L817.2 582.8L822.2 582.2L823.5 581.5L827.2 581.2L828.2 580.5L829.8 580.5L831.2 579.8L832.8 579.8L834.2 579.2L835.5 579.2L836.8 578.5L838.5 578.5L838.8 578.2L841.2 577.8L842.5 577.2L844.2 577.2L844.5 576.8L845.2 576.8L846.5 576.2L847.8 576.2L850.2 575.2L851.8 575.2L853.8 574.2L855.5 574.2L858.8 572.8L860.2 572.8L864.5 571.2L865.8 571.2L866.2 570.8L871.8 569.2L873.8 568.2L875.5 568.2L875.8 567.8L877.5 567.5L878.5 566.8L884.2 565.2L885.2 564.5L885.8 564.5L888.2 563.5L889.5 563.5L890.2 562.8L890.8 562.8L891.8 561.8L896.5 560.5L897.5 559.8L899.2 559.5L900.5 558.5L903.2 557.8L905.2 556.5L908.8 555.5L909.5 554.8L910.8 554.2L912.5 553.8L913.8 552.8L915.5 552.5L916.5 551.5L918.2 551.2L918.8 550.5L920.2 550.2L920.8 549.5L922.2 549.2L923.5 548.2L924.8 547.8L925.5 547.2L926.8 546.8L927.5 546.2L929.5 545.5L931.2 544.2L932.5 543.8L933.8 542.8L934.5 542.8L935.5 541.8L936.2 541.8L936.8 541.2L938.2 540.8L939.8 539.5L941.2 539.2L942.5 537.8L943.8 537.5L946.5 535.5L947.8 535.2L950.2 533.2L951.5 532.8L957.8 528.2L959.2 527.8L960.2 527.2L961.5 525.8L965.8 523.2L968.2 520.8L972.5 518.2L973.8 516.5L976.2 515.2L977.8 513.5L979.2 512.8L980.5 511.2L981.8 510.5L983.5 508.8L985.8 507.2L987.2 505.5L987.5 505.5L989.2 503.8L991.5 502.2L993.8 499.5L994.2 499.5L997.8 495.8L998.5 495.5L998.5 495.2L1010.8 482.5L1012.5 480.2L1015.5 477.2L1015.5 476.8L1017.5 474.8L1018.2 473.5L1023.8 467.2L1024.8 465.2L1026.8 463.2L1029.8 459.2L1030.5 457.8L1035.5 451.5L1037.5 447.8L1040.2 444.5L1041.2 442.5Z"/>
<path fill="url(#g8)" fill-rule="evenodd" d="M1009.2 484.2L1007.5 484.2L1007.2 484.5L1005.5 484.5L1005.2 484.8L1001.5 484.8L1001.2 485.2L997.2 485.5L995.8 486.8L994.2 486.8L993.8 487.2L992.2 487.2L991.8 487.5L989.8 487.5L989.5 487.8L987.8 487.8L987.5 488.2L983.8 488.2L983.5 488.5L981.5 488.5L981.2 488.8L979.5 488.8L979.2 489.2L975.5 489.2L975.2 489.5L973.2 489.5L972.8 489.8L971.2 489.8L970.8 490.2L969.2 490.2L968.8 490.5L967.2 490.5L966.8 490.8L962.8 490.8L962.5 491.2L960.8 491.2L960.5 491.5L958.8 491.5L958.5 491.8L956.5 491.8L956.2 492.2L954.5 492.2L954.2 492.5L950.5 492.5L950.2 492.8L948.2 492.8L947.8 493.2L946.2 493.2L945.8 493.5L942.2 493.5L941.8 493.8L939.8 493.8L939.5 494.2L937.8 494.2L937.5 494.5L933.8 494.5L933.5 494.8L931.5 494.8L931.2 495.2L929.5 495.2L929.2 495.5L927.5 495.5L927.2 495.8L925.5 495.8L925.2 496.2L921.2 496.2L920.8 496.5L919.2 496.5L918.8 496.8L917.2 496.8L916.8 497.2L914.8 497.2L914.5 497.5L912.8 497.5L912.5 497.8L908.8 497.8L908.5 498.2L906.5 498.2L906.2 498.5L904.5 498.5L904.2 498.8L900.5 498.8L900.2 499.2L898.2 499.2L897.8 499.5L896.2 499.5L895.8 499.8L892.2 499.8L891.8 500.2L889.8 500.2L889.5 500.5L887.8 500.5L887.5 500.8L883.8 500.8L883.5 501.2L881.5 501.2L881.2 501.5L879.5 501.5L879.2 501.8L875.2 501.8L874.8 502.2L871.2 502.5L870.2 503.5L866.2 503.5L865.8 503.8L864.2 503.8L863.8 504.2L862.2 504.2L861.8 504.5L857.8 504.5L857.5 504.8L855.8 504.8L855.5 505.2L853.8 505.2L853.5 505.5L845.5 505.8L845.2 506.2L843.2 506.2L842.8 506.5L841.2 506.5L840.8 506.8L837.2 506.8L836.8 507.2L828.8 507.5L828.5 507.8L826.5 507.8L826.2 508.2L824.5 508.2L824.2 508.5L820.5 508.5L820.2 508.8L812.2 509.2L811.8 509.5L807.8 509.8L806.5 511.2L802.8 511.2L802.5 511.5L798.5 511.5L798.2 511.8L794.5 511.8L794.2 512.2L786.2 512.5L785.8 512.8L783.8 512.8L783.5 513.2L781.8 513.2L781.5 513.5L773.5 513.8L773.2 514.2L765.2 514.5L764.8 514.8L756.8 514.8L755.5 516.5L751.8 516.5L751.5 516.8L743.5 516.8L743.2 517.2L739.2 517.2L738.8 517.5L735.2 517.5L734.8 517.8L726.8 517.8L726.5 518.2L718.2 518.5L717.2 519.8L709.2 519.8L708.8 520.2L700.8 520.2L700.5 520.5L688.5 520.5L687.2 521.8L670.8 521.8L670.5 522.2L670.2 521.8L662.2 521.8L661.2 523.2L640.2 522.5L639.2 523.8L638.8 523.5L635.2 523.5L634.8 523.2L626.8 523.2L626.5 522.8L622.5 522.8L621.8 523.8L621.5 523.5L617.5 523.5L617.2 523.2L613.5 523.2L613.2 522.8L609.2 522.8L608.2 524.2L607.8 523.8L606.2 523.8L605.8 523.5L604.2 523.5L603.8 523.2L599.8 523.2L599.5 522.8L597.8 522.8L597.5 522.5L595.8 522.5L594.8 523.8L594.5 523.5L590.5 523.2L590.2 522.8L588.5 522.8L588.2 522.5L586.5 522.5L586.2 522.2L584.5 522.2L584.2 521.8L582.2 521.8L581.5 523.2L579.8 522.5L578.5 522.5L578.2 522.2L575.2 521.8L574.8 521.5L573.2 521.5L572.8 521.2L570.2 520.8L569.8 520.5L568.8 520.5L567.8 521.8L567.5 521.5L566.5 521.5L566.2 521.2L565.2 521.2L564.8 520.8L563.8 520.8L562.2 520.2L560.8 520.2L560.5 519.8L559.5 519.8L558.5 521.2L558.2 520.8L554.5 520.2L550.8 518.8L550.2 518.8L549.5 520.2L549.2 519.8L548.5 519.8L547.2 519.2L546.2 519.2L541.8 517.5L541.2 517.5L540.2 518.8L537.8 517.8L535.5 517.5L530.8 524.2L528.8 526.2L527.8 528.2L522.2 534.5L519.5 538.2L514.5 543.5L514.5 543.8L509.8 548.5L508.8 550.2L506.8 552.2L506.5 552.2L500.2 558.8L499.8 558.8L496.2 562.5L495.8 562.5L493.5 565.2L491.2 566.8L487.8 570.2L487.5 570.2L485.8 571.8L483.5 573.5L481.2 575.8L479.8 576.5L478.2 578.2L476.8 578.8L474.5 581.2L471.2 583.2L469.8 584.5L468.5 585.2L466.8 586.8L464.5 588.2L463.2 589.5L461.8 589.8L454.5 595.2L453.2 595.5L450.8 597.5L449.5 597.8L446.8 599.8L445.5 600.2L444.2 601.5L442.8 601.8L440.5 603.5L439.8 603.5L436.5 605.8L435.2 606.2L433.8 607.2L433.2 607.2L432.2 608.2L431.5 608.2L430.8 608.8L429.5 609.2L428.8 609.8L427.5 610.2L426.8 610.8L425.5 611.5L424.8 611.5L424.2 612.2L422.8 612.5L421.5 613.5L419.8 613.8L418.8 614.8L417.2 615.2L415.8 616.2L414.2 616.5L413.2 617.5L410.5 618.2L409.8 618.8L407.5 619.5L406.5 620.2L405.8 620.2L404.5 621.2L400.8 622.2L398.8 623.5L398.2 623.5L397.8 623.8L395.2 624.5L394.2 625.2L390.5 626.2L389.8 626.8L388.5 627.2L387.5 627.8L381.8 629.5L380.8 630.2L380.2 630.2L378.8 630.8L377.2 630.8L375.2 631.8L369.5 633.5L368.5 634.2L366.8 634.2L366.5 634.5L362.8 635.5L361.8 636.2L360.2 636.2L359.8 636.5L359.2 636.5L356.8 637.5L355.5 637.5L353.2 638.5L351.5 638.5L350.2 639.2L347.2 639.5L346.8 639.8L343.5 639.8L342.8 640.5L340.8 640.5L340.5 640.8L335.2 640.8L334.5 641.5L332.5 641.5L332.2 641.8L330.5 641.8L330.2 642.2L326.8 642.2L326.2 642.8L320.5 643.2L320.2 643.5L316.5 643.5L315.5 644.2L313.8 644.2L313.5 644.5L310.2 644.5L309.5 645.2L307.5 645.2L307.2 645.5L301.8 645.5L301.2 646.2L299.2 646.2L298.8 646.5L297.2 646.5L296.8 646.8L293.5 646.8L292.8 647.5L290.8 647.5L290.5 647.8L285.2 647.8L284.5 648.5L282.5 648.5L282.2 648.8L280.5 648.8L280.2 649.2L274.8 649.2L273.8 649.8L272.2 649.8L271.8 650.2L268.5 650.2L267.8 650.8L265.8 650.8L265.5 651.2L260.2 651.2L259.5 651.8L257.5 651.8L257.2 652.2L253.5 652.2L253.2 652.5L249.2 652.8L248.8 653.2L247.2 653.2L246.8 653.5L241.5 653.5L240.5 654.2L238.8 654.2L238.5 654.5L233.2 654.5L232.2 655.2L230.5 655.2L230.2 655.5L224.8 655.5L223.8 656.2L222.2 656.2L221.8 656.5L216.5 656.5L215.5 657.2L213.8 657.2L213.5 657.5L208.2 657.5L207.2 658.2L201.8 658.2L201.2 658.8L199.2 658.8L198.8 659.2L191.5 659.2L190.5 659.8L188.8 659.8L188.5 660.2L183.2 660.2L182.2 660.8L174.8 660.8L173.8 661.5L166.5 661.5L165.5 662.2L158.2 662.2L157.5 662.5L166.8 662.5L167.2 662.2L175.5 662.2L175.8 661.8L183.2 661.8L183.5 661.5L189.8 661.5L190.2 661.2L202.2 660.8L202.5 660.5L207.2 660.5L207.5 660.2L212.5 660.2L212.8 659.8L222.8 659.5L223.2 659.2L227.5 659.2L227.8 658.8L236.8 658.5L237.2 658.2L240.8 658.2L241.2 657.8L245.8 657.8L246.2 657.5L249.8 657.5L250.2 657.2L254.2 657.2L254.5 656.8L258.5 656.8L258.8 656.5L262.5 656.5L262.8 656.2L266.5 656.2L266.8 655.8L270.5 655.8L270.8 655.5L274.5 655.5L274.8 655.2L282.5 654.8L282.8 654.5L286.2 654.5L286.5 654.2L289.8 654.2L290.2 653.8L293.5 653.8L293.8 653.5L297.5 653.5L297.8 653.2L300.5 653.2L300.8 652.8L304.5 652.8L304.8 652.5L307.5 652.5L307.8 652.2L311.5 652.2L311.8 651.8L314.5 651.8L314.8 651.5L318.5 651.5L318.8 651.2L321.5 651.2L321.8 650.8L325.2 650.8L325.5 650.5L328.2 650.5L328.5 650.2L331.5 650.2L331.8 649.8L334.8 649.8L335.2 649.5L341.5 649.2L341.8 648.8L344.5 648.8L344.8 648.5L347.8 648.5L348.2 648.2L350.8 648.2L351.2 647.8L353.8 647.8L354.2 647.5L357.2 647.5L357.5 647.2L359.8 647.2L360.2 646.8L363.5 646.8L363.8 646.5L366.2 646.5L366.5 646.2L369.5 646.2L369.8 645.8L372.2 645.8L372.5 645.5L375.2 645.5L375.5 645.2L378.2 645.2L378.5 644.8L380.8 644.8L381.2 644.5L387.2 644.2L387.5 643.8L392.8 643.5L393.2 643.2L398.5 642.8L398.8 642.5L401.5 642.5L401.8 642.2L405.5 642.2L405.8 641.8L407.2 641.8L407.5 641.5L413.8 641.2L414.2 640.8L417.8 640.5L418.2 640.2L422.2 640.2L423.8 639.5L426.2 639.5L426.5 639.2L430.5 639.2L430.8 638.8L434.2 638.5L434.5 638.2L437.2 638.2L437.5 637.8L439.8 637.8L440.2 637.5L442.5 637.5L442.8 637.2L447.8 636.8L448.2 636.5L450.2 636.5L450.5 636.2L453.5 636.2L453.8 635.8L455.5 635.8L455.8 635.5L458.2 635.5L458.5 635.2L460.5 635.2L460.8 634.8L463.5 634.8L463.8 634.5L465.8 634.5L466.2 634.2L471.2 633.8L471.5 633.5L473.5 633.5L473.8 633.2L478.8 632.8L479.2 632.5L483.8 632.2L484.2 631.8L486.2 631.8L486.5 631.5L488.8 631.5L489.2 631.2L491.2 631.2L491.5 630.8L494.2 630.8L494.5 630.5L496.5 630.5L496.8 630.2L498.8 630.2L499.2 629.8L501.5 629.8L501.8 629.5L503.8 629.5L504.2 629.2L506.2 629.2L506.5 628.8L511.5 628.5L511.8 628.2L513.5 628.2L513.8 627.8L516.2 627.8L516.5 627.5L518.8 627.5L519.2 627.2L521.2 627.2L521.5 626.8L523.5 626.8L523.8 626.5L526.2 626.5L526.5 626.2L528.5 626.2L528.8 625.8L530.8 625.8L531.2 625.5L533.2 625.5L533.5 625.2L535.5 625.2L535.8 624.8L538.2 624.8L538.5 624.5L540.5 624.5L540.8 624.2L543.2 624.2L543.5 623.8L547.5 623.5L547.8 623.2L550.2 623.2L550.5 622.8L552.5 622.8L552.8 622.5L554.8 622.5L555.2 622.2L557.5 622.2L557.8 621.8L559.8 621.8L560.2 621.5L561.8 621.5L562.2 621.2L566.8 620.8L567.2 620.5L569.2 620.5L569.5 620.2L571.5 620.2L571.8 619.8L574.2 619.8L574.5 619.5L576.5 619.5L576.8 619.2L578.5 619.2L578.8 618.8L583.5 618.5L583.8 618.2L585.5 618.2L585.8 617.8L590.5 617.5L590.8 617.2L592.5 617.2L592.8 616.8L594.8 616.8L595.2 616.5L597.2 616.5L597.5 616.2L599.5 616.2L599.8 615.8L601.8 615.8L602.2 615.5L604.2 615.5L604.5 615.2L606.5 615.2L606.8 614.8L608.8 614.8L609.2 614.5L611.2 614.5L611.5 614.2L613.5 614.2L613.8 613.8L615.8 613.8L616.2 613.5L618.2 613.5L618.5 613.2L620.5 613.2L620.8 612.8L622.8 612.8L623.2 612.5L625.2 612.5L625.5 612.2L632.2 611.5L632.5 611.2L634.2 611.2L634.5 610.8L639.2 610.5L639.5 610.2L641.2 610.2L641.5 609.8L648.2 609.2L648.5 608.8L650.2 608.8L650.5 608.5L652.5 608.5L652.8 608.2L657.2 607.8L657.5 607.5L659.2 607.5L659.5 607.2L664.2 606.8L664.5 606.5L668.5 606.2L668.8 605.8L670.8 605.8L671.2 605.5L672.8 605.5L673.2 605.2L675.2 605.2L675.5 604.8L682.2 604.2L682.5 603.8L684.2 603.8L684.5 603.5L689.2 603.2L689.5 602.8L690.8 602.8L691.2 602.5L693.2 602.5L693.5 602.2L695.5 602.2L695.8 601.8L697.8 601.8L698.2 601.5L704.8 600.8L705.2 600.5L706.8 600.5L707.2 600.2L708.8 600.2L709.2 599.8L711.2 599.8L711.5 599.5L713.8 599.5L714.2 599.2L718.2 598.8L718.5 598.5L720.2 598.5L720.5 598.2L722.5 598.2L722.8 597.8L724.5 597.8L724.8 597.5L729.2 597.2L729.5 596.8L731.2 596.8L731.5 596.5L733.5 596.5L733.8 596.2L740.5 595.5L740.8 595.2L742.5 595.2L742.8 594.8L747.2 594.5L747.5 594.2L751.5 593.8L751.8 593.5L753.5 593.5L753.8 593.2L760.5 592.5L760.8 592.2L762.5 592.2L762.8 591.8L764.5 591.8L764.8 591.5L766.8 591.5L767.2 591.2L771.5 590.8L771.8 590.5L773.5 590.5L773.8 590.2L780.5 589.5L780.8 589.2L782.2 589.2L782.5 588.8L784.5 588.8L784.8 588.5L786.5 588.5L786.8 588.2L788.2 588.2L788.5 587.8L791.2 587.8L791.5 587.5L793.2 587.5L793.5 587.2L794.8 587.2L795.2 586.8L796.8 586.8L797.2 586.5L800.8 586.2L801.2 585.8L804.5 585.5L804.8 585.2L806.5 585.2L806.8 584.8L808.2 584.8L808.5 584.5L810.2 584.5L810.5 584.2L811.8 584.2L812.2 583.8L813.8 583.8L814.2 583.5L815.5 583.5L817.2 582.8L822.2 582.2L823.5 581.5L827.2 581.2L828.2 580.5L829.8 580.5L831.2 579.8L832.8 579.8L833.2 579.5L835.5 579.2L836.8 578.5L838.5 578.5L838.8 578.2L841.2 577.8L842.5 577.2L844.2 577.2L844.5 576.8L845.2 576.8L846.5 576.2L847.8 576.2L850.2 575.2L851.8 575.2L853.8 574.2L855.5 574.2L855.8 573.8L856.5 573.8L858.8 572.8L860.2 572.8L864.5 571.2L865.8 571.2L866.2 570.8L871.8 569.2L873.8 568.2L875.5 568.2L875.8 567.8L877.5 567.5L878.5 566.8L884.2 565.2L885.2 564.5L885.8 564.5L888.2 563.5L889.5 563.5L890.2 562.8L890.8 562.8L891.8 561.8L896.5 560.5L897.5 559.8L899.2 559.5L900.5 558.5L903.2 557.8L905.2 556.5L908.8 555.5L910.8 554.2L912.5 553.8L913.8 552.8L915.5 552.5L916.5 551.5L918.2 551.2L918.8 550.5L920.2 550.2L920.8 549.5L922.2 549.2L923.5 548.2L924.8 547.8L925.5 547.2L926.8 546.8L927.5 546.2L929.5 545.5L931.2 544.2L932.5 543.8L933.2 543.2L934.5 542.8L935.5 541.8L936.2 541.8L936.8 541.2L938.2 540.8L939.8 539.5L941.2 539.2L942.5 537.8L943.8 537.5L946.5 535.5L947.8 535.2L949.2 533.8L950.8 532.8L951.5 532.8L957.8 528.2L959.2 527.8L960.2 527.2L961.5 525.8L965.8 523.2L968.2 520.8L972.5 518.2L973.8 516.5L976.2 515.2L977.8 513.5L979.2 512.8L980.5 511.2L981.8 510.5L983.5 508.8L985.8 507.2L987.2 505.5L987.5 505.5L989.2 503.8L991.5 502.2L993.8 499.5L994.2 499.5L997.8 495.8L998.5 495.5L998.5 495.2Z"/>
<path fill="url(#g9)" fill-rule="evenodd" d="M962.2 525.5L956.8 525.8L956.5 526.2L955.2 526.2L954.8 526.5L952.8 526.5L952.5 526.8L950.8 526.8L950.5 527.2L948.5 527.2L948.2 527.5L946.8 527.5L946.5 527.8L942.5 527.8L942.2 528.2L940.2 528.2L939.8 528.5L938.5 528.5L938.2 528.8L936.2 528.8L935.8 529.2L934.2 529.2L933.8 529.5L931.8 529.5L931.5 529.8L930.2 529.8L929.8 530.2L925.8 530.2L925.5 530.5L923.5 530.5L923.2 530.8L921.8 530.8L921.5 531.2L919.5 531.2L919.2 531.5L915.2 531.8L914.8 532.2L913.2 532.2L912.8 532.5L909.2 532.5L908.8 532.8L906.8 532.8L906.5 533.2L905.2 533.2L903.8 534.2L900.5 534.2L900.2 534.5L897.8 534.5L897.5 534.8L895.8 534.8L895.5 535.2L893.5 535.2L893.2 535.5L891.8 535.5L891.5 535.8L887.8 535.8L887.5 536.2L885.2 536.2L884.8 536.5L881.2 536.8L880.8 537.2L879.2 537.2L878.8 537.5L875.5 537.5L875.2 537.8L872.8 537.8L872.5 538.2L870.8 538.2L870.5 538.5L868.5 538.5L868.2 538.8L866.8 538.8L866.5 539.2L862.8 539.2L862.5 539.5L860.2 539.5L859.8 539.8L856.2 540.2L855.8 540.5L854.2 540.5L853.8 540.8L850.5 540.8L849.5 541.5L845.8 541.5L845.5 541.8L843.5 541.8L842.8 542.5L839.2 542.5L838.8 542.8L837.2 542.8L836.8 543.2L835.2 543.2L834.8 543.5L830.8 543.5L830.5 543.8L828.8 543.8L828.5 544.2L826.8 544.2L826.5 544.5L822.5 544.5L822.2 544.8L820.5 544.8L820.2 545.2L818.5 545.2L818.2 545.5L814.5 545.5L814.2 545.8L810.2 546.2L809.8 546.5L808.2 546.5L807.8 546.8L804.2 546.8L803.8 547.2L799.8 547.5L798.5 548.5L794.8 548.5L794.5 548.8L792.5 548.8L792.2 549.2L790.8 549.2L790.5 549.5L786.5 549.5L786.2 549.8L784.2 549.8L783.8 550.2L782.5 550.2L782.2 550.5L778.2 550.5L777.8 550.8L775.8 550.8L775.5 551.2L774.2 551.2L773.8 551.5L765.8 551.8L765.5 552.2L763.2 552.2L762.8 552.5L761.5 552.5L761.2 552.8L754.8 553.2L754.5 553.5L753.2 553.5L752.8 553.8L744.8 554.2L744.5 554.5L740.8 554.8L740.5 555.2L739.8 555.2L739.2 555.8L735.5 555.8L735.2 556.2L733.2 556.2L732.8 556.5L731.2 556.5L730.8 556.8L727.2 556.8L726.8 557.2L723.2 557.2L722.8 557.5L718.8 557.5L718.5 557.8L716.5 557.8L716.2 558.2L714.8 558.2L714.5 558.5L710.5 558.5L710.2 558.8L706.5 558.8L706.2 559.2L698.2 559.5L697.8 559.8L693.8 560.2L692.5 561.2L688.8 561.2L688.5 561.5L684.8 561.5L684.5 561.8L680.5 561.8L680.2 562.2L676.5 562.2L676.2 562.5L672.2 562.5L671.8 562.8L668.2 562.8L667.8 563.2L659.8 563.5L659.5 563.8L658.8 563.8L658.2 564.5L654.5 564.5L654.2 564.8L650.5 564.8L650.2 565.2L645.8 565.2L645.5 565.5L637.8 565.5L637.5 565.8L633.8 565.8L633.5 566.2L632.8 566.2L632.2 566.8L628.5 566.8L628.2 567.2L611.8 567.5L610.5 568.5L602.8 568.5L602.5 568.8L589.5 568.8L588.5 569.8L571.5 569.8L570.8 570.5L562.5 570.5L562.2 570.2L558.5 570.2L557.5 571.2L557.2 570.8L553.5 570.8L553.2 570.5L544.8 570.5L544.2 571.2L543.8 570.8L539.8 570.8L539.5 570.5L535.8 570.5L535.5 570.2L531.5 570.2L530.5 571.2L530.2 570.8L526.5 570.8L526.2 570.5L524.5 570.5L524.2 570.2L522.2 570.2L521.5 571.2L521.2 570.8L517.2 570.5L516.8 570.2L512.8 570.2L512.2 570.8L511.8 570.5L507.8 570.2L507.5 569.8L505.8 569.8L505.5 569.5L503.8 569.5L502.8 570.5L502.5 570.2L500.8 570.2L500.5 569.8L498.5 569.8L498.2 569.5L497.2 569.5L495.5 568.8L494.5 568.8L493.5 569.8L493.2 569.5L492.2 569.5L490.5 568.8L489.2 568.8L483.8 573.5L483.5 573.5L481.2 575.8L479.8 576.5L478.2 578.2L476.8 578.8L474.5 581.2L471.2 583.2L469.8 584.5L468.5 585.2L466.8 586.8L464.5 588.2L463.2 589.5L461.8 589.8L454.5 595.2L453.2 595.5L452.2 596.2L450.8 597.5L449.5 597.8L446.8 599.8L445.5 600.2L444.2 601.5L442.8 601.8L440.5 603.5L439.8 603.5L436.5 605.8L435.2 606.2L433.8 607.2L433.2 607.2L432.2 608.2L431.5 608.2L430.8 608.8L429.5 609.2L428.8 609.8L427.5 610.2L426.8 610.8L425.5 611.5L424.8 611.5L424.2 612.2L422.8 612.5L421.5 613.5L419.8 613.8L418.8 614.8L417.2 615.2L415.8 616.2L414.2 616.5L413.2 617.5L410.5 618.2L409.8 618.8L407.5 619.5L406.5 620.2L405.8 620.2L404.5 621.2L400.8 622.2L398.8 623.5L398.2 623.5L397.8 623.8L395.2 624.5L394.2 625.2L390.5 626.2L389.2 627.2L388.5 627.2L387.5 627.8L381.8 629.5L380.8 630.2L380.2 630.2L378.8 630.8L377.2 630.8L375.2 631.8L369.5 633.5L368.5 634.2L366.8 634.2L366.5 634.5L362.8 635.5L361.8 636.2L360.2 636.2L356.8 637.5L355.5 637.5L353.2 638.5L351.5 638.5L348.8 639.5L347.2 639.5L346.8 639.8L343.5 639.8L342.8 640.5L340.8 640.5L340.5 640.8L335.2 640.8L334.5 641.5L332.5 641.5L332.2 641.8L330.5 641.8L330.2 642.2L326.8 642.2L326.2 642.8L320.5 643.2L320.2 643.5L316.5 643.5L315.5 644.2L313.8 644.2L313.5 644.5L310.2 644.5L309.5 645.2L307.5 645.2L307.2 645.5L301.8 645.5L301.2 646.2L299.2 646.2L298.8 646.5L297.2 646.5L296.8 646.8L293.5 646.8L292.8 647.5L290.8 647.5L290.5 647.8L285.2 647.8L284.5 648.5L282.5 648.5L282.2 648.8L280.5 648.8L280.2 649.2L274.8 649.2L273.8 649.8L272.2 649.8L271.8 650.2L268.5 650.2L267.8 650.8L265.8 650.8L265.5 651.2L260.2 651.2L259.5 651.8L257.5 651.8L257.2 652.2L253.5 652.2L253.2 652.5L249.2 652.8L248.8 653.2L247.2 653.2L246.8 653.5L241.5 653.5L240.5 654.2L238.8 654.2L238.5 654.5L233.2 654.5L232.2 655.2L230.5 655.2L230.2 655.5L224.8 655.5L223.8 656.2L222.2 656.2L221.8 656.5L216.5 656.5L215.5 657.2L213.8 657.2L213.5 657.5L208.2 657.5L207.2 658.2L201.8 658.2L201.2 658.8L199.2 658.8L198.8 659.2L191.5 659.2L190.5 659.8L188.8 659.8L188.5 660.2L183.2 660.2L182.2 660.8L174.8 660.8L173.8 661.5L166.5 661.5L165.5 662.2L158.2 662.2L157.5 662.5L166.8 662.5L167.2 662.2L175.5 662.2L175.8 661.8L183.2 661.8L183.5 661.5L196.5 661.2L196.8 660.8L202.2 660.8L202.5 660.5L207.2 660.5L207.5 660.2L217.8 659.8L218.2 659.5L222.8 659.5L223.2 659.2L227.5 659.2L227.8 658.8L232.2 658.8L232.5 658.5L236.8 658.5L237.2 658.2L240.8 658.2L241.2 657.8L245.8 657.8L246.2 657.5L249.8 657.5L250.2 657.2L258.5 656.8L258.8 656.5L262.5 656.5L262.8 656.2L266.5 656.2L266.8 655.8L270.5 655.8L270.8 655.5L274.5 655.5L274.8 655.2L282.5 654.8L282.8 654.5L286.2 654.5L286.5 654.2L289.8 654.2L290.2 653.8L293.5 653.8L293.8 653.5L297.5 653.5L297.8 653.2L304.5 652.8L304.8 652.5L307.5 652.5L307.8 652.2L311.5 652.2L311.8 651.8L314.5 651.8L314.8 651.5L318.5 651.5L318.8 651.2L321.5 651.2L321.8 650.8L325.2 650.8L325.5 650.5L328.2 650.5L328.5 650.2L331.5 650.2L331.8 649.8L334.8 649.8L335.2 649.5L341.5 649.2L341.8 648.8L347.8 648.5L348.2 648.2L350.8 648.2L351.2 647.8L353.8 647.8L354.2 647.5L357.2 647.5L357.5 647.2L359.8 647.2L360.2 646.8L363.5 646.8L363.8 646.5L366.2 646.5L366.5 646.2L369.5 646.2L369.8 645.8L372.2 645.8L372.5 645.5L375.2 645.5L375.5 645.2L378.2 645.2L378.5 644.8L380.8 644.8L381.2 644.5L387.2 644.2L387.5 643.8L392.8 643.5L393.2 643.2L398.5 642.8L398.8 642.5L401.5 642.5L401.8 642.2L405.5 642.2L405.8 641.8L407.2 641.8L407.5 641.5L413.8 641.2L414.2 640.8L417.8 640.5L418.2 640.2L422.2 640.2L423.8 639.5L426.2 639.5L426.5 639.2L430.5 639.2L430.8 638.8L434.2 638.5L434.5 638.2L437.2 638.2L437.5 637.8L439.8 637.8L440.2 637.5L442.5 637.5L442.8 637.2L447.8 636.8L448.2 636.5L450.2 636.5L450.5 636.2L453.5 636.2L453.8 635.8L458.2 635.5L458.5 635.2L460.5 635.2L460.8 634.8L463.5 634.8L463.8 634.5L468.5 634.2L468.8 633.8L471.2 633.8L471.5 633.5L476.2 633.2L476.5 632.8L478.8 632.8L479.2 632.5L483.8 632.2L484.2 631.8L486.2 631.8L486.5 631.5L488.8 631.5L489.2 631.2L491.2 631.2L491.5 630.8L494.2 630.8L494.5 630.5L496.5 630.5L496.8 630.2L498.8 630.2L499.2 629.8L501.5 629.8L501.8 629.5L503.8 629.5L504.2 629.2L506.2 629.2L506.5 628.8L508.8 628.8L509.2 628.5L511.5 628.5L511.8 628.2L513.5 628.2L513.8 627.8L518.8 627.5L519.2 627.2L521.2 627.2L521.5 626.8L523.5 626.8L523.8 626.5L526.2 626.5L526.5 626.2L528.5 626.2L528.8 625.8L530.8 625.8L531.2 625.5L533.2 625.5L533.5 625.2L535.5 625.2L535.8 624.8L538.2 624.8L538.5 624.5L540.5 624.5L540.8 624.2L543.2 624.2L543.5 623.8L547.5 623.5L547.8 623.2L550.2 623.2L550.5 622.8L552.5 622.8L552.8 622.5L554.8 622.5L555.2 622.2L557.5 622.2L557.8 621.8L559.8 621.8L560.2 621.5L564.2 621.2L564.5 620.8L566.8 620.8L567.2 620.5L569.2 620.5L569.5 620.2L571.5 620.2L571.8 619.8L574.2 619.8L574.5 619.5L576.5 619.5L576.8 619.2L578.5 619.2L578.8 618.8L583.5 618.5L583.8 618.2L585.5 618.2L585.8 617.8L590.5 617.5L590.8 617.2L592.5 617.2L592.8 616.8L594.8 616.8L595.2 616.5L597.2 616.5L597.5 616.2L599.5 616.2L599.8 615.8L601.8 615.8L602.2 615.5L604.2 615.5L604.5 615.2L606.5 615.2L606.8 614.8L608.8 614.8L609.2 614.5L611.2 614.5L611.5 614.2L613.5 614.2L613.8 613.8L615.8 613.8L616.2 613.5L618.2 613.5L618.5 613.2L620.5 613.2L620.8 612.8L622.8 612.8L623.2 612.5L625.2 612.5L625.5 612.2L632.2 611.5L632.5 611.2L634.2 611.2L634.5 610.8L636.5 610.8L636.8 610.5L639.2 610.5L639.5 610.2L641.2 610.2L641.5 609.8L648.2 609.2L648.5 608.8L650.2 608.8L650.5 608.5L657.2 607.8L657.5 607.5L659.2 607.5L659.5 607.2L664.2 606.8L664.5 606.5L666.2 606.5L666.5 606.2L668.5 606.2L668.8 605.8L670.8 605.8L671.2 605.5L672.8 605.5L673.2 605.2L675.2 605.2L675.5 604.8L682.2 604.2L682.5 603.8L684.2 603.8L684.5 603.5L689.2 603.2L689.5 602.8L690.8 602.8L691.2 602.5L693.2 602.5L693.5 602.2L695.5 602.2L695.8 601.8L697.8 601.8L698.2 601.5L704.8 600.8L705.2 600.5L706.8 600.5L707.2 600.2L708.8 600.2L709.2 599.8L713.8 599.5L714.2 599.2L718.2 598.8L718.5 598.5L720.2 598.5L720.5 598.2L722.5 598.2L722.8 597.8L724.5 597.8L724.8 597.5L726.8 597.5L727.2 597.2L729.2 597.2L729.5 596.8L731.2 596.8L731.5 596.5L733.5 596.5L733.8 596.2L740.5 595.5L740.8 595.2L742.5 595.2L742.8 594.8L744.8 594.8L745.2 594.5L747.2 594.5L747.5 594.2L751.5 593.8L751.8 593.5L753.5 593.5L753.8 593.2L760.5 592.5L760.8 592.2L762.5 592.2L762.8 591.8L764.5 591.8L764.8 591.5L766.8 591.5L767.2 591.2L769.2 591.2L769.5 590.8L771.5 590.8L771.8 590.5L773.5 590.5L773.8 590.2L780.5 589.5L780.8 589.2L786.5 588.5L786.8 588.2L788.2 588.2L788.5 587.8L793.2 587.5L793.5 587.2L794.8 587.2L795.2 586.8L796.8 586.8L797.2 586.5L800.8 586.2L801.2 585.8L804.5 585.5L804.8 585.2L806.5 585.2L806.8 584.8L808.2 584.8L808.5 584.5L810.2 584.5L810.5 584.2L811.8 584.2L812.2 583.8L813.8 583.8L814.2 583.5L815.5 583.5L817.2 582.8L822.2 582.2L823.5 581.5L827.2 581.2L828.2 580.5L829.8 580.5L831.2 579.8L832.8 579.8L834.2 579.2L835.5 579.2L836.8 578.5L838.5 578.5L838.8 578.2L841.2 577.8L842.5 577.2L844.2 577.2L844.5 576.8L845.2 576.8L846.5 576.2L847.8 576.2L850.2 575.2L851.8 575.2L853.8 574.2L855.5 574.2L858.8 572.8L860.2 572.8L864.5 571.2L865.8 571.2L866.2 570.8L871.8 569.2L873.8 568.2L875.5 568.2L875.8 567.8L877.5 567.5L878.5 566.8L884.2 565.2L885.2 564.5L885.8 564.5L888.2 563.5L889.5 563.5L890.2 562.8L890.8 562.8L891.8 561.8L896.5 560.5L897.5 559.8L899.2 559.5L900.5 558.5L903.2 557.8L905.2 556.5L908.8 555.5L910.8 554.2L912.5 553.8L913.8 552.8L915.5 552.5L916.5 551.5L918.2 551.2L918.8 550.5L920.2 550.2L920.8 549.5L922.2 549.2L923.5 548.2L924.8 547.8L925.5 547.2L926.8 546.8L927.5 546.2L929.5 545.5L931.2 544.2L932.5 543.8L933.2 543.2L934.5 542.8L935.5 541.8L936.2 541.8L936.8 541.2L938.2 540.8L939.8 539.5L941.2 539.2L942.5 537.8L943.8 537.5L946.5 535.5L947.8 535.2L949.2 533.8L950.8 532.8L951.5 532.8L953.5 531.5L954.8 530.2L957.8 528.2L959.2 527.8Z"/>
<path fill="url(#g10)" fill-rule="evenodd" d="M889.8 563.2L884.8 563.5L884.5 563.8L883.2 563.8L882.8 564.2L880.5 564.2L878.8 564.8L876.5 564.8L876.2 565.2L874.8 565.2L874.5 565.5L872.2 565.5L870.5 566.2L868.2 566.2L867.8 566.5L866.2 566.5L865.8 566.8L859.8 567.2L859.5 567.5L858.2 567.5L857.8 567.8L855.5 567.8L853.8 568.5L851.5 568.5L851.2 568.8L849.8 568.8L849.5 569.2L847.2 569.2L845.5 569.8L838.8 570.2L838.5 570.5L835.8 570.8L835.5 571.2L833.8 571.2L832.2 571.8L829.5 571.8L827.8 572.5L825.5 572.5L823.8 573.2L817.2 573.5L815.5 574.2L812.8 574.2L811.2 574.8L808.8 574.8L807.2 575.5L804.5 575.5L802.8 576.2L796.2 576.5L794.5 577.2L792.2 577.2L790.5 577.8L787.8 577.8L785.2 578.8L779.5 578.8L779.2 579.5L775.5 579.5L774.8 580.2L771.2 580.2L770.8 580.8L768.8 580.8L768.5 581.2L762.8 581.2L762.5 581.8L758.8 581.8L758.2 582.5L754.5 582.5L754.2 583.2L752.2 583.2L751.8 583.5L746.2 583.5L745.8 584.2L743.2 584.2L741.5 584.8L736.8 585.2L736.5 585.5L735.2 585.5L734.8 585.8L731.5 585.8L731.2 586.2L727.2 586.5L726.8 586.8L725.2 586.8L724.8 587.2L723.2 587.2L722.8 587.5L718.8 587.5L718.5 587.8L716.8 587.8L716.5 588.2L714.8 588.2L714.5 588.5L712.8 588.5L712.5 588.8L710.5 588.8L710.2 589.2L706.5 589.2L706.2 589.5L704.5 589.5L704.2 589.8L699.5 590.2L699.2 590.5L697.8 590.5L697.5 590.8L693.8 590.8L693.5 591.2L691.8 591.2L691.5 591.5L689.8 591.5L689.5 591.8L685.5 591.8L685.2 592.2L681.5 592.5L681.2 592.8L679.8 592.8L679.5 593.2L677.5 593.2L675.8 593.8L669.2 594.2L667.5 594.8L665.2 594.8L664.8 595.2L663.5 595.2L663.2 595.5L659.5 595.5L659.2 595.8L656.8 595.8L656.5 596.2L655.2 596.2L654.8 596.5L651.2 596.5L650.8 596.8L648.5 596.8L646.8 597.5L642.8 597.5L642.5 597.8L640.2 597.8L638.5 598.5L634.5 598.5L634.2 598.8L630.8 599.2L629.2 599.8L625.2 599.8L624.8 600.2L622.5 600.2L620.8 600.8L612.8 601.2L612.5 601.5L610.2 601.5L609.8 601.8L608.5 601.8L608.2 602.2L601.8 602.5L601.5 602.8L599.8 602.8L598.5 603.5L591.2 603.8L590.8 604.2L588.2 604.2L586.5 604.8L582.8 604.8L582.5 605.2L574.5 605.5L574.2 605.8L571.5 605.8L569.8 606.5L568.5 606.5L568.2 606.8L565.2 606.8L564.8 607.2L560.8 607.2L560.5 607.5L556.8 607.5L556.5 607.8L552.5 607.8L552.2 608.2L548.2 608.5L546.5 609.2L539.2 609.5L538.8 609.8L534.8 609.8L534.5 610.2L530.5 610.2L530.2 610.5L526.2 610.5L524.8 611.2L521.2 611.2L520.8 611.5L513.2 611.5L512.8 611.8L509.2 611.8L508.8 612.2L507.5 612.2L507.2 612.5L499.5 612.8L499.2 613.2L494.2 613.2L493.8 613.5L490.5 613.5L490.2 613.8L482.2 613.8L481.8 614.2L480.5 614.2L480.2 614.5L472.5 614.5L472.2 614.8L467.2 614.8L466.8 615.2L448.8 615.5L448.2 616.2L447.8 615.8L439.2 615.8L438.8 616.2L430.2 615.8L429.5 616.5L429.2 616.2L425.5 616.2L425.2 615.8L421.2 615.8L420.5 616.5L420.2 616.2L415.2 616.2L414.8 616.5L414.2 616.5L413.2 617.5L410.5 618.2L409.8 618.8L407.5 619.5L406.5 620.2L405.8 620.2L404.5 621.2L400.8 622.2L398.8 623.5L398.2 623.5L397.8 623.8L395.2 624.5L394.2 625.2L390.5 626.2L389.8 626.8L388.5 627.2L387.5 627.8L381.8 629.5L380.8 630.2L380.2 630.2L378.8 630.8L377.2 630.8L375.2 631.8L369.5 633.5L368.5 634.2L366.8 634.2L366.5 634.5L362.8 635.5L361.8 636.2L360.2 636.2L356.8 637.5L355.5 637.5L353.2 638.5L351.5 638.5L348.8 639.5L347.2 639.5L346.8 639.8L343.5 639.8L342.8 640.5L340.8 640.5L340.5 640.8L335.2 640.8L334.5 641.5L332.5 641.5L332.2 641.8L330.5 641.8L330.2 642.2L326.8 642.2L326.2 642.8L320.5 643.2L320.2 643.5L316.5 643.5L315.5 644.2L313.8 644.2L313.5 644.5L310.2 644.5L309.5 645.2L307.5 645.2L307.2 645.5L301.8 645.5L301.2 646.2L299.2 646.2L298.8 646.5L297.2 646.5L296.8 646.8L293.5 646.8L292.8 647.5L290.8 647.5L290.5 647.8L285.2 647.8L284.5 648.5L282.5 648.5L282.2 648.8L280.5 648.8L280.2 649.2L274.8 649.2L273.8 649.8L272.2 649.8L271.8 650.2L268.5 650.2L267.8 650.8L265.8 650.8L265.5 651.2L260.2 651.2L259.5 651.8L257.5 651.8L257.2 652.2L253.5 652.2L253.2 652.5L249.2 652.8L248.8 653.2L247.2 653.2L246.8 653.5L241.5 653.5L240.5 654.2L238.8 654.2L238.5 654.5L233.2 654.5L232.2 655.2L230.5 655.2L230.2 655.5L224.8 655.5L223.8 656.2L222.2 656.2L221.8 656.5L216.5 656.5L215.5 657.2L213.8 657.2L213.5 657.5L208.2 657.5L207.2 658.2L201.8 658.2L201.2 658.8L199.2 658.8L198.8 659.2L191.5 659.2L190.5 659.8L188.8 659.8L188.5 660.2L183.2 660.2L182.2 660.8L174.8 660.8L173.8 661.5L166.5 661.5L165.5 662.2L158.2 662.2L157.5 662.5L166.8 662.5L167.2 662.2L183.2 661.8L183.5 661.5L196.5 661.2L196.8 660.8L202.2 660.8L202.5 660.5L207.2 660.5L207.5 660.2L212.5 660.2L212.8 659.8L222.8 659.5L223.2 659.2L227.5 659.2L227.8 658.8L236.8 658.5L237.2 658.2L240.8 658.2L241.2 657.8L245.8 657.8L246.2 657.5L249.8 657.5L250.2 657.2L254.2 657.2L254.5 656.8L258.5 656.8L258.8 656.5L262.5 656.5L262.8 656.2L266.5 656.2L266.8 655.8L270.5 655.8L270.8 655.5L274.5 655.5L274.8 655.2L282.5 654.8L282.8 654.5L286.2 654.5L286.5 654.2L289.8 654.2L290.2 653.8L293.5 653.8L293.8 653.5L297.5 653.5L297.8 653.2L300.5 653.2L300.8 652.8L304.5 652.8L304.8 652.5L307.5 652.5L307.8 652.2L311.5 652.2L311.8 651.8L314.5 651.8L314.8 651.5L318.5 651.5L318.8 651.2L321.5 651.2L321.8 650.8L325.2 650.8L325.5 650.5L328.2 650.5L328.5 650.2L331.5 650.2L331.8 649.8L334.8 649.8L335.2 649.5L341.5 649.2L341.8 648.8L347.8 648.5L348.2 648.2L350.8 648.2L351.2 647.8L353.8 647.8L354.2 647.5L357.2 647.5L357.5 647.2L359.8 647.2L360.2 646.8L363.5 646.8L363.8 646.5L366.2 646.5L366.5 646.2L369.5 646.2L369.8 645.8L372.2 645.8L372.5 645.5L375.2 645.5L375.5 645.2L378.2 645.2L378.5 644.8L380.8 644.8L381.2 644.5L387.2 644.2L387.5 643.8L392.8 643.5L393.2 643.2L398.5 642.8L398.8 642.5L401.5 642.5L401.8 642.2L405.5 642.2L405.8 641.8L407.2 641.8L407.5 641.5L413.8 641.2L414.2 640.8L417.8 640.5L418.2 640.2L422.2 640.2L423.8 639.5L426.2 639.5L426.5 639.2L430.5 639.2L430.8 638.8L434.2 638.5L434.5 638.2L437.2 638.2L437.5 637.8L439.8 637.8L440.2 637.5L442.5 637.5L442.8 637.2L447.8 636.8L448.2 636.5L450.2 636.5L450.5 636.2L453.5 636.2L453.8 635.8L458.2 635.5L458.5 635.2L460.5 635.2L460.8 634.8L463.5 634.8L463.8 634.5L465.8 634.5L466.2 634.2L468.5 634.2L468.8 633.8L471.2 633.8L471.5 633.5L473.5 633.5L473.8 633.2L478.8 632.8L479.2 632.5L483.8 632.2L484.2 631.8L486.2 631.8L486.5 631.5L488.8 631.5L489.2 631.2L491.2 631.2L491.5 630.8L494.2 630.8L494.5 630.5L496.5 630.5L496.8 630.2L498.8 630.2L499.2 629.8L501.5 629.8L501.8 629.5L503.8 629.5L504.2 629.2L506.2 629.2L506.5 628.8L511.5 628.5L511.8 628.2L513.5 628.2L513.8 627.8L516.2 627.8L516.5 627.5L518.8 627.5L519.2 627.2L521.2 627.2L521.5 626.8L523.5 626.8L523.8 626.5L526.2 626.5L526.5 626.2L528.5 626.2L528.8 625.8L530.8 625.8L531.2 625.5L533.2 625.5L533.5 625.2L535.5 625.2L535.8 624.8L538.2 624.8L538.5 624.5L540.5 624.5L540.8 624.2L543.2 624.2L543.5 623.8L547.5 623.5L547.8 623.2L550.2 623.2L550.5 622.8L552.5 622.8L552.8 622.5L554.8 622.5L555.2 622.2L557.5 622.2L557.8 621.8L559.8 621.8L560.2 621.5L561.8 621.5L562.2 621.2L566.8 620.8L567.2 620.5L569.2 620.5L569.5 620.2L571.5 620.2L571.8 619.8L574.2 619.8L574.5 619.5L576.5 619.5L576.8 619.2L578.5 619.2L578.8 618.8L583.5 618.5L583.8 618.2L585.5 618.2L585.8 617.8L590.5 617.5L590.8 617.2L592.5 617.2L592.8 616.8L594.8 616.8L595.2 616.5L597.2 616.5L597.5 616.2L599.5 616.2L599.8 615.8L601.8 615.8L602.2 615.5L604.2 615.5L604.5 615.2L606.5 615.2L606.8 614.8L608.8 614.8L609.2 614.5L611.2 614.5L611.5 614.2L613.5 614.2L613.8 613.8L615.8 613.8L616.2 613.5L618.2 613.5L618.5 613.2L620.5 613.2L620.8 612.8L622.8 612.8L623.2 612.5L625.2 612.5L625.5 612.2L632.2 611.5L632.5 611.2L634.2 611.2L634.5 610.8L639.2 610.5L639.5 610.2L641.2 610.2L641.5 609.8L648.2 609.2L648.5 608.8L650.2 608.8L650.5 608.5L652.5 608.5L652.8 608.2L657.2 607.8L657.5 607.5L659.2 607.5L659.5 607.2L664.2 606.8L664.5 606.5L668.5 606.2L668.8 605.8L670.8 605.8L671.2 605.5L672.8 605.5L673.2 605.2L675.2 605.2L675.5 604.8L682.2 604.2L682.5 603.8L684.2 603.8L684.5 603.5L689.2 603.2L689.5 602.8L690.8 602.8L691.2 602.5L693.2 602.5L693.5 602.2L695.5 602.2L695.8 601.8L697.8 601.8L698.2 601.5L704.8 600.8L705.2 600.5L706.8 600.5L707.2 600.2L708.8 600.2L709.2 599.8L711.2 599.8L711.5 599.5L713.8 599.5L714.2 599.2L718.2 598.8L718.5 598.5L720.2 598.5L720.5 598.2L722.5 598.2L722.8 597.8L724.5 597.8L724.8 597.5L729.2 597.2L729.5 596.8L731.2 596.8L731.5 596.5L733.5 596.5L733.8 596.2L740.5 595.5L740.8 595.2L742.5 595.2L742.8 594.8L747.2 594.5L747.5 594.2L751.5 593.8L751.8 593.5L753.5 593.5L753.8 593.2L760.5 592.5L760.8 592.2L762.5 592.2L762.8 591.8L764.5 591.8L764.8 591.5L766.8 591.5L767.2 591.2L771.5 590.8L771.8 590.5L773.5 590.5L773.8 590.2L780.5 589.5L780.8 589.2L786.5 588.5L786.8 588.2L788.2 588.2L788.5 587.8L793.2 587.5L793.5 587.2L794.8 587.2L795.2 586.8L796.8 586.8L797.2 586.5L800.8 586.2L801.2 585.8L804.5 585.5L804.8 585.2L806.5 585.2L806.8 584.8L808.2 584.8L808.5 584.5L810.2 584.5L810.5 584.2L811.8 584.2L812.2 583.8L813.8 583.8L814.2 583.5L815.5 583.5L817.2 582.8L822.2 582.2L823.5 581.5L827.2 581.2L828.2 580.5L829.8 580.5L831.2 579.8L832.8 579.8L834.2 579.2L835.5 579.2L836.8 578.5L838.5 578.5L838.8 578.2L841.2 577.8L842.5 577.2L844.2 577.2L844.5 576.8L845.2 576.8L846.5 576.2L847.8 576.2L850.2 575.2L851.8 575.2L853.8 574.2L855.5 574.2L858.8 572.8L860.2 572.8L864.5 571.2L865.8 571.2L866.2 570.8L871.8 569.2L872.8 568.5L873.5 568.5L873.8 568.2L875.5 568.2L875.8 567.8L877.5 567.5L878.5 566.8L884.2 565.2L885.2 564.5L885.8 564.5L888.2 563.5L889.5 563.5Z"/>
<path fill="url(#g11)" fill-rule="evenodd" d="M346.5 639.8L343.5 639.8L342.8 640.5L340.8 640.5L340.5 640.8L335.2 640.8L334.5 641.5L332.5 641.5L332.2 641.8L330.5 641.8L330.2 642.2L326.8 642.2L326.2 642.8L324.2 642.8L323.8 643.2L316.5 643.5L315.5 644.2L313.8 644.2L313.5 644.5L310.2 644.5L309.5 645.2L307.5 645.2L307.2 645.5L301.8 645.5L301.2 646.2L299.2 646.2L298.8 646.5L297.2 646.5L296.8 646.8L293.5 646.8L292.8 647.5L290.8 647.5L290.5 647.8L285.2 647.8L284.5 648.5L282.5 648.5L282.2 648.8L280.5 648.8L280.2 649.2L274.8 649.2L273.8 649.8L272.2 649.8L271.8 650.2L268.5 650.2L267.8 650.8L265.8 650.8L265.5 651.2L260.2 651.2L259.5 651.8L257.5 651.8L257.2 652.2L253.5 652.2L253.2 652.5L249.2 652.8L248.8 653.2L247.2 653.2L246.8 653.5L241.5 653.5L240.5 654.2L238.8 654.2L238.5 654.5L233.2 654.5L232.2 655.2L230.5 655.2L230.2 655.5L224.8 655.5L223.8 656.2L222.2 656.2L221.8 656.5L216.5 656.5L215.5 657.2L213.8 657.2L213.5 657.5L208.2 657.5L207.2 658.2L201.8 658.2L201.2 658.8L199.2 658.8L198.8 659.2L191.5 659.2L190.5 659.8L188.8 659.8L188.5 660.2L183.2 660.2L182.2 660.8L174.8 660.8L173.8 661.5L166.5 661.5L165.5 662.2L158.2 662.2L157.5 662.5L166.8 662.5L167.2 662.2L175.5 662.2L175.8 661.8L183.2 661.8L183.5 661.5L196.5 661.2L196.8 660.8L202.2 660.8L202.5 660.5L207.2 660.5L207.5 660.2L212.5 660.2L212.8 659.8L217.8 659.8L218.2 659.5L222.8 659.5L223.2 659.2L227.5 659.2L227.8 658.8L236.8 658.5L237.2 658.2L240.8 658.2L241.2 657.8L245.8 657.8L246.2 657.5L249.8 657.5L250.2 657.2L254.2 657.2L254.5 656.8L258.5 656.8L258.8 656.5L262.5 656.5L262.8 656.2L266.5 656.2L266.8 655.8L270.5 655.8L270.8 655.5L274.5 655.5L274.8 655.2L282.5 654.8L282.8 654.5L286.2 654.5L286.5 654.2L289.8 654.2L290.2 653.8L293.5 653.8L293.8 653.5L297.5 653.5L297.8 653.2L300.5 653.2L300.8 652.8L304.5 652.8L304.8 652.5L307.5 652.5L307.8 652.2L311.5 652.2L311.8 651.8L314.5 651.8L314.8 651.5L318.5 651.5L318.8 651.2L321.5 651.2L321.8 650.8L325.2 650.8L325.5 650.5L328.2 650.5L328.5 650.2L331.5 650.2L331.8 649.8L334.8 649.8L335.2 649.5L341.5 649.2L334.2 649.5L333.8 649.8L329.8 649.8L329.5 650.2L327.5 650.2L327.2 650.5L319.8 650.8L319.5 651.2L315.5 651.2L315.2 651.5L310.5 651.5L310.2 651.8L306.2 651.8L305.8 652.2L296.2 652.5L295.8 652.8L290.2 652.8L289.8 653.2L285.2 653.2L284.8 653.5L277.5 653.5L277.2 653.2L277.5 652.8L280.2 652.8L280.5 652.5L281.8 652.5L282.2 652.2L284.8 652.2L285.2 651.8L288.5 651.5L288.8 651.2L291.5 651.2L291.8 650.8L293.2 650.8L293.5 650.5L295.2 650.5L295.5 650.2L299.2 649.8L299.5 649.5L302.8 649.2L303.2 648.8L304.8 648.8L305.2 648.5L306.5 648.5L306.8 648.2L310.5 647.8L310.8 647.5L312.2 647.5L312.5 647.2L314.2 647.2L315.5 646.5L317.2 646.5L317.5 646.2L318.8 646.2L319.2 645.8L320.8 645.8L322.2 645.2L325.5 644.8L326.8 644.2L328.5 644.2L329.8 643.5L333.2 643.2L334.5 642.5L336.2 642.5L336.5 642.2L338.8 641.8L340.2 641.2L341.8 641.2L343.8 640.2L345.5 640.2L345.8 639.8ZM276.2 653.5L276.5 653.2L277.2 653.2L277.5 653.5L277.2 653.8L276.5 653.8Z"/>
</g>
<polyline fill="none" stroke="#14103c" stroke-opacity="0.8" stroke-width="4" stroke-linejoin="round" stroke-linecap="round" points="168.0,660.2 174.0,660.2 180.0,659.9 186.0,659.5 192.0,659.2 198.0,658.9 204.0,658.5 210.0,658.2 216.0,657.9 222.0,657.5 228.0,656.9 234.0,656.5 240.0,656.2 246.0,655.5 252.0,655.2 258.0,654.9 264.0,654.2 270.0,653.9 276.0,653.2 282.0,652.9 288.0,652.2 294.0,651.5 300.0,651.2 306.0,650.5 312.0,649.9 318.0,649.5 324.0,648.9 330.0,648.2 336.0,647.5 342.0,646.9 348.0,646.2 354.0,645.5 360.0,644.9 366.0,644.5 372.0,643.9 378.0,643.2 384.0,642.5 390.0,641.5 396.0,640.9 402.0,640.2 408.0,639.5 414.0,638.9 420.0,638.2 426.0,637.5 432.0,636.5 438.0,635.9 444.0,635.2 450.0,634.5 456.0,633.5 462.0,632.9 468.0,632.2 474.0,631.2 480.0,630.5 486.0,629.9 492.0,628.9 498.0,628.2 504.0,627.2 510.0,626.5 516.0,625.9 522.0,624.9 528.0,624.2 534.0,623.2 540.0,622.5 546.0,621.5 552.0,620.9 558.0,619.9 564.0,619.2 570.0,618.2 576.0,617.5 582.0,616.5 588.0,615.5 594.0,614.9 600.0,613.9 606.0,613.2 612.0,612.2 618.0,611.5 624.0,610.5 630.0,609.5 636.0,608.9 642.0,607.9 648.0,607.2 654.0,606.2 660.0,605.2 666.0,604.5 672.0,603.5 678.0,602.5 684.0,601.9 690.0,600.9 696.0,599.9 702.0,599.2 708.0,598.2 714.0,597.2 720.0,596.5 726.0,595.5 732.0,594.5 738.0,593.9 744.0,592.9 750.0,591.9 756.0,590.9 762.0,590.2 768.0,589.2 774.0,588.2 780.0,587.5 786.0,586.5 792.0,585.5 798.0,584.5 804.0,583.5 810.0,582.5 816.0,581.2 822.0,580.2 828.0,578.5 834.0,577.2 840.0,575.9 846.0,574.5 852.0,572.9 858.0,571.2 864.0,569.5 870.0,567.5 876.0,565.9 882.0,563.9 888.0,561.5 894.0,559.2"/>
<g fill="#000">
<circle cx="682.3" cy="101.7" r="3.9" fill-opacity="0.55"/>
<circle cx="783.4" cy="199.4" r="3.9"/>
<circle cx="817.1" cy="213.8" r="3.9"/>
<circle cx="850.8" cy="223.6" r="3.9"/>
<circle cx="884.5" cy="230.3" r="3.9"/>
<circle cx="918.2" cy="234.5" r="3.9"/>
<circle cx="951.9" cy="236.9" r="3.9"/>
<circle cx="985.6" cy="238.0" r="3.9"/>
<circle cx="1019.3" cy="238.0" r="3.9"/>
<circle cx="1053.0" cy="237.2" r="3.9"/>
<circle cx="1103.6" cy="234.8" r="3.9"/>
<circle cx="691.9" cy="279.8" r="3.9"/>
<circle cx="725.6" cy="299.3" r="3.9"/>
<circle cx="759.3" cy="312.1" r="3.9"/>
<circle cx="793.0" cy="320.4" r="3.9"/>
<circle cx="826.7" cy="325.5" r="3.9"/>
<circle cx="860.4" cy="328.4" r="3.9"/>
<circle cx="894.1" cy="329.7" r="3.9"/>
<circle cx="927.8" cy="329.8" r="3.9"/>
<circle cx="961.5" cy="328.9" r="3.9"/>
<circle cx="995.2" cy="327.2" r="3.9"/>
<circle cx="1028.9" cy="325.0" r="3.9"/>
<circle cx="1079.4" cy="320.9" r="3.9"/>
<circle cx="634.0" cy="349.2" r="3.9"/>
<circle cx="667.7" cy="369.8" r="3.9"/>
<circle cx="701.4" cy="382.6" r="3.9"/>
<circle cx="735.1" cy="390.6" r="3.9"/>
<circle cx="768.8" cy="395.2" r="3.9"/>
<circle cx="802.5" cy="397.5" r="3.9"/>
<circle cx="836.2" cy="398.2" r="3.9"/>
<circle cx="869.9" cy="397.7" r="3.9"/>
<circle cx="903.6" cy="396.3" r="3.9"/>
<circle cx="937.3" cy="394.3" r="3.9"/>
<circle cx="971.0" cy="391.6" r="3.9"/>
<circle cx="1004.7" cy="388.6" r="3.9"/>
<circle cx="1055.3" cy="383.4" r="3.9"/>
<circle cx="609.9" cy="419.9" r="3.9"/>
<circle cx="643.6" cy="434.3" r="3.9"/>
<circle cx="677.3" cy="442.9" r="3.9"/>
<circle cx="711.0" cy="447.7" r="3.9"/>
<circle cx="744.7" cy="449.9" r="3.9"/>
<circle cx="778.4" cy="450.5" r="3.9"/>
<circle cx="812.1" cy="449.7" r="3.9"/>
<circle cx="845.8" cy="448.1" r="3.9"/>
<circle cx="879.5" cy="445.8" r="3.9"/>
<circle cx="913.2" cy="442.9" r="3.9"/>
<circle cx="946.9" cy="439.7" r="3.9"/>
<circle cx="980.6" cy="436.1" r="3.9"/>
<circle cx="1031.1" cy="430.3" r="3.9"/>
<circle cx="585.7" cy="472.0" r="3.9"/>
<circle cx="619.4" cy="482.3" r="3.9"/>
<circle cx="653.1" cy="487.9" r="3.9"/>
<circle cx="686.8" cy="490.5" r="3.9"/>
<circle cx="889.0" cy="480.1" r="3.9"/>
<circle cx="922.7" cy="476.4" r="3.9"/>
<circle cx="956.4" cy="472.4" r="3.9"/>
<circle cx="1007.0" cy="466.2" r="3.9"/>
<circle cx="561.5" cy="511.6" r="3.4" fill-opacity="0.71"/>
<circle cx="595.2" cy="518.9" r="3.4" fill-opacity="0.92"/>
<circle cx="628.9" cy="522.4" r="3.4" fill-opacity="0.64"/>
<circle cx="696.3" cy="523.0" r="3.4" fill-opacity="0.83"/>
<circle cx="730.0" cy="521.4" r="3.4" fill-opacity="0.74"/>
<circle cx="797.4" cy="516.1" r="3.4" fill-opacity="0.79"/>
<circle cx="864.8" cy="508.9" r="3.4" fill-opacity="0.71"/>
<circle cx="898.5" cy="504.9" r="3.4" fill-opacity="0.79"/>
<circle cx="932.2" cy="500.7" r="3.4" fill-opacity="0.93"/>
<circle cx="982.8" cy="494.1" r="3.4" fill-opacity="0.80"/>
<circle cx="537.4" cy="542.2" r="3.4" fill-opacity="0.73"/>
<circle cx="571.1" cy="547.3" r="3.4" fill-opacity="0.91"/>
<circle cx="604.8" cy="549.3" r="3.4" fill-opacity="0.47"/>
<circle cx="638.5" cy="549.3" r="3.4" fill-opacity="0.61"/>
<circle cx="672.2" cy="548.0" r="3.4" fill-opacity="0.74"/>
<circle cx="705.9" cy="545.7" r="3.4" fill-opacity="0.67"/>
<circle cx="739.6" cy="542.8" r="3.4" fill-opacity="0.84"/>
<circle cx="773.3" cy="539.5" r="3.4" fill-opacity="0.55"/>
<circle cx="807.0" cy="535.7" r="3.4" fill-opacity="0.48"/>
<circle cx="840.7" cy="531.7" r="3.4" fill-opacity="0.72"/>
<circle cx="874.4" cy="527.5" r="3.4" fill-opacity="0.72"/>
<circle cx="908.1" cy="523.1" r="3.4" fill-opacity="0.94"/>
<circle cx="958.6" cy="516.2" r="3.4" fill-opacity="0.94"/>
<circle cx="513.2" cy="566.4" r="3.4" fill-opacity="0.88"/>
<circle cx="546.9" cy="569.8" r="3.4" fill-opacity="0.75"/>
<circle cx="580.6" cy="570.6" r="3.4" fill-opacity="0.74"/>
<circle cx="681.7" cy="565.0" r="3.4" fill-opacity="0.57"/>
<circle cx="715.4" cy="561.7" r="3.4" fill-opacity="0.74"/>
<circle cx="749.1" cy="558.0" r="3.4" fill-opacity="0.61"/>
<circle cx="782.8" cy="554.1" r="3.4" fill-opacity="0.77"/>
<circle cx="816.5" cy="549.8" r="3.4" fill-opacity="0.90"/>
<circle cx="850.2" cy="545.4" r="3.4" fill-opacity="0.89"/>
<circle cx="883.9" cy="540.9" r="3.4" fill-opacity="0.80"/>
<circle cx="934.5" cy="533.9" r="3.4" fill-opacity="0.98"/>
<circle cx="489.1" cy="585.6" r="3.4" fill-opacity="0.88"/>
<circle cx="522.8" cy="587.7" r="3.4" fill-opacity="0.84"/>
<circle cx="556.5" cy="587.6" r="3.4" fill-opacity="0.71"/>
<circle cx="590.2" cy="586.1" r="3.4" fill-opacity="0.84"/>
<circle cx="623.9" cy="583.6" r="3.4" fill-opacity="0.92"/>
<circle cx="657.6" cy="580.5" r="3.4" fill-opacity="0.81"/>
<circle cx="691.3" cy="576.9" r="3.4" fill-opacity="0.94"/>
<circle cx="725.0" cy="573.0" r="3.4" fill-opacity="0.92"/>
<circle cx="758.7" cy="568.8" r="3.4" fill-opacity="0.89"/>
<circle cx="792.4" cy="564.4" r="3.4" fill-opacity="0.76"/>
<circle cx="826.1" cy="559.9" r="3.4" fill-opacity="0.80"/>
<circle cx="859.8" cy="555.2" r="3.4" fill-opacity="0.80"/>
<circle cx="910.3" cy="548.1" r="3.4" fill-opacity="0.90"/>
<circle cx="464.9" cy="601.1" r="3.4" fill-opacity="0.80"/>
<circle cx="498.6" cy="602.1" r="3.4" fill-opacity="0.95"/>
<circle cx="532.3" cy="601.3" r="3.4" fill-opacity="0.83"/>
<circle cx="566.0" cy="599.3" r="3.4" fill-opacity="0.79"/>
<circle cx="599.7" cy="596.4" r="3.4" fill-opacity="0.80"/>
<circle cx="633.4" cy="593.0" r="3.4" fill-opacity="0.99"/>
<circle cx="667.1" cy="589.2" r="3.4" fill-opacity="0.78"/>
<circle cx="700.8" cy="585.0" r="3.4" fill-opacity="0.89"/>
<circle cx="734.5" cy="580.7" r="3.4" fill-opacity="0.86"/>
<circle cx="768.2" cy="576.2" r="3.4" fill-opacity="0.82"/>
<circle cx="801.9" cy="571.6" r="3.4" fill-opacity="0.86"/>
<circle cx="835.6" cy="566.8" r="3.4" fill-opacity="0.92"/>
<circle cx="886.2" cy="559.6" r="3.4" fill-opacity="0.85"/>
<circle cx="440.8" cy="613.6" r="3.4" fill-opacity="0.83"/>
<circle cx="474.5" cy="613.8" r="3.4" fill-opacity="0.99"/>
<circle cx="508.2" cy="612.4" r="3.4" fill-opacity="0.95"/>
<circle cx="541.9" cy="609.9" r="3.4" fill-opacity="0.87"/>
<circle cx="575.6" cy="606.8" r="3.4" fill-opacity="0.97"/>
<circle cx="609.3" cy="603.1" r="3.4" fill-opacity="0.98"/>
<circle cx="643.0" cy="599.1" r="3.4" fill-opacity="0.83"/>
<circle cx="676.7" cy="594.8" r="3.4" fill-opacity="0.88"/>
<circle cx="710.4" cy="590.4" r="3.4" fill-opacity="0.86"/>
<circle cx="744.1" cy="585.8" r="3.4" fill-opacity="0.91"/>
<circle cx="777.8" cy="581.0" r="3.4" fill-opacity="0.85"/>
<circle cx="811.5" cy="576.2" r="3.4" fill-opacity="0.74"/>
<circle cx="862.0" cy="568.9" r="3.4" fill-opacity="0.99"/>
<circle cx="416.6" cy="623.8" r="3.4" fill-opacity="0.81"/>
<circle cx="450.3" cy="623.3" r="3.4" fill-opacity="0.87"/>
<circle cx="484.0" cy="621.5" r="3.4" fill-opacity="0.89"/>
<circle cx="517.7" cy="618.6" r="3.4" fill-opacity="0.77"/>
<circle cx="551.4" cy="615.2" r="3.4" fill-opacity="0.72"/>
<circle cx="585.1" cy="611.3" r="3.4" fill-opacity="1.00"/>
<circle cx="618.8" cy="607.2" r="3.4" fill-opacity="0.72"/>
<circle cx="652.5" cy="602.8" r="3.4" fill-opacity="0.93"/>
<circle cx="686.2" cy="598.2" r="3.4" fill-opacity="0.84"/>
<circle cx="719.9" cy="593.5" r="3.4" fill-opacity="0.81"/>
<circle cx="753.6" cy="588.7" r="3.4" fill-opacity="0.88"/>
<circle cx="787.3" cy="583.9" r="3.4" fill-opacity="0.90"/>
<circle cx="837.9" cy="576.4" r="3.4" fill-opacity="0.81"/>
<circle cx="392.5" cy="632.1" r="3.4" fill-opacity="0.72"/>
<circle cx="426.2" cy="631.1" r="3.4" fill-opacity="0.72"/>
<circle cx="459.9" cy="628.8" r="3.4" fill-opacity="0.91"/>
<circle cx="493.6" cy="625.7" r="3.4" fill-opacity="0.94"/>
<circle cx="527.3" cy="622.1" r="3.4" fill-opacity="0.75"/>
<circle cx="561.0" cy="618.0" r="3.4" fill-opacity="0.79"/>
<circle cx="594.7" cy="613.7" r="3.4" fill-opacity="0.75"/>
<circle cx="628.4" cy="609.2" r="3.4" fill-opacity="0.90"/>
<circle cx="662.1" cy="604.6" r="3.4" fill-opacity="0.93"/>
<circle cx="695.8" cy="599.8" r="3.4" fill-opacity="0.80"/>
<circle cx="729.5" cy="595.0" r="3.4" fill-opacity="0.71"/>
<circle cx="763.2" cy="590.0" r="3.4" fill-opacity="0.72"/>
<circle cx="813.7" cy="582.6" r="3.4" fill-opacity="0.91"/>
<circle cx="368.3" cy="638.8" r="3.4" fill-opacity="0.88"/>
<circle cx="402.0" cy="637.4" r="3.4" fill-opacity="0.97"/>
<circle cx="435.7" cy="634.8" r="3.4" fill-opacity="0.96"/>
<circle cx="469.4" cy="631.5" r="3.4" fill-opacity="0.74"/>
<circle cx="503.1" cy="627.6" r="3.4" fill-opacity="0.94"/>
<circle cx="536.8" cy="623.5" r="3.4" fill-opacity="0.93"/>
<circle cx="570.5" cy="619.1" r="3.4" fill-opacity="0.86"/>
<circle cx="604.2" cy="614.5" r="3.4" fill-opacity="0.89"/>
<circle cx="637.9" cy="609.7" r="3.4" fill-opacity="0.97"/>
<circle cx="671.6" cy="604.9" r="3.4" fill-opacity="0.77"/>
<circle cx="705.3" cy="600.0" r="3.4" fill-opacity="0.85"/>
<circle cx="739.0" cy="595.1" r="3.4" fill-opacity="0.81"/>
<circle cx="789.6" cy="587.5" r="3.4" fill-opacity="0.84"/>
<circle cx="344.2" cy="644.4" r="3.4" fill-opacity="0.82"/>
<circle cx="377.9" cy="642.5" r="3.4" fill-opacity="0.83"/>
<circle cx="445.3" cy="636.1" r="3.4" fill-opacity="0.99"/>
<circle cx="479.0" cy="632.1" r="3.4" fill-opacity="0.98"/>
<circle cx="512.7" cy="627.8" r="3.4" fill-opacity="0.83"/>
<circle cx="546.4" cy="623.3" r="3.4" fill-opacity="0.79"/>
<circle cx="580.1" cy="618.7" r="3.4" fill-opacity="0.88"/>
<circle cx="613.8" cy="613.9" r="3.4" fill-opacity="0.78"/>
<circle cx="647.5" cy="609.0" r="3.4" fill-opacity="0.89"/>
<circle cx="681.2" cy="604.1" r="3.4" fill-opacity="0.80"/>
<circle cx="714.9" cy="599.1" r="3.4" fill-opacity="0.80"/>
<circle cx="765.4" cy="591.5" r="3.4" fill-opacity="0.86"/>
<circle cx="353.7" cy="646.6" r="3.4" fill-opacity="0.85"/>
<circle cx="387.4" cy="643.5" r="3.4" fill-opacity="0.85"/>
<circle cx="421.1" cy="639.8" r="3.4" fill-opacity="0.95"/>
<circle cx="454.8" cy="635.7" r="3.4" fill-opacity="0.78"/>
<circle cx="488.5" cy="631.3" r="3.4" fill-opacity="0.96"/>
<circle cx="522.2" cy="626.7" r="3.4" fill-opacity="0.80"/>
<circle cx="555.9" cy="622.0" r="3.4" fill-opacity="0.90"/>
<circle cx="589.6" cy="617.2" r="3.4" fill-opacity="0.93"/>
<circle cx="623.3" cy="612.3" r="3.4" fill-opacity="0.86"/>
<circle cx="657.0" cy="607.3" r="3.4" fill-opacity="0.79"/>
<circle cx="690.7" cy="602.3" r="3.4" fill-opacity="1.00"/>
<circle cx="741.3" cy="594.7" r="3.4" fill-opacity="0.76"/>
<circle cx="295.9" cy="652.4" r="3.4" fill-opacity="0.93"/>
<circle cx="329.6" cy="649.9" r="3.4" fill-opacity="0.79"/>
<circle cx="363.3" cy="646.6" r="3.4" fill-opacity="0.72"/>
<circle cx="397.0" cy="642.8" r="3.4" fill-opacity="0.87"/>
<circle cx="430.7" cy="638.5" r="3.4" fill-opacity="0.71"/>
<circle cx="464.4" cy="634.1" r="3.4" fill-opacity="0.90"/>
<circle cx="498.1" cy="629.4" r="3.4" fill-opacity="0.74"/>
<circle cx="531.8" cy="624.7" r="3.4" fill-opacity="0.71"/>
<circle cx="565.5" cy="619.8" r="3.4" fill-opacity="0.78"/>
<circle cx="599.2" cy="614.8" r="3.4" fill-opacity="0.90"/>
<circle cx="632.9" cy="609.8" r="3.4" fill-opacity="0.86"/>
<circle cx="666.6" cy="604.8" r="3.4" fill-opacity="0.72"/>
<circle cx="717.1" cy="597.1" r="3.4" fill-opacity="0.94"/>
<circle cx="271.7" cy="655.3" r="3.4" fill-opacity="0.82"/>
<circle cx="305.4" cy="652.5" r="3.4" fill-opacity="0.72"/>
<circle cx="339.1" cy="649.0" r="3.4" fill-opacity="0.97"/>
<circle cx="372.8" cy="645.1" r="3.4" fill-opacity="0.71"/>
<circle cx="440.2" cy="636.2" r="3.4" fill-opacity="0.84"/>
<circle cx="473.9" cy="631.5" r="3.4" fill-opacity="0.89"/>
<circle cx="507.6" cy="626.7" r="3.4" fill-opacity="0.91"/>
<circle cx="541.3" cy="621.8" r="3.4" fill-opacity="0.70"/>
<circle cx="575.0" cy="616.8" r="3.4" fill-opacity="0.96"/>
<circle cx="608.7" cy="611.7" r="3.4" fill-opacity="0.90"/>
<circle cx="642.4" cy="606.7" r="3.4" fill-opacity="0.94"/>
<circle cx="693.0" cy="599.0" r="3.4" fill-opacity="0.82"/>
<circle cx="247.5" cy="657.5" r="3.4" fill-opacity="0.95"/>
<circle cx="281.2" cy="654.5" r="3.4" fill-opacity="0.75"/>
<circle cx="314.9" cy="650.9" r="3.4" fill-opacity="0.83"/>
<circle cx="348.6" cy="646.8" r="3.4" fill-opacity="0.89"/>
<circle cx="382.3" cy="642.4" r="3.4" fill-opacity="0.80"/>
<circle cx="416.0" cy="637.8" r="3.4" fill-opacity="0.83"/>
<circle cx="449.8" cy="633.0" r="3.4" fill-opacity="0.99"/>
<circle cx="483.5" cy="628.2" r="3.4" fill-opacity="0.85"/>
<circle cx="517.1" cy="623.2" r="3.4" fill-opacity="0.84"/>
<circle cx="550.8" cy="618.2" r="3.4" fill-opacity="0.77"/>
<circle cx="584.5" cy="613.1" r="3.4" fill-opacity="0.88"/>
<circle cx="618.2" cy="608.1" r="3.4" fill-opacity="0.84"/>
<circle cx="668.8" cy="600.4" r="3.4" fill-opacity="0.98"/>
<circle cx="223.4" cy="659.2" r="3.4" fill-opacity="0.99"/>
<circle cx="257.1" cy="656.0" r="3.4" fill-opacity="0.78"/>
<circle cx="290.8" cy="652.2" r="3.4" fill-opacity="0.99"/>
<circle cx="324.5" cy="648.0" r="3.4" fill-opacity="0.99"/>
<circle cx="358.2" cy="643.6" r="3.4" fill-opacity="0.96"/>
<circle cx="391.9" cy="638.9" r="3.4" fill-opacity="0.79"/>
<circle cx="425.6" cy="634.1" r="3.4" fill-opacity="0.73"/>
<circle cx="459.3" cy="629.2" r="3.4" fill-opacity="0.89"/>
<circle cx="493.0" cy="624.2" r="3.4" fill-opacity="0.77"/>
<circle cx="526.7" cy="619.2" r="3.4" fill-opacity="0.84"/>
<circle cx="560.4" cy="614.1" r="3.4" fill-opacity="0.79"/>
<circle cx="594.1" cy="609.0" r="3.4" fill-opacity="0.74"/>
<circle cx="644.6" cy="601.3" r="3.4" fill-opacity="0.84"/>
<circle cx="199.2" cy="660.4" r="3.4" fill-opacity="0.87"/>
<circle cx="232.9" cy="657.1" r="3.4" fill-opacity="0.97"/>
<circle cx="266.6" cy="653.1" r="3.4" fill-opacity="0.86"/>
<circle cx="300.3" cy="648.9" r="3.4" fill-opacity="0.74"/>
<circle cx="334.0" cy="644.3" r="3.4" fill-opacity="0.99"/>
<circle cx="367.7" cy="639.6" r="3.4" fill-opacity="0.80"/>
<circle cx="401.4" cy="634.8" r="3.4" fill-opacity="0.98"/>
<circle cx="435.1" cy="629.8" r="3.4" fill-opacity="0.96"/>
<circle cx="468.8" cy="624.8" r="3.4" fill-opacity="0.71"/>
<circle cx="502.5" cy="619.8" r="3.4" fill-opacity="0.97"/>
<circle cx="536.2" cy="614.7" r="3.4" fill-opacity="0.83"/>
<circle cx="569.9" cy="609.6" r="3.4" fill-opacity="0.75"/>
<circle cx="620.5" cy="601.8" r="3.4" fill-opacity="0.82"/>
</g>
<g fill="#111"><text x="95.5" y="67.2" class="l" font-size="54">10</text>
<text x="120.0" y="131.5" class="l" font-size="54">9</text>
<text x="121.5" y="201.8" class="l" font-size="54">8</text>
<text x="124.5" y="268.5" class="l" font-size="54">7</text>
<text x="123.5" y="334.5" class="l" font-size="54">6</text>
<text x="124.5" y="398.5" class="l" font-size="54">5</text>
<text x="122.5" y="465.3" class="l" font-size="54">4</text>
<text x="124.5" y="535.6" class="l" font-size="54">3</text>
<text x="124.8" y="599.2" class="l" font-size="54">2</text>
<text x="124.1" y="664.2" class="l" font-size="54">1</text>
<text x="165.0" y="748.0" class="l" font-size="56">3</text>
<text x="410.0" y="774.5" class="l" font-size="56">2</text>
<text x="645.4" y="802.5" class="l" font-size="56">1</text>
<text x="780.9" y="789.5" class="l" font-size="56">4</text>
<text x="956.3" y="763.0" class="l" font-size="56">6</text>
<text x="1116.8" y="739.5" class="l" font-size="56">8</text>
<text x="300.5" y="847.0" class="c" font-size="57">电</text>
<text x="359.0" y="845.5" class="c" font-size="57">压</text>
<text x="438.0" y="850.5" class="l" font-size="78">/</text>
<text x="468.0" y="842.0" class="l" font-size="57">V</text>
<text x="831.5" y="851.2" class="c" font-size="57">直</text>
<text x="894.0" y="850.2" class="c" font-size="57">径</text>
<text x="972.2" y="854.2" class="l" font-size="78">/</text>
<text x="1003.8" y="848.5" class="l" font-size="57">10</text>
<text x="1065.2" y="811.2" class="l" font-size="30">−4</text>
<text x="1117.5" y="847.8" class="l" font-size="57">m</text>
<text transform="translate(49.5,407.5) rotate(-90)" class="c" font-size="57">时</text>
<text transform="translate(53.0,347.5) rotate(-90)" class="c" font-size="57">间</text>
<text transform="translate(54.5,268.0) rotate(-90)" class="l" font-size="78">/</text>
<text transform="translate(50.5,239.0) rotate(-90)" class="l" font-size="61">s</text></g>
</svg>
</body></html>
